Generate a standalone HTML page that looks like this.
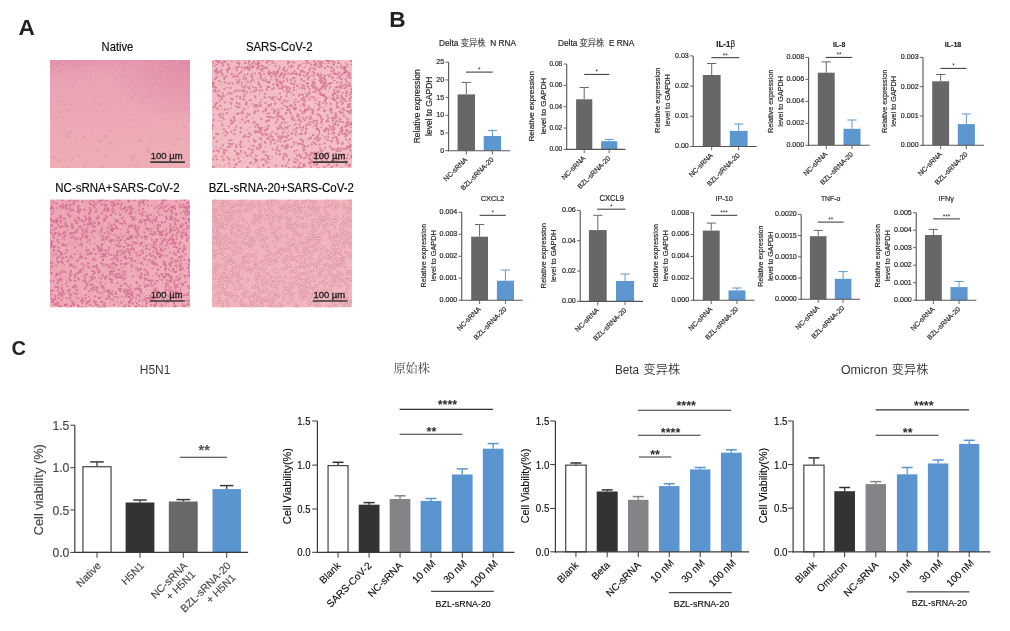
<!DOCTYPE html>
<html><head><meta charset="utf-8"><title>Figure</title><style>html,body{margin:0;padding:0;background:#fff;}svg{display:block;filter:blur(0.3px);}text{font-kerning:normal;}</style></head><body>
<svg width="1010" height="631" viewBox="0 0 1010 631" font-family='"Liberation Sans", Arial, "Noto Sans CJK SC", sans-serif' shape-rendering='auto'>
<rect width="1010" height="631" fill="#fff"/>
<text x="18.4" y="34.8" font-size="22.7" fill="#222" font-weight="bold">A</text>
<text x="117.45" y="50.7" font-size="13" stroke="#333" stroke-width="0.2" text-anchor="middle" textLength="31.7" lengthAdjust="spacingAndGlyphs">Native</text>
<text x="279.2" y="50.5" font-size="13" stroke="#333" stroke-width="0.2" text-anchor="middle" textLength="66.6" lengthAdjust="spacingAndGlyphs">SARS-CoV-2</text>
<text x="117.45" y="191.9" font-size="13" stroke="#333" stroke-width="0.2" text-anchor="middle" textLength="124.3" lengthAdjust="spacingAndGlyphs">NC-sRNA+SARS-CoV-2</text>
<text x="281.35" y="192" font-size="13" stroke="#333" stroke-width="0.2" text-anchor="middle" textLength="145.3" lengthAdjust="spacingAndGlyphs">BZL-sRNA-20+SARS-CoV-2</text>
<clipPath id="c1"><rect x="50" y="60" width="140" height="108.2"/></clipPath>
<linearGradient id="g1" x1="0" y1="0" x2="0.15" y2="1"><stop offset="0" stop-color="#e38eab"/><stop offset="0.16" stop-color="#eaa2b3"/><stop offset="1" stop-color="#eeadb5"/></linearGradient><radialGradient id="g1r" cx="1" cy="0" r="0.6"><stop offset="0" stop-color="#d8709a" stop-opacity="0.45"/><stop offset="1" stop-color="#d8709a" stop-opacity="0"/></radialGradient>
<g clip-path="url(#c1)">
<rect x="50" y="60" width="140" height="108.2" fill="url(#g1)"/>
<rect x="50" y="60" width="140" height="108.2" fill="url(#g1r)"/>
<path d="M68.8 151.7h0M156.9 87.6h0M119.4 108.6h0M141.2 145.3h0M63.1 63.1h0M167 106.8h0M156.7 60.2h0M112.4 138.1h0M82 162.3h0M176.2 63.3h0M53.6 118.6h0M181.5 101.2h0M80.3 105.7h0M54.1 84h0M111.3 113.6h0M82.6 85h0M80.6 109.7h0M90.6 62.3h0M167.3 120.2h0M139.9 80.1h0M189 153h0M66.9 96h0M151 137h0M181.1 105.7h0M166.2 132.5h0M92.5 123.6h0M173.5 151.6h0M120.7 123.7h0M54.8 86.3h0M161.6 104.8h0M74.2 119.4h0M148.4 133h0M102.5 107.5h0M121.2 144.2h0M122.9 102.6h0M118.6 63.2h0M56.1 136.1h0M187.6 124.2h0M105.1 78.4h0M120.3 166.3h0M157.9 118.4h0M170.4 85.1h0M121.9 163.1h0M130.9 109.7h0M87.7 119.3h0M184 60.6h0M159.7 148.8h0M174.1 140.1h0M163.3 116.1h0M128.6 106.1h0M57.9 154.1h0M129.8 81.6h0M120.7 112.5h0M100 97.4h0M125.4 127.5h0M135.7 109.6h0M53.9 84.8h0M74.8 123.2h0M170.5 146.4h0M161.6 148.3h0M85.7 151.1h0M144.2 69h0M52.3 61.6h0M155.8 87h0M65.3 127.6h0M98.2 67.5h0M72.3 117.1h0M73.5 89.5h0M149.6 109.2h0M95.1 111.3h0M53.3 101.8h0M108.9 80.3h0M65.2 157.4h0M121.4 82.6h0M134.8 148.4h0M52.9 61.9h0M70.5 137.8h0M72.4 136.2h0M144.9 118.9h0M80.9 165.6h0M161.7 115.9h0M81.2 130.2h0M105.3 122.3h0M95 128.3h0M58.2 92.3h0M185.5 154.7h0M92.9 152.9h0M93.5 161.6h0M154.1 105h0M85.3 60.9h0M173 64.1h0M164.7 164.1h0M129.8 78.6h0M171.5 165.4h0M148.6 115.1h0M102.9 97.5h0M78.8 132.9h0M110.6 81h0M64.6 132.1h0M91.5 114.1h0M95.5 154.3h0M176 62h0M78.1 95.5h0M188.2 144.7h0M97.5 83h0M144.4 150.6h0M180.5 97.2h0M173.5 134.3h0M117.8 166.6h0M82.8 138.5h0M61.9 78.4h0M177.5 83h0M156.3 124.9h0M167.8 99.8h0M97.6 91.5h0M171.4 125.4h0M183.6 156h0M68.9 119.6h0M64.6 64.2h0M60.2 153.7h0M160.3 149.6h0M97.7 126.6h0M159.5 100.9h0M129.9 84.2h0M61.4 88.9h0M174.7 121.1h0M179.5 109.5h0M88.8 145.2h0M165.9 61.3h0M143.9 69.9h0M66.1 155.8h0M55.6 85.9h0M188.3 105.6h0M66.2 78.1h0M83.8 140.5h0M64.4 158.5h0M103 165h0M177.3 91.8h0M85.5 111.6h0M64 130.6h0M55.5 61.1h0M187.6 92h0M133.5 108.7h0M93.9 66.8h0M177.9 164.9h0M185.8 72h0M80.1 126.8h0M187.2 118.7h0M146.3 131.6h0M86.3 118.6h0M93 86.7h0M61.4 90.4h0M187.7 108.5h0M141.3 129.6h0M181.7 102.2h0M92.9 95.4h0M94.3 151.7h0M175.1 92.8h0M96.8 118.9h0M131.1 124.5h0M84.3 62.2h0M84.1 67.8h0M127.2 67.7h0M60.5 128.7h0M90.7 145.7h0M119.1 153.3h0M71.6 114.3h0M161.3 68.3h0M182.9 78.7h0M158.7 166.6h0M165 94.6h0M65 115.7h0M178.7 91.8h0M175.1 75.3h0M177.5 63.4h0M94.2 157.7h0M162.5 158.2h0M167.7 140.7h0M146.5 79.3h0M110.6 77.1h0M150.1 132.3h0M85.4 67h0M184.9 147.5h0M126.9 118.6h0M169.2 109h0M105.4 96.6h0M86.1 62.6h0M140.5 105.1h0M129.9 66.7h0M99.7 75h0M67.5 88h0M166.1 103h0M106.2 126.3h0M82.7 60.8h0M124 114.2h0M140.8 107.4h0M146.1 139.1h0M83.4 113.6h0M117 84.4h0M107.7 120.6h0M177 159.3h0M88.5 129.9h0M56.7 67.7h0M121.6 154.9h0M72.3 142.9h0M173.6 93.7h0M147 151.9h0M102 135.9h0M153.1 124.3h0M169.9 157h0M184.4 121.8h0M74.7 87.1h0M80.5 121.6h0M156.1 65.6h0M145.4 137.6h0M98.7 115.7h0M73.1 139h0M55.7 166.2h0M163.1 128h0M87.5 158.8h0M184.3 75.1h0M158.6 151.1h0M142.4 135.8h0M112.3 160h0M186 101.4h0M162.4 106.8h0M73.1 95.2h0M67.7 158.3h0M184.3 72.9h0M134.1 104.2h0M66.5 92h0M84.8 141.1h0M50.6 80.5h0M111.4 62.3h0M137.9 125.5h0M166.9 82.4h0M89.9 118.7h0M88.3 123.4h0M85.1 134h0M160.8 147.5h0M186.3 119h0M118.7 152.6h0M157.7 121.7h0M103.7 90.7h0M65.1 147.4h0M66.5 140.9h0M126.3 164.4h0M156.5 165.3h0M69.1 114.1h0M130.2 93.7h0M120.4 98.6h0M124 60.1h0M111.9 108.6h0M92.7 103.2h0M159.6 133.9h0M118.9 130.1h0M102.9 82.1h0M50.5 90h0M133.7 155.4h0M166.1 115.3h0M188.2 109.9h0M166.8 104.3h0M154.2 166.9h0M92.7 78.4h0M136.8 117.4h0M100.3 60.4h0M104.5 106.1h0M106.7 153.2h0M131.8 139.4h0M175.7 141h0M119 140.7h0M139.6 130.2h0M138.2 104h0M138.1 128.6h0M181.2 144.7h0M168.5 143h0M164.1 125.5h0M98.9 88.6h0M149.1 154.6h0M126.2 76.5h0M166.6 112.4h0M115.4 64.9h0M121.4 140.6h0M109.2 98.4h0M142 62.1h0M121 162.4h0M146.7 103.5h0M146.4 125.5h0M79.2 82.5h0M174 89.1h0M60.5 149.9h0M123.2 99.8h0M121.6 139.7h0M73.6 130.7h0M149.9 148.2h0M87.8 126h0M82.5 120.7h0M74.1 145.5h0M171.3 95.7h0M81.1 164.3h0" stroke="#f6d2d2" stroke-opacity="0.3" stroke-width="1.1" stroke-linecap="round" fill="none"/>
<path d="M148.9 151.3h0M54.3 157.3h0M137.1 94.2h0M110.4 142.4h0M160 80.5h0M137.6 77.9h0M186.2 108h0M177.8 138.8h0M134.9 88.3h0M123.7 75h0M69.3 137.4h0M100.6 141.3h0M83.7 137.7h0M150.6 93.1h0M64.9 103h0M118.9 70.8h0M76.1 66h0M133.7 156.2h0M80.3 63.8h0M148.5 148.2h0M185 126.3h0M97.9 150.7h0M66.5 134.9h0M63.3 103.2h0M119.3 100.9h0M73.6 85.1h0M164.8 110.1h0M131.2 82.9h0M150.1 95.7h0M133.1 158.4h0M189.2 65h0M161.6 152.8h0M94.7 101.5h0M131.2 159.4h0M106 155.2h0M156.2 76.5h0M177.9 61.6h0M70.3 131.9h0M58 101.1h0M68.2 110.1h0M167.6 158h0M55 66.6h0M167.7 64.6h0M88.3 72.7h0M62.7 63h0M139.3 140.6h0M146.1 151.5h0M142.8 102.2h0M138.3 164.9h0M139.8 86.3h0M58.4 161.2h0M132.7 97.8h0M134.7 120.6h0M123.1 66.6h0M99.5 104.6h0M77.9 155.2h0M109.4 131.7h0M149.9 140.4h0M151 141.4h0M85.2 165.6h0M71.1 159.4h0M169.6 152.2h0M57.4 69.9h0M163.8 110.8h0M101.8 166.5h0M55.6 117.5h0M112.1 73.9h0M105.3 136.6h0M173.5 62.7h0M123.4 69.8h0" stroke="#c87090" stroke-opacity="0.4" stroke-width="3.2" stroke-linecap="round" fill="none"/>
<path d="M148.9 151.3h0M54.3 157.3h0M137.1 94.2h0M110.4 142.4h0M160 80.5h0M137.6 77.9h0M186.2 108h0M177.8 138.8h0M134.9 88.3h0M123.7 75h0M69.3 137.4h0M100.6 141.3h0M83.7 137.7h0M150.6 93.1h0M64.9 103h0M118.9 70.8h0M76.1 66h0M133.7 156.2h0M80.3 63.8h0M148.5 148.2h0M185 126.3h0M97.9 150.7h0M66.5 134.9h0M63.3 103.2h0M119.3 100.9h0M73.6 85.1h0M164.8 110.1h0M131.2 82.9h0M150.1 95.7h0M133.1 158.4h0M189.2 65h0M161.6 152.8h0M94.7 101.5h0M131.2 159.4h0M106 155.2h0M156.2 76.5h0M177.9 61.6h0M70.3 131.9h0M58 101.1h0M68.2 110.1h0M167.6 158h0M55 66.6h0M167.7 64.6h0M88.3 72.7h0M62.7 63h0M139.3 140.6h0M146.1 151.5h0M142.8 102.2h0M138.3 164.9h0M139.8 86.3h0M58.4 161.2h0M132.7 97.8h0M134.7 120.6h0M123.1 66.6h0M99.5 104.6h0M77.9 155.2h0M109.4 131.7h0M149.9 140.4h0M151 141.4h0M85.2 165.6h0M71.1 159.4h0M169.6 152.2h0M57.4 69.9h0M163.8 110.8h0M101.8 166.5h0M55.6 117.5h0M112.1 73.9h0M105.3 136.6h0M173.5 62.7h0M123.4 69.8h0" stroke="#f2c4c8" stroke-opacity="0.85" stroke-width="1.7" stroke-linecap="round"/>
</g>
<clipPath id="c2"><rect x="212" y="60" width="140" height="108.2"/></clipPath>
<linearGradient id="g2" x1="0" y1="0" x2="1" y2="1"><stop offset="0" stop-color="#f1bac2"/><stop offset="1" stop-color="#f3c0c4"/></linearGradient>
<g clip-path="url(#c2)">
<rect x="212" y="60" width="140" height="108.2" fill="url(#g2)"/>
<path d="M345.8 162.6h0M219.9 69.2h0M329 139.6h0M305.8 93.3h0M296.8 125.7h0M293.4 77.1h0M272.3 102.6h0M313.2 167.6h0M344.9 118.9h0M274.3 89h0M217 63h0M277.1 94.5h0M265.2 156.5h0M285.6 120.6h0M245.1 62.6h0M257.5 74.8h0M283.4 168.1h0M306.4 79.7h0M337.1 146.2h0M314.8 158.1h0M318.8 145.5h0M261.5 166.1h0M346.7 77.4h0M317.6 137.4h0M276.6 117.4h0M280.6 160.1h0M282.1 150h0M261.5 155.5h0M338 109.9h0M291.5 159.6h0M313.3 112.7h0M243.1 95.1h0M309.9 78h0M339.1 89h0M339.6 93.5h0M346 136.4h0M282.6 116h0M303.2 123.6h0M255.7 82.5h0M283.7 161.1h0M299.3 68.2h0M326.9 138.5h0M339.1 80.7h0M316.3 66.4h0M303.4 89.5h0M243.7 154.7h0M226.9 116.5h0M331.6 86.5h0M241.5 155.3h0M271.2 137.6h0M216.5 99.2h0M236.1 132.8h0M223.6 163.3h0M215.5 138.9h0M215 87.7h0M325.9 77h0M237.7 134.8h0M266 64.7h0M350.6 76.4h0M217.1 97.2h0M298.1 140.3h0M227.8 96.5h0M216.3 108.5h0M319.2 140.1h0M338.3 141.8h0M332.7 136.3h0M278.2 84.4h0M304.5 94.2h0M226.3 108.5h0M334.5 73.8h0M293.9 102.5h0M284.1 75.6h0M346.4 88h0M296.9 105.4h0M214.5 120.4h0M231.7 66.1h0M216.7 77.4h0M225.4 128.7h0M283.2 166.4h0M342.8 167.6h0M244.5 108.1h0M247.1 124h0M299.4 146.6h0M311.3 87.8h0M271.2 116.9h0M212.7 63.8h0M269.2 72h0M313.3 86.1h0M226 79.7h0M244.4 83.5h0M284.9 110.2h0M255.4 129.4h0M241.7 158.1h0M346.8 138.9h0M272.7 115.3h0M293.4 65.5h0M270.5 116.8h0M237.4 70.1h0M324.4 99.6h0M284.7 159.7h0M297.5 91.3h0M349.7 100.3h0M214.7 134.2h0M226.2 93.1h0M329.7 132.8h0M214.2 108.8h0M269.5 112.6h0M241.2 123.7h0M222.3 90.8h0M264.2 161.2h0M222.7 141.7h0M238.9 121.8h0M266.8 110.1h0M317.5 102.7h0M229 73.2h0M223.3 152h0M301.7 163.8h0M309 62.7h0M304.3 144.1h0M313.3 113.9h0M262.1 109.5h0M323.8 89.1h0M285.7 111.7h0M345.7 147h0M342.5 150.5h0M253.5 85.1h0M280.4 88.1h0M271.9 133.5h0M340.6 123.4h0M326.5 70.4h0M261.8 168h0M232.5 105.1h0M221.4 69.3h0M337.4 167h0M302.7 73.9h0M253.5 85.1h0M305.9 133.7h0M273.4 116.7h0M227.7 118.5h0M345 141.8h0M225.5 115.9h0M312.2 87.8h0M337.3 109.9h0M310.5 103.7h0M351.3 144.7h0M292.3 75.7h0M273.8 63.2h0M295.3 155.4h0M237.3 115.2h0M279.5 103.8h0M311.5 161.3h0M310.8 111.1h0M346.7 95.8h0M316.4 131.2h0M318.6 152.2h0M243.5 127.2h0M268.4 132.2h0M348.8 128.7h0M213.6 110.3h0M311.6 155.6h0M303 148.3h0M214.4 162.1h0M314.1 125.6h0M338.7 155.7h0M226.1 148.3h0M319.4 81.6h0M316.2 123.4h0M238.8 147h0M231.3 126.3h0M272.8 87.4h0M291.3 110.5h0M240.7 164.6h0M222.2 60.3h0M280 150.6h0M304.2 141.7h0M279.9 133h0M258.9 88.9h0M282.4 63h0M223.2 141.6h0M236.3 141.2h0M321.8 103.8h0M306.5 145.2h0M333 74.6h0M234.8 101.3h0M277.1 91.9h0M213.5 120.3h0M347.4 99.7h0M287.3 101.4h0M274 154.2h0M255.2 130.2h0M279.7 118.3h0M340.1 68.3h0M327.4 92.9h0M302.5 146.1h0M303.5 102.5h0M329.7 70.1h0M300.7 102.3h0M286.3 152.1h0M323.7 128h0M255.1 85.2h0M276.1 85.1h0M250.8 163.6h0M227.7 148.6h0M265.1 99.5h0M256.6 68.4h0M276 78h0M273.9 91.6h0M337.2 159.7h0M273.9 129.2h0M342.1 95.3h0M225.9 85.7h0M238.5 133.4h0M264.3 98.5h0M323.3 85.2h0M325.2 128.5h0M268 149.1h0M259.9 155.1h0M341.6 114.4h0M308.6 162.7h0M316 141.3h0M333.7 161.2h0M317.5 165.9h0M252.8 127.4h0M305.9 99.8h0M267.3 78.9h0M346.1 98.3h0M278.7 156.7h0M238.1 163.9h0M229.8 63h0M261.1 98.9h0M340.5 155.6h0M318.6 107.2h0M288 85.6h0M328.7 102.2h0M251.9 129h0M233.1 94.2h0M341.7 70.3h0M231.9 82.1h0M247.1 105.5h0M247 97.1h0M246.5 86h0M297.5 96.4h0M264.2 143.1h0M220.6 75.6h0M331.1 106.5h0M321 74.4h0M285.2 151.5h0M259.3 143.1h0M297.5 102.7h0M351.6 102.4h0M278.3 127h0M256.4 150.6h0M295.7 123.6h0M287.4 166.6h0M350.5 151h0M275.6 104.6h0M285.5 65h0M227.2 167.7h0M229.9 161.4h0M307.2 159h0M222.8 93.1h0M323.7 61h0M226.8 97.9h0M236.2 75.9h0M305.8 69.9h0M348 130.3h0M219 157.2h0M245.8 112.1h0M290.2 75h0M282.3 66.5h0M239.9 159.4h0M327.1 116.6h0M307.5 154.7h0M231.6 113.2h0M230.4 72.6h0M227.2 82.9h0M219.4 83.3h0M265.1 127.4h0M332.2 157.8h0M312.5 114.9h0M340.4 77.6h0M226.8 148.5h0M299.8 82.8h0M264.8 92.2h0M272.3 106.3h0M267.7 146.3h0M325.6 120.9h0M278.2 90.8h0M319.1 166.8h0M244.1 136.1h0M309.9 131.2h0M216.3 119.7h0M240.3 81h0M293.2 129.8h0M299.6 140.3h0M310.4 111.4h0M218.7 143.6h0M327.2 150.4h0M295.7 64.1h0M239.4 71.7h0M301 118.9h0M238.1 163.4h0M348.9 157.3h0M276.9 91.6h0M241.2 149.2h0M310.1 90h0M338.3 121.6h0M269.8 105h0M312.9 109.3h0M304.3 73.2h0M310.3 89.5h0M339.5 83.2h0M258.7 118.2h0M266.9 116.9h0M341.3 81.8h0M320.1 135h0M322.1 108.4h0M275.6 97.4h0M278.3 87.5h0M238.7 111.5h0M238.9 110.8h0M292.3 93.5h0M235.9 125.5h0M332.4 84h0M298.2 131.3h0M335.9 133.8h0M255.1 82.4h0M329.2 92.4h0M213.8 154.2h0M239.7 93.9h0M256.7 87.7h0M313.4 97.1h0M273.7 105.4h0M328.7 62h0M293.2 74.3h0M233.1 125.7h0M264.6 67h0M294.3 158.9h0M302.3 113.6h0M324.1 159.1h0M233.2 92.4h0M347.1 160.2h0M240.4 136.1h0M334.4 124h0M310.3 116.7h0M244.9 83.1h0M220.7 132h0M231.4 127.2h0M266.8 107.2h0M347.9 102.4h0M278.5 101.1h0M242.1 84.2h0M286.6 148.4h0M224.7 162.3h0M306.4 65.8h0M311 103.4h0M284.1 70.9h0M283.4 116.3h0M321.5 122.9h0M310.7 139.5h0M243 62.7h0M279 74h0M231.8 94.8h0M287.3 126.6h0M302.5 162h0M226.3 120.4h0M224.1 132.5h0M273.2 75.2h0M255.5 131.5h0M278.3 162.2h0M261.7 96.8h0M341.2 125.6h0M227 144.9h0M262.9 162.5h0M301 147.1h0M337.4 115.1h0M347.4 62.8h0M259.7 150.6h0M213.2 132.8h0M351.9 137.4h0M332.7 68.3h0M287.6 126h0M273 105.4h0M322.7 77.6h0M218.3 124.2h0M347.3 149.5h0M306.2 91.9h0M338.6 64.4h0M246.5 145.3h0M337.3 103.6h0M339.3 72h0M295.6 67.3h0M244.7 80.5h0M212.9 103.9h0M282 90.4h0M303.2 65.7h0M284.4 117.1h0M268.4 159h0M229.7 106.2h0M276.4 100.3h0" stroke="#f8d6d6" stroke-opacity="0.55" stroke-width="1.2" stroke-linecap="round" fill="none"/>
<path d="M348.3 121.9h0M323.9 130.1h0M295.2 73.8h0M301.3 121.6h0M273.9 110.3h0M345.3 148.9h0M348.2 119.3h0M308.1 86.7h0M263.1 151.7h0M304.9 120.2h0M309.5 99.2h0M260.8 75.9h0M302.9 104.2h0M350.3 147.4h0M339.6 121.7h0M305.8 132.2h0M217.6 109.2h0M343.9 99.2h0M314.6 79.3h0M257.6 68.7h0M268.3 159.4h0M225.2 62h0M281.1 137.3h0M347.9 154.7h0M292.5 84.1h0M291.5 138.6h0M313.1 84.3h0M283.5 77.5h0M278.2 99.1h0M330.2 126.6h0M239.6 80h0M329.2 61.1h0M254.7 121.8h0M229 163.7h0M324.7 155.1h0M346.4 66.8h0M279.7 68.1h0M285.7 146.4h0M215.8 156.3h0M270.4 73.6h0M277 81.4h0M259.3 144.8h0M324.6 129.8h0M233.8 159.8h0M345.3 126.4h0M346 139.3h0M289.4 62.2h0M317.5 74.8h0M349.4 133.2h0M253.3 66.9h0M346.7 72.4h0M337.7 98.1h0M335.1 118h0M342.2 121.8h0M244.2 96.2h0M238.1 107.3h0M303.9 150.2h0M341.6 130.7h0M218 134.1h0M270.9 142.8h0M311.4 118.1h0M282.4 85.7h0M268.9 71.5h0M260.2 102.6h0M316.5 88h0M259.3 84.5h0M346.4 160.9h0M236 76.3h0M254.1 106.1h0M238.6 60.2h0M265.2 93.9h0M249.6 88.8h0M255.3 105h0M236.2 147.2h0M292.7 117h0M257.1 67.8h0M341.8 155.9h0M277.8 129.1h0M349.7 106.9h0M336.5 114.9h0M307.1 83.8h0M342.9 122.1h0M282.3 87.6h0M248.6 62.8h0M268 158.5h0M321.6 81.1h0M277.4 79.9h0M263.4 165.4h0M306.6 155.3h0M256.9 105.2h0M265.6 133.7h0M309.2 92.1h0M236.3 145.4h0M328.5 164.7h0M303.3 142.1h0M343.7 158.1h0M294.6 71.2h0M319.8 156h0M216 87.6h0M304 104.5h0M336.1 157.8h0M288.1 63.6h0M245.5 86.3h0M305.5 133.6h0M338.3 60.1h0M293.6 129.8h0M308.8 154.8h0M230.4 145.2h0M226.8 113.2h0M241.9 90.7h0M326.7 121.2h0M351.9 64.6h0M299.3 167.8h0M302.3 70.7h0M302.5 85.2h0M279.2 76.4h0M264.5 130.6h0M240.1 96.6h0M231.3 123.7h0M218.3 72.5h0M322.5 161.3h0M240.9 150.8h0M227.7 72.1h0M317.3 140.5h0M339.5 159.4h0M287.2 89h0M324.9 143.3h0M315.1 69.4h0M216.3 60.7h0M303.4 166.4h0M347.7 148.5h0M222.1 156.6h0M318.2 153.6h0M331.3 167.4h0M299.2 154.5h0M294.2 84.3h0M274 112.6h0M256.7 148h0M311.4 154.7h0M268.4 72.9h0M317.6 155.2h0M317.3 89.9h0M306.7 74.7h0M339.8 87.5h0M237.5 113.9h0M331.2 71.1h0M212.6 82.6h0M326.8 161.6h0M279.5 116.7h0M346.3 162.8h0M269.1 117.1h0M286.2 148.7h0M276.6 149.8h0M236.3 126.7h0M288.3 73.5h0M297.2 127.9h0M348.7 124.4h0M345.8 136.1h0M325.1 83h0M238.8 66.6h0M280 125.4h0M295.1 105.1h0M286.2 86.6h0M325.5 97h0M307.1 110.4h0M258.3 60.4h0M269.1 106.1h0M334.1 90.4h0M346 87.5h0M234.7 129.8h0M344.8 70h0M261.6 159.6h0M227.5 133.1h0M343.6 149h0M248.9 121.3h0M294.3 120.1h0M285.1 71.5h0M319.2 133.8h0M300.3 156h0M328 61h0M248.7 62.8h0M347.9 131.2h0M267.6 86.8h0M325.2 89.1h0M213 62.4h0M321.9 121.7h0M309.4 156.1h0M215.1 71.1h0M228.6 93.5h0M349.7 164.4h0M271 104.7h0M275.4 75.5h0M326.3 103.4h0M326 159h0M349.7 100.8h0M247 92.3h0M340.7 128.6h0M259.9 147.2h0M239.4 162h0M282.1 117.3h0M317.9 152.4h0M254.2 112.6h0M300.5 143.8h0M343.7 109.4h0M271.1 117.3h0M335.1 124.6h0M251.8 74.4h0M301.8 133.9h0M346.7 123.1h0M287.8 146.7h0M320.7 93.4h0M245 122.4h0M279.9 154.4h0M213.6 119.8h0M332.7 95h0M300.2 134.1h0M277.1 147.6h0M322.1 78.1h0M306 109.2h0M223 65.6h0M225.5 135.4h0M326.3 128.4h0M231.2 120.5h0M313.5 83.4h0M262.2 90.3h0M317.6 114.5h0M328.5 62.9h0M246 104.3h0M231.3 93.5h0M346.3 95.9h0M226.6 76.1h0M307.6 124.3h0M269.1 113.3h0M318.6 140.5h0M304.8 165.8h0M295.6 124.2h0M311.2 109.6h0M241.8 82.8h0M215.3 104.7h0M319.9 92.4h0M228.2 64.3h0M286.6 96.1h0M312.1 86.2h0M350.3 86h0M273.3 117.7h0M310.3 116.3h0M326.8 85.8h0M277.9 86.3h0M346.9 129.8h0M256.2 107.3h0M255.3 126.7h0M341 150.7h0M271.3 73h0M321.3 82.3h0M262 127.9h0M303.7 75.3h0M229.1 66.8h0M350.8 60.7h0M252.2 77.3h0M261 69.3h0M293.7 142.2h0M313 135.2h0M223.3 159.8h0M337.4 82.5h0M283.9 119.4h0M301.7 99.1h0M284.1 75.7h0M261.3 119h0M215.3 105h0M334.3 73.3h0M247.6 113.6h0M251.4 67.6h0M303.6 150.5h0M290 88.5h0M331.5 148.6h0M315.8 63.4h0M314.4 164.5h0M316.6 129.1h0M319.5 144.7h0M324.7 76.1h0M340.8 83.6h0M279.8 138.9h0M336.9 121.1h0M333.4 97.5h0M260.5 87.4h0M268.7 125.9h0M274.7 143.3h0M253.4 146h0M282.6 136.8h0M289 90.9h0M328.6 133.8h0M268.9 120.6h0M298.1 167.7h0M277.2 73h0M286.8 156h0M338.2 125.1h0M300.8 163.1h0M348.3 105h0M268.7 60.9h0M304.1 86.2h0M345.3 126.4h0M233 122.7h0M335.3 153.6h0M319.5 101.9h0M220.2 71.5h0M315.7 91.8h0M218.3 95.7h0M338.9 134.7h0M317.8 135.8h0M302.2 113.6h0M330.1 146.5h0M332.3 118.4h0M322.6 155.2h0M272.1 89.3h0M286.9 107.3h0M304.1 81h0M275.1 104.1h0M326.9 97.8h0M298 102.1h0M314 157.3h0M341 65.6h0M267.5 129.1h0M312.6 81.9h0M269.7 105.2h0M344 115.6h0M310.4 163.5h0M348 72.4h0M334.3 124h0M280 93.3h0M313.5 87.6h0M219.8 95.8h0M328.5 131.1h0M330.8 83.2h0M349.7 78h0M263.5 152.4h0M288.3 63h0M251.8 63.8h0M305.9 125.7h0M213.5 120.6h0M278.3 136.8h0M268.9 137.9h0M298.9 66.1h0M320.9 80h0M267.7 113.6h0M240.9 146.8h0M269.8 72.5h0M349.7 112.9h0M232.6 99.4h0M330 60.8h0M346.6 81.5h0M237 62.7h0M285.6 155.6h0M236.4 106.4h0M351.2 124.4h0M319.8 76.1h0M328.5 118.1h0M237.1 153.2h0M246.6 102.6h0M350.7 145.2h0M351.2 155.9h0M249.1 60.9h0M342.5 133.7h0M309.6 89.2h0M312 162.2h0M256.2 88.2h0M337.3 95.4h0M271.3 76.6h0M330.8 104h0M341.5 96.1h0M328.8 153.1h0M302.3 144.5h0M347.1 146.6h0M295.8 162.4h0M250.3 155h0M309.7 92.2h0M219 90.8h0M303.4 147.9h0M244.9 135.5h0M287.4 80.8h0M258.7 127.9h0M238.4 158.5h0M330.5 83.1h0M333 120.5h0M317.7 128.8h0M319.8 157.8h0M332.3 99.1h0M307.2 94.4h0M323.4 82.3h0M335.4 115.8h0M325.2 79.8h0M338.5 142.8h0M214.4 86.9h0M349.3 83.2h0M311.8 144.5h0M286.5 156.3h0M217.2 150.4h0M351.1 122.8h0M245.3 153.3h0M292.5 66.4h0M329.9 126.6h0M315.6 158.5h0M306 128.9h0M320.4 148.5h0M319.6 104.2h0M223.8 152h0M324.4 84.6h0M319.9 116.1h0M276.4 122h0M214.1 91.3h0M329.2 75.7h0M239 81.7h0M337 87h0M321.5 88h0M278.8 136.5h0M243.7 87.5h0M344.7 99.2h0M292.9 119.5h0M338.3 148.2h0M342.7 92.8h0M278.1 71h0M344.6 72.8h0M269.2 87.2h0M253.8 140h0M317.3 137.8h0M276.6 84.4h0M227.9 69.4h0M288.7 139.8h0M247.8 68.5h0M338.4 107.4h0M301.5 71.5h0M295.2 134.7h0M251.4 76.2h0M265.6 160.6h0M290.8 105.6h0M240.7 141.6h0M335.7 118.5h0M282 74.4h0M242.3 119.5h0M308.3 146h0M261 133.1h0M347.3 157.9h0M324.7 86.5h0M305.6 60.1h0M265.2 130.1h0M283.1 133h0M231.2 103.7h0M277.7 119.4h0M300.3 65.4h0M225 82.5h0M350.4 97.9h0M260 105.7h0M330.9 110.8h0M266.8 134.5h0M260.9 138.4h0M351.2 110.4h0M279.9 153.9h0M214.1 137.8h0M311.1 161.6h0M215.2 89.9h0M337.7 106.9h0M239.2 64.1h0M214.1 87.1h0M242.5 113.1h0M345.4 133.2h0M224.4 88.9h0M350.9 92h0M216.4 76.8h0M281.9 123h0M348.9 104.9h0M247.5 167.2h0M281.9 108.7h0M261.9 69.6h0M340.9 148.6h0M323.2 103.1h0M305.9 157.6h0M342.6 112.7h0M244.7 94.5h0M262.5 60.8h0M234.4 167.4h0M314.8 138.8h0M337.4 151.2h0M347.2 122.3h0M255.6 111.2h0M334 73.3h0M282.7 119.1h0M274.4 74h0M320.3 62h0M287.6 144.8h0M229.4 159.6h0M291.9 133h0M262.9 66.5h0M223 118.4h0M221.9 98.9h0M250.1 163h0M222.6 63.9h0M272.5 63h0M341.4 88h0M287 78.8h0M214.5 107.3h0M228.4 109.6h0M238 76.8h0M346.7 164.3h0M249.8 68.3h0M286.6 91.3h0M313.1 113.8h0M224.6 153.1h0M284.8 141h0M324 111.2h0M287.8 127.5h0M294.7 109.6h0M280.2 99.6h0M350 94.7h0M240.9 127.9h0M301.3 157.7h0M336 121.9h0M244.8 90.5h0M230.4 144h0M320.1 88.8h0M347.5 64.5h0M305 110h0M281.9 136.1h0M234.3 118.7h0M236.7 96.3h0M282.6 128.6h0M316.8 165.2h0M263.7 159.2h0M317.6 163h0M301.2 71.6h0M344.1 69.4h0M233.8 76.8h0M345.9 125.9h0M255.4 159.7h0M275.5 103.2h0M290.7 66.3h0M303.2 127.1h0M220.5 117h0M327.5 152.8h0M318.8 108.8h0M276.1 153.4h0M343.9 159.4h0M348.5 146.7h0M286.8 137.4h0M322.6 85.6h0M249.4 60.1h0M297 85.9h0M313.9 142.7h0M254.6 131.2h0M286.7 148h0M332.8 149.2h0M266.8 89.9h0M224 149.9h0M222.6 74.9h0M258.4 126.9h0M242.4 111.5h0M283.9 101.3h0M349.6 98.7h0M272.4 137.1h0M324.2 167.2h0M316.3 65.5h0M309 77.1h0M327 159.3h0M237.4 81.9h0M282.4 166h0M285.3 74.2h0M309.4 122.2h0M299.2 95.1h0M225 109.5h0M291 113.3h0M288.8 167.8h0M302.7 140.5h0M299.7 95h0M274 88.2h0M313.2 122.4h0M344.5 154.3h0M313.7 68.5h0M280 125.1h0M335.7 113.3h0M335.9 87.7h0M293.3 73.1h0M265.9 110.7h0M255.2 96.5h0M294 87.6h0M277.6 141h0M265.9 81h0M319.2 130.7h0M339.3 72.5h0M215 78.9h0M311 166.8h0M250.7 134.6h0M272.2 99.3h0M296.2 131.9h0M314.3 85.3h0M268.3 105.6h0M328.1 121.2h0M258.1 66.6h0M283.6 80.9h0M220.5 148.3h0M299.7 65h0M311.2 118.1h0M249 70.1h0M241.9 85.5h0M239.2 104h0M313.4 91.8h0M262.1 133.6h0M260.7 77.5h0M237.2 154.9h0M332.6 68h0M324.9 68.2h0M267 121h0M228 68.9h0M239.5 90.6h0M255.6 161.9h0M278.8 128.1h0M251.9 152.7h0M349.8 73.5h0M255.9 64.2h0M320.5 158.8h0M304.2 106.1h0M264.9 67.9h0M251.2 162.9h0M304.4 72.1h0M349.8 139.6h0M304.4 150h0M336.8 138.3h0M325.1 147.6h0M217 69.1h0M213.4 159.5h0M222.4 114h0M317 153.5h0M343.8 67.3h0M246.1 78.5h0M324.3 95h0M336.8 102.3h0M231.3 98.9h0M304.8 99.8h0M316.8 123.3h0M302.6 117.6h0M324.7 131.5h0M300.1 133.9h0M338.6 90.9h0M343.2 108.6h0M259.3 149h0M308.9 138.9h0M236.4 164.5h0M241.2 72h0M276.2 165.7h0M224.2 61.2h0M325.8 98.8h0M212.4 85.1h0M327.3 139.5h0M314.3 97.3h0M238.5 60.1h0M320.7 151.1h0M310.2 124.8h0M274.8 71.9h0M311.1 64.6h0M350.7 112.8h0M241.9 67.3h0M323.4 94.8h0M308.1 79.7h0M337.7 106.9h0M254 61.7h0M233.2 76.5h0M254.9 159h0M214 150.8h0M252.9 150.3h0M306.5 117.7h0M284.8 136.6h0M333.1 117.3h0M318.5 114.5h0M312.8 87.6h0M313.5 157.4h0M298.1 68.5h0M279.8 81.8h0M291.3 105.4h0M228.4 158.4h0M350.5 145.1h0M347 135.2h0M290 112.1h0M349.1 166.2h0M327.6 60.4h0M259.3 62.9h0M334.7 155.9h0M343.4 85.2h0M268.2 82.2h0M283.3 87.2h0M319.2 90.5h0M244.2 99.7h0M344 73.4h0M276 134.2h0M293.1 62.5h0M224.2 153.5h0M264.1 74.3h0M305.5 146.6h0M319.5 80.7h0M347.6 107h0M328.1 66.5h0M255.7 131.7h0M277.7 112.9h0M266.1 109.2h0M348.7 74.8h0M292 73.6h0M236.8 103h0M243.8 77.4h0M314 72.7h0M344.6 88.2h0M294.4 151.3h0M220.3 105.8h0M229.6 146.9h0M304.2 88.7h0M265.4 102.8h0M300.6 110.6h0M330.2 86.8h0M260.4 129.5h0M319.1 105.4h0M335.8 73.9h0M345.7 84.7h0M333.5 64.6h0M255.2 111.8h0M267.9 156.7h0M269.4 74.6h0M240.3 98.6h0M285.8 127.2h0M333 130h0M258.1 63.5h0M342.9 102.6h0M253.7 62.3h0M228.3 83.7h0M234.7 91.5h0M268.6 167.5h0M306.2 153.3h0M316.4 88.7h0M258 124.8h0M342.1 127.2h0M331.3 140.9h0M300.8 139.5h0M228.8 126.6h0M314.4 61.5h0M218.2 62h0M260.5 73.7h0M333 126.5h0M337.1 165.5h0M347 125.9h0M342.4 129.7h0M321.7 63.4h0M260.6 144.4h0M231.7 74h0M267.6 116.9h0M347.9 124.9h0M297.4 167.9h0M339.7 118.6h0M309.1 162.3h0M302.3 94.6h0M272.8 139.9h0M311.5 160.4h0M248.3 87.4h0M298.8 116.3h0M276.8 85h0M262.9 135.1h0M245.3 62.9h0M296 128.8h0M255.5 132.7h0M297.4 115.9h0M290.8 74.3h0M262.8 79.9h0M338.9 150.7h0M324.8 137.3h0M243.1 91.3h0M306 63.5h0M304.2 119.7h0M238.4 113.5h0M348.1 85.5h0M309.5 70h0M221.7 70.1h0M281.5 83.2h0M324.8 110.4h0M313.2 135.2h0M331.7 141.5h0M290.9 79.9h0M316.7 126.4h0M288.3 135.5h0M307.1 61h0M316.2 124.7h0M286.7 147.9h0M317.9 73.8h0M275.7 66h0M322.4 87h0M291.6 146.9h0M269.7 97.2h0M337.3 67.1h0M284.8 122.5h0M242.9 112.9h0M222.8 145.4h0M313.9 87.4h0M344.9 68.2h0M315.3 87.6h0M301.3 79.7h0M239.2 63.2h0M322.7 160.6h0M336.6 141h0M218.8 151.4h0M273.2 98.2h0M266.7 67.3h0M257.1 160.5h0M236.7 114.2h0M222.2 125h0M341.6 74.8h0M309.8 158.9h0M318.2 104.4h0M319.8 64.1h0M280.5 141.7h0M216.1 134.1h0M297.2 155.8h0M267 139.1h0M338.3 62.9h0M287.5 92.9h0M347.4 76.5h0M232.5 144h0M315.2 138.6h0M324.4 78.5h0M304.4 112.6h0M230.4 87.9h0M320.9 122.5h0M240.8 128h0M313.2 153.1h0M322.8 95.1h0M253 87.1h0M344.1 68.7h0M220.9 96.9h0M332.5 133.4h0M290.9 67.3h0M330.7 162.1h0M313.9 120.7h0M264.6 97.4h0M303.8 145.6h0M278.4 115.4h0M337.7 141.9h0M245 152.6h0M273.2 84.4h0M231.8 93.8h0M300.2 127.4h0M298.3 65.8h0M346.9 91.1h0M296.9 74.5h0M219.3 114.8h0M327.6 115.3h0M258.3 110.8h0M215 71.4h0M234.4 134.2h0M212.8 125.3h0M300.1 75.2h0M250.6 81.3h0M286 165.9h0M341.4 155.7h0M334 99.5h0M216.6 64.6h0M250.9 100.1h0M348.4 146.9h0M259.5 73.6h0M340.3 112h0M339.8 155.9h0M324.4 79.2h0M240.6 132.2h0M264.9 142.1h0M320.1 138.7h0M216.2 91.8h0M219.6 62.3h0M212.1 166.9h0M307.9 72.8h0M252.6 152.7h0M302.3 129.8h0M258.2 82.4h0M323.9 96h0M319.4 66.9h0M347 71.6h0M249.1 136.8h0M216.4 103.3h0M317 120.7h0M305.8 152.9h0M295.8 99.6h0M304.4 101.2h0M313.6 75.6h0M288.8 160h0M232.7 122.6h0M321.8 119.6h0M217.9 95h0M278.3 84.4h0M330.4 109.5h0M244.8 67.9h0M321.9 155.5h0M335.8 160.3h0M267.5 128.5h0M266.9 62.6h0M306.4 96.6h0M225.7 131.5h0M351.6 89h0M337.9 143.5h0M325.3 100.9h0M221.9 73.1h0M341.7 79.2h0M289.8 106.1h0M333.1 137.9h0M216.7 141.6h0M333.3 93.9h0M266.7 162.8h0M318.4 167.9h0M284.5 67.4h0M213.1 126.2h0M294.8 166.8h0M238.7 153.6h0M214.1 166.8h0M259.5 90.7h0M310.1 119.2h0M320 78h0M320.2 116h0M241.1 142.3h0M340.3 86.5h0M293.8 78h0M249.4 65.5h0M283.3 69.8h0M304.3 146.8h0M219.7 100.6h0M302 87.9h0M334.3 132.9h0M232.9 83.6h0M299.6 124.6h0M310.4 68.1h0M255.5 141.2h0M243.6 137.2h0M324.3 77.8h0M321.4 74.9h0M296 108.1h0M322.2 62.2h0M260.1 128.4h0M284.6 105.8h0M213.7 83.8h0M216.5 71.5h0M294 162h0M280.6 74.1h0M340.2 132.4h0M345.7 101h0M348.1 111.7h0M320.9 66.5h0M322.7 150.5h0M223.2 95.8h0M287.9 87.2h0M312.1 161.2h0M294.3 102.5h0M341.3 113.4h0M299.1 165.3h0M284.4 153.8h0M345.7 79.2h0M252.5 79.8h0M331.6 112.8h0M344 110.3h0M320.3 76.4h0M315.6 143.8h0M343.6 116h0M229.4 140.3h0M320.1 161.9h0M341.4 100.3h0M246.7 67.5h0M247.9 121h0M283.6 159.5h0M253.8 62.6h0M239.5 73.5h0M315 154.4h0M341.6 130.8h0M271 136.2h0M337.4 92h0M307.5 124.5h0M331.2 129.1h0M247.6 74.2h0M249.1 133.2h0M335.4 114.9h0M304.1 158.2h0M272.7 149.5h0M268.7 60.3h0M337.6 125.2h0M258.5 167.8h0M308.5 77.1h0M241.4 113.1h0M308.1 83.3h0M332.3 166.6h0M337.3 67.1h0M289.5 109.3h0M346.9 147.4h0M329 164.3h0M299.9 167.9h0M342.4 144h0M259.2 73.2h0M314.4 65h0M308.7 109h0M223.7 159.9h0M346 92.8h0M281.8 103.5h0M277.5 113.8h0M265.9 79.8h0M216.5 72.2h0M312.2 112.1h0M283.1 157.5h0M234.6 120.8h0M293.5 108.2h0M339.4 111.8h0M322.2 160.3h0M294.9 81.5h0M266.6 129.9h0M270.4 140.6h0M223.9 129h0M336.8 107h0M282.2 146h0M280.2 88.4h0M349.2 146.5h0M213.7 83.7h0M287.2 70.4h0M298.4 144.1h0M295.5 159.2h0M222.9 93.1h0M335.8 150h0M251.8 149.6h0M335.1 100.2h0M334.5 62.5h0M351.1 131.4h0M263.3 111.7h0M328 129.2h0M276.6 116.8h0M338.8 76.2h0M217.1 159.3h0M240.1 144.5h0M261.7 65.6h0M226.4 150.5h0M264.3 152.1h0M308.7 62.9h0M235 150.9h0M310.9 138.2h0M219.1 81.1h0M318.4 61.4h0M224.5 79.1h0M298.2 114.9h0M335 93.7h0M247.8 82h0M350.3 150.4h0M326 60.7h0M284 86.8h0M308.8 107.1h0M266.6 121.1h0M299.5 119.6h0M331.2 108.5h0M248.8 148.7h0M314.6 82.9h0M331.1 110h0M337.7 159.5h0M342 103.9h0M237.8 83.3h0M255 73.4h0M333.9 70.2h0M249.5 114.7h0M337 165h0M244.3 109h0M216.2 70h0M311.5 153.1h0M260.9 69.9h0M345.7 87.6h0M304.3 104.5h0M258.3 62.1h0M258.4 131.9h0M281.2 127.6h0M233.8 116.9h0M346.4 130.5h0M237.1 67.7h0M253.9 91.5h0M339.8 78.2h0M257.5 131.3h0M247.5 156h0M278.3 109.6h0M293.6 90.2h0M256.8 124.5h0M332.9 61.4h0M281.3 116.5h0M312.8 109.7h0M344.8 70.7h0M279.8 150.8h0M349.6 111.6h0M260.7 131h0M278.7 112.5h0M222.3 63h0M339.1 63h0M228.6 146.9h0M319.3 155.7h0M311.9 96.9h0M269.8 81.6h0M291.1 83.2h0M229.8 68.7h0M341.1 68.1h0M231.3 131.8h0M236.6 69.8h0M273.6 71.8h0M314.2 60.9h0M314.7 152.5h0M275.2 110.9h0M297.8 160.1h0M246.8 116.6h0M333.6 71.8h0M320.8 95.2h0M269.4 82h0M256.1 90.4h0M287.3 110h0M212.3 128.6h0M348.3 124.9h0M258.8 132.3h0M224.8 102.5h0M346.9 93.4h0M265.3 142.8h0M342.5 97.8h0M349.9 75.2h0M286.6 145.6h0M237 90.6h0M304.3 111.4h0M321.1 117.5h0M343.2 154.7h0M337.1 103.5h0M326.4 121.5h0M304 164.4h0M330.2 110h0M328.4 83.9h0M304.3 164.1h0M309.1 93.6h0M224.5 77.3h0M331.8 162h0M351.8 157.7h0M293.5 94.8h0M331.6 108.6h0M291.5 118.5h0M286.5 101.7h0M304.6 99.9h0M342.1 131.1h0M291.6 83.3h0M332 77.5h0M281 96.9h0M331.8 161.1h0M303.7 97.4h0M256 156h0M279.3 99.8h0M226.9 70.1h0M309.6 70h0M312 85.1h0M302.6 98.5h0M285.9 114.1h0M265.8 155.2h0M336.2 137.2h0" stroke="#c8527e" stroke-opacity="0.55" stroke-width="2.3" stroke-linecap="round" fill="none"/>
<path d="M288.7 109.9h0M340.7 76.3h0M255.5 87.3h0M271.4 98.2h0M246 136.4h0M298.8 162.6h0M246.2 102.9h0M265.5 127.5h0M254.6 123.6h0M325.9 83.3h0M258.1 64.8h0M337.6 73.9h0M349.8 104h0M303.4 164.9h0M343.2 142.6h0M329.5 88.3h0M325.9 86.9h0M325.8 130.4h0M245.5 80.8h0M334.7 92.5h0M350.8 127.6h0M314.9 99.2h0M328.7 137h0M328.7 137.4h0M265.3 135.7h0M318.8 110.4h0M314.3 125.4h0M299 143h0M286.7 60h0M345 69.1h0M325.2 110.6h0M299.6 121.1h0M265.1 77.5h0M302.5 153.8h0M336.4 73.8h0M289.9 125.6h0M231.1 140.6h0M244.1 75h0M236.7 79.7h0M287.5 163h0M298.4 96.4h0M232.1 60.9h0M219.7 165.7h0M223.5 116.2h0M321.2 107.9h0M345.3 62.8h0M213.9 83.2h0M218.6 120.8h0M322.2 95.3h0M308.7 158.9h0M227.2 147.5h0M240 122.2h0M336.6 98.6h0M265.8 121.7h0M277.8 72.5h0M318.6 74.9h0M341 81.3h0M253 118.2h0M329.7 97.4h0M316.7 128.3h0M266.7 60.7h0M348.9 143.4h0M344 66.5h0M217.1 73.9h0M321.1 162.7h0M322.1 135.6h0M221.6 120.9h0M339.8 120.1h0M214.9 65.7h0M346.3 158.5h0M249.6 127.6h0M292.3 158.3h0M285.7 112.3h0M240.8 161h0M307.2 78.3h0M342 86.4h0M277.7 133.7h0M310.7 152.2h0M284.7 142.2h0M284.4 148.1h0M327.5 119h0M300.2 157.1h0M251.1 83.7h0M319.8 107.8h0M263.9 80.7h0M240.1 155.4h0M332.3 122.4h0M317.9 67.1h0M268.8 156h0M341.4 108.9h0M323 124.3h0M263 68.4h0M336.3 105.2h0M228.7 60.5h0M343.9 155.5h0M281.1 83.8h0M299.1 83.9h0M218.2 62.5h0M301.3 167.2h0M282.7 72.5h0M334.2 136h0M284.2 118.8h0M225 119.1h0M340.9 94.6h0M245.7 63.6h0M335.5 124.1h0M340.1 101.9h0M246 84h0M250.1 86.3h0M271.6 109.3h0M337.1 148.9h0M266.1 107.6h0M345.1 136.4h0M303.4 127.7h0M286.9 140.9h0M270.5 134.2h0M300.6 105.9h0M299.8 88.5h0M216.9 102.7h0M263.9 164h0M305.2 76.7h0M222 82.2h0M251.1 92.3h0M346.4 111h0M229.4 92.3h0M307.4 74.2h0M291.8 65.2h0M242.5 70.5h0M321.9 89.5h0M325.2 75.3h0M334.3 127.9h0M344.4 72.3h0M296.1 141.9h0M280.3 81.5h0M257.4 159.7h0M292.5 77.9h0M299.4 74.2h0M276.7 74h0M330.4 68h0M279.5 65.6h0M283 82.3h0M254.5 142.5h0M253.3 122h0M320.6 83.6h0M220 84.3h0M296.1 89.9h0M271.7 60.9h0M216.3 60.3h0M326.9 165.7h0M339.7 97.8h0M220.3 60.4h0M272.8 74h0M324.6 100.7h0M229.8 166.4h0M312.8 71.2h0M230.4 83h0M326.1 105.7h0M323.2 107.5h0M258.5 84.4h0M295.8 108.9h0M268.7 74.4h0M298.1 120.5h0M286.3 128.3h0M326.1 81.3h0M295.9 143.5h0M334.4 148.3h0M243.8 157.6h0M253.6 164.2h0M323.5 86.5h0M325.5 128.8h0M259.3 138.2h0M299.2 73.5h0M284.9 147.9h0M317.9 98.1h0M261.8 99.5h0M351.1 61.3h0M350.1 150.6h0M268 82.9h0M250.7 145.6h0M333.9 80.4h0M318.3 147.1h0M261 85.8h0M236.7 164.1h0M290.1 91.9h0M334.3 129.4h0M266.4 116.1h0M291.5 93h0M255 81.8h0M212.6 86.5h0M305.5 93h0M336.4 116.7h0M312.9 126.8h0M350.8 77.1h0M265 110.1h0M296.4 117.1h0M257.1 63.1h0M322.4 66.4h0M289.2 159.7h0M228.1 64.4h0M234.6 74.7h0M318.2 109.7h0M284.2 68.4h0M227.2 157h0M263.8 69.3h0M342.1 73.7h0M304.9 133.8h0M247.5 129.7h0M260.6 106.1h0M315.9 100.8h0M242.7 116.1h0M236.3 66.7h0M261.1 99.4h0M260.8 129.5h0M284 155h0M291 114.9h0M314 72.9h0M316 156.7h0M329.3 76.9h0M338.7 139.9h0M258.2 106h0M332.5 79.1h0M305.2 66.7h0M314.9 89.4h0M265.4 146.9h0M340.2 166.6h0M347.5 86.1h0M284.3 145.8h0M228.5 143.5h0M254.9 113.5h0M249.4 142.2h0M271.2 79.2h0M257.1 149.4h0M251.7 104.1h0M250.5 91.9h0M252.6 103.8h0M276 78.5h0M212.1 65.5h0M311.9 148.6h0M344.9 67.5h0M346.5 118h0M288.5 131.1h0M337.5 97h0M345.1 165.6h0M259.2 66.7h0M296.9 72.8h0M257.8 65.7h0M287.6 107h0M351.2 96.7h0M305.1 89.1h0M274.5 96.4h0M303.4 95.1h0M276.8 127h0M332.5 127h0M315 100.2h0M269.1 61.2h0M251.6 156.9h0M300.7 70.5h0M330.5 83.8h0M345.3 126.9h0M344.2 134.1h0M310.7 75.4h0M330.3 74.3h0M246.6 104.9h0M303.4 71.8h0M331.8 73.8h0M293 107.1h0M315.8 103.5h0M261.3 146.6h0M284.3 130.2h0M338.4 134.8h0M292.8 167.9h0M268.8 83.1h0M351.7 93.2h0M351.3 124.1h0M308.7 96h0M269.4 162.1h0M218.3 107.1h0M351.9 153.2h0M334.5 100.1h0M351 156.3h0M322.2 144.2h0M275.6 79.7h0M268.2 135.8h0M213.7 114.9h0M272.2 131.8h0M346.5 70.7h0M316.2 160.2h0M262.5 71.5h0M338.8 158.5h0M287.7 61.6h0M216.3 107.7h0M306.2 82.9h0M302.7 111.8h0M327.4 155h0M304 67.5h0M287.3 112.7h0M313.6 158h0M225.7 94.9h0M321 127.2h0M339.4 86.5h0M327.2 75.2h0M216.4 165.1h0M244.7 69h0M248.5 107.1h0M259.7 93.7h0M345.4 134.2h0M283.8 91.1h0M245 75h0M327.3 66.1h0M328.4 125.1h0M316.8 136.3h0M254.7 97.6h0M268.4 86.8h0M253 123h0M335.1 128.2h0M213.5 106.8h0M328.8 140.3h0M295.3 62.7h0M336.4 158.2h0M266.2 88.7h0M270.3 144.8h0M336.9 139h0M351.4 89.7h0M276.2 96.8h0M262.4 166.1h0M268.7 120h0M307.2 128.1h0M288.5 67h0M272.6 97.2h0M333.7 128.3h0M260.9 86.6h0M296.1 154h0M237.2 75.2h0M286.7 153.6h0M278.2 144.9h0M232 139.9h0M271.2 133.2h0M316.9 164.2h0M319.5 131.8h0M307.8 117.7h0M286.6 141.1h0M281.9 88.3h0M310.1 157.6h0M313.7 82.6h0M328.1 91.7h0M221.9 109.1h0M338.4 74.1h0M334 77.7h0M321.6 126.8h0M299.3 124.3h0M286.7 132.4h0M227 87.6h0M342.2 142.4h0M281.5 138.9h0M300.9 73.1h0M267.6 68.5h0M310 72h0M311.5 122h0M320.5 73.1h0M315.1 64.4h0M252.4 65.7h0M346.1 117.9h0M315.9 144.8h0M333.1 150.4h0M295.1 78.6h0M338.7 92.5h0M253.7 80.2h0M334.7 165.5h0M261.4 140h0M234.7 67.1h0M272.8 61h0M327.4 60.3h0M319.8 155.6h0M273.5 132.2h0M317.2 110.8h0M224.9 165.2h0M231.5 108h0M331.2 66.7h0M302.8 100.2h0M278.4 69.4h0M345.8 118.1h0M239.4 107.1h0M350.1 165.3h0M302.9 63.5h0M284 91.2h0M218.6 60.1h0M230.8 120.3h0M216.2 147h0M348 141.4h0M245.3 79.8h0M278.3 150.6h0M244.4 60.6h0M320 106.5h0M253.4 67h0M299.8 101.4h0M326.1 99h0M277.2 71.9h0M301.4 131.8h0M325.1 80.9h0M312.1 142.2h0M274.5 100.4h0M270.3 116.3h0M298.2 118.6h0M261 78.7h0M222.9 133.4h0M333.8 64.5h0M297.7 150.3h0M348.6 103.9h0M349.2 159h0M243.3 79.4h0M259 65h0M301.4 78.8h0M247.9 66.7h0M307.3 86.3h0M273.1 108.2h0M341.7 97.7h0M310.9 136.3h0M349.4 138.6h0M287.5 122.7h0M287.8 134.6h0M350.1 126.7h0M273.7 139.1h0M342 82.4h0M276.5 76.6h0M243.1 99h0M226.8 156.3h0M342.1 68.2h0M257.8 78.9h0M333.9 162.8h0M342.7 167.9h0M280.3 82h0M254.9 98h0M240 106.8h0M231.2 61.7h0M342.5 130.5h0M318.6 94.3h0M325 63.7h0M327.1 136.5h0M271.7 103.6h0M246.5 155.3h0M219.9 113.2h0M249.1 100.5h0M229.9 102.4h0M288 163h0M293.7 144.9h0M324.3 83.9h0M291.2 133.8h0M281 74.7h0M274.2 140.5h0M313.1 112.1h0M284.9 130.1h0M321 64.9h0M328.8 156.2h0M293.9 125.6h0M233.1 68.9h0M336 87.6h0M219.3 75.9h0M334.8 80.5h0M224 96.7h0M278.9 88.4h0M283.4 69.4h0M296.4 150h0M292.1 134.2h0M315.5 120.7h0M332.8 82.7h0M323.9 94.7h0M214.5 66.2h0M261.4 105h0M277.8 151.1h0M288.1 100.3h0M350.8 103.7h0M269.5 64.7h0M270.6 159.2h0M318 129.4h0M299 87.3h0M265.8 62.3h0M281.4 72.8h0M247.6 137.1h0M324.7 79.1h0M348.7 166.2h0M278.3 154.8h0M235.7 164.7h0M247.3 68.3h0M244.3 146.4h0M308.5 164h0M324.7 158.3h0M279.9 65.8h0M266.6 151.8h0M289.5 125.6h0M347.3 111.3h0M245.9 117.9h0M272.1 76.6h0M285.3 100h0M304.6 111h0M297 113.7h0M237.5 70.8h0M313.9 111h0M257.9 164.9h0M274.7 123.6h0M341.5 119.2h0M241.2 152.9h0M248.3 140.1h0M297.4 134.6h0M317.9 138.1h0M267.7 126.1h0M272.3 157h0M334.4 74.8h0M331.8 63.3h0M323.2 119.3h0M280.7 76.2h0M322.1 80.9h0M292.9 166.9h0M265.7 97.4h0M282.4 89.6h0M275.1 63.3h0M337.2 77.8h0M216.6 78.4h0" stroke="#b83c6c" stroke-opacity="0.5" stroke-width="1.3" stroke-linecap="round" fill="none"/>
</g>
<clipPath id="c3"><rect x="50" y="199.4" width="140" height="108.1"/></clipPath>
<linearGradient id="g3" x1="0" y1="0" x2="1" y2="1"><stop offset="0" stop-color="#eca4b2"/><stop offset="1" stop-color="#efb0ba"/></linearGradient>
<g clip-path="url(#c3)">
<rect x="50" y="199.4" width="140" height="108.1" fill="url(#g3)"/>
<path d="M83.3 258.2h0M101.8 264.7h0M137.6 206.5h0M51.8 289.9h0M86.3 224.7h0M189.4 250.2h0M167.1 250.9h0M139.5 215.7h0M138.9 293.2h0M123.2 279.5h0M144 206.3h0M156.2 263.3h0M92.2 202.8h0M171.2 250.5h0M150.6 294.4h0M150 299h0M105.3 286h0M112.2 300.5h0M173 209.9h0M69 222.9h0M185.2 246.5h0M137.7 231.9h0M121 241.1h0M99.1 262.6h0M131.8 297.1h0M145.5 299.8h0M169.9 306.5h0M144 217h0M170.5 303.7h0M176.7 260.9h0M149.9 222.2h0M166.4 261.4h0M89.9 206.3h0M169.6 306.4h0M62.4 285.9h0M107.5 215.7h0M91.1 282.5h0M172.2 204.2h0M136 204.3h0M150.6 235.2h0M173.3 305.4h0M120.8 307.3h0M93.4 207.7h0M134 202.8h0M77.6 243.5h0M135.5 216.3h0M55.9 293.2h0M93.9 303h0M175.5 240.2h0M114.5 255.6h0M140.1 263.8h0M128.3 266.4h0M181.7 254.2h0M110.4 277.3h0M83.3 231.9h0M186.9 255.7h0M126.8 200.6h0M108.1 262.1h0M52.8 266h0M138.5 205.9h0M137.8 249.8h0M145.1 237.5h0M149 279.2h0M53.1 205.9h0M144.6 303.5h0M85.2 248.7h0M133 234h0M101 233.2h0M101.7 263.8h0M92.1 240.2h0M158.1 202.3h0M129.7 278.9h0M93.4 223.5h0M162.5 225.2h0M76.2 246.4h0M147.7 210.4h0M95.1 235.5h0M166.7 246.8h0M169.8 217.7h0M97.1 269.7h0M173.9 248.2h0M81.5 212.5h0M124.1 220h0M162.9 290h0M75.7 229.5h0M163 268.8h0M162.9 236.7h0M68.2 231h0M161.1 228.7h0M98.5 244.5h0M108.8 243.7h0M178.9 216.3h0M50.7 301.4h0M173.2 306.1h0M110.8 302.1h0M179.8 223.4h0M154.4 289.8h0M142.8 255.5h0M90.5 236.3h0M81.8 206.8h0M132.4 230.4h0M163.4 204.3h0M176.5 274.4h0M179.3 296.3h0M176 261.8h0M51.8 280h0M74.1 231.8h0M142.8 256.1h0M107.9 300.9h0M135.7 236.3h0M85.3 292.5h0M116.8 284h0M99.3 220.7h0M124.8 287.7h0M74 285h0M179 286.5h0M165.3 200.2h0M138 292.6h0M57 228.7h0M87.6 256.4h0M109.2 250.5h0M158.7 199.6h0M57.7 213.1h0M67.4 206.8h0M186.5 291.8h0M62.1 253.7h0M94.2 233.4h0M99.2 269.3h0M132.1 238.4h0M76.8 234.9h0M67.3 259.5h0M150.2 240.5h0M61.2 218.7h0M102.3 264.7h0M159.6 240.5h0M162.2 266.7h0M110.4 239.7h0M119.5 275.4h0M108.9 274.4h0M114.5 225.9h0M125 274.5h0M60 245.3h0M109.6 294.5h0M181.1 239.9h0M175.7 284.9h0M86.7 249.6h0M67.2 287.3h0M142.7 295.3h0M160.9 271.6h0M152.7 260.4h0M64.4 262.9h0M50.7 214.9h0M158.4 204.2h0M62.9 210.1h0M173.3 218.8h0M53.3 290.4h0M67 290.6h0M144.3 289.8h0M183.3 262h0M161.8 203.3h0M157.4 254.7h0M150.1 210.9h0M154.9 300.4h0M58.6 234.5h0M129 288.9h0M83.9 218.8h0M85 266h0M155.5 242h0M101.4 242.3h0M99 244.6h0M61.7 253.5h0M186.2 244h0M154.6 216.8h0M146.7 281.1h0M144.3 255.3h0M117.7 268.9h0M175.6 215.5h0M63.4 280.3h0M178.3 255.3h0M112 277.1h0M76.1 228.3h0M77.9 262.7h0M94.1 224.5h0M146.8 302.5h0M91.4 275.6h0M107.8 291.7h0M131.9 228.3h0M80.5 201.9h0M117.1 240.8h0M74.1 238.4h0M95.1 283.1h0M70.1 306.6h0M117.1 264.2h0M115.5 289.6h0M165 259.6h0M117.4 277.3h0M169.9 242.7h0M152.7 303.2h0M115.4 224.2h0M82.9 277h0M144.5 303h0M169.5 225.6h0M76.5 227.4h0M76.2 275.6h0M170.2 296.7h0M85.7 292.9h0M93.9 245.2h0M152.1 208.7h0M63 289.5h0M90.8 238h0M131.2 272.4h0M51 235.6h0M111.1 251.9h0M79.4 262.6h0M183.7 241.7h0M126.2 212.3h0M88.5 271.3h0M65.8 295.3h0M177.2 209.9h0M181.8 239.9h0M158.1 281.3h0M91.4 272.5h0M141.6 286.5h0M87.2 280.9h0M184.6 272.1h0M125.1 211.6h0M119.1 237.5h0M150.5 272.8h0M129.3 219.1h0M140.4 267.6h0M75.1 295.6h0M141.8 212.7h0M180.5 214.7h0M96.4 277.3h0M133.6 259.4h0M140.6 248.9h0M93.7 218.5h0M59.6 276.8h0M155.6 258.1h0M153.5 238.2h0M87.2 240.8h0M172.2 204h0M120.7 226.1h0M157.6 237.7h0M96.6 243h0M125.8 282.8h0M99.4 290.9h0M65.7 228.6h0M64 211.6h0M159.1 278h0M75.9 219.8h0M108.3 279.8h0M164.2 280.3h0M132.9 215.2h0M105.8 220.3h0M123.9 260.8h0M78.3 226.4h0M159.4 202.7h0M162.4 295.7h0M182.9 240.8h0M127.4 262.4h0M138.7 305h0M146.1 231.8h0M170.4 251.7h0M134.2 278h0M50.3 282.7h0M142.7 252.6h0M123.3 249.2h0M77.1 256.6h0M55.2 253.5h0M140.4 247.4h0M129.2 303.1h0M174.9 214.1h0M160.9 266.8h0M57.1 238.3h0M82.7 207.8h0M125.4 299.9h0M95.2 293.5h0M147.3 213.9h0M170.2 264.4h0M179.8 276.8h0M153.6 236.5h0M162.9 300.1h0M170.6 246.6h0M156 251.8h0M65.3 204h0M60.9 221.1h0M72.5 253.1h0M147.9 257.5h0M109.1 269.6h0M92.7 249.6h0M156 242.8h0M75.3 296.6h0M150.8 239.1h0M101.9 256.6h0M133.5 223.6h0M50.4 222h0M159.6 214.9h0M114.4 220.5h0M79.3 217.9h0M106.5 217.6h0M53.8 211.3h0M73.6 252.4h0M58.4 201.8h0M112.7 243.5h0M148.5 204.9h0M106.5 242.3h0M53.7 303.8h0M80.6 209.6h0M116.4 217.2h0M137.1 236.8h0M67.4 205h0M151.9 229.1h0M160.3 249.7h0M180.6 231.9h0M85 228.1h0M164.1 267.4h0M98.3 209.5h0M145.5 304.2h0M132.9 199.8h0M54.2 209.2h0M73.8 203.4h0M57.6 270.1h0M176 221.1h0M186.3 251h0M162.5 298.6h0M181.6 203.1h0M92.7 265h0M182.5 208.9h0M91.1 291.3h0M66.1 241.5h0M96.8 272.9h0M180 218.3h0M153.6 278.7h0M167 259.2h0M179.3 238.6h0M108.1 224.2h0M159.1 251.4h0M87.7 217.7h0M150.9 264.9h0M149.5 241.2h0M118.2 216h0M149.5 201.9h0M115.4 281.4h0M144.8 209.9h0M83.2 290.6h0M139.9 294.4h0M172.1 248h0M175.6 278.6h0M96.7 239.4h0M60.1 242.6h0M183.8 210.8h0M129.6 211.3h0M61.3 269.6h0M83.7 204.7h0M71.4 269.1h0M132 200.7h0M82.2 304h0M80.8 260.2h0M108.7 283.8h0M134.6 284.7h0M124.9 219.7h0M74.9 208h0M165.6 211.6h0M53.4 303.9h0M77.9 296h0M62 249.7h0M81.2 289.1h0M136.2 268.8h0M156.6 293.6h0M98.4 264.6h0M112.4 211.4h0M167 263.7h0M164.1 221.7h0M125.5 249.6h0M151.9 207.7h0M98.5 251.8h0M60 259.1h0M152.9 245.1h0M140.8 264.9h0M80 237.3h0M189.4 235.6h0M110.3 208.5h0M80.5 217.3h0M180.3 277.9h0M172.5 306h0M135.7 300.1h0M125 244.7h0M182.7 297h0M182.9 251.7h0M158.3 243.4h0M189.6 298.9h0M90.9 300.4h0M75.8 209.8h0M151.1 231.2h0M122.7 268.5h0M55.7 280h0M88.6 246.1h0M98.3 279.6h0M154.6 230.5h0" stroke="#f8d6d6" stroke-opacity="0.55" stroke-width="1.2" stroke-linecap="round" fill="none"/>
<path d="M64.5 231.8h0M60.9 216h0M172.7 239.7h0M93.7 249.5h0M163 231.5h0M162.9 200.5h0M124.3 257.3h0M57 221.4h0M187.1 203.2h0M51.8 246.1h0M57.2 258.4h0M108.6 227.5h0M110.1 267.2h0M177.8 286.8h0M121.2 289.2h0M89.1 217.6h0M164 264.5h0M122.6 217.9h0M145.7 306.6h0M107.1 237.4h0M71.7 233.4h0M180.4 265.6h0M130.4 258.8h0M64.3 271.7h0M182.1 233.7h0M89.5 213.6h0M187.2 208h0M78 208h0M154 290h0M164.5 200h0M184.6 206.9h0M117.6 228.4h0M70.2 297.3h0M189 272.3h0M69.9 205.3h0M124.9 240.7h0M104.6 306.2h0M68.4 215.1h0M99.3 298.3h0M187.2 226h0M183.1 251.8h0M93.9 201.7h0M154.7 283.9h0M115 257.6h0M124.8 289.4h0M73.5 228.1h0M57.4 305.2h0M172.2 211.8h0M146 256.2h0M63 257.8h0M70.5 264.3h0M120.9 239.8h0M181.1 292.6h0M90.2 305h0M97.7 269.2h0M185.4 248.4h0M124 247.1h0M158.8 205.8h0M103.8 305.5h0M110.4 293.2h0M100.6 231.9h0M105.9 239.7h0M172.5 262.6h0M80.8 239.5h0M69.5 208.2h0M89.6 202.6h0M179 257.2h0M166 290h0M111.8 273.2h0M173.2 240.3h0M174.6 230.4h0M165.3 264.1h0M53.9 237.4h0M166.5 219.3h0M104.4 254.7h0M138 270.7h0M188.8 206.5h0M165.7 235.2h0M131.6 295h0M104.9 209h0M53.7 300.5h0M130.3 208.6h0M115.6 292.1h0M124 221.3h0M176 213.8h0M136.8 237.8h0M177.4 292.1h0M78.5 205.9h0M66.8 298.2h0M79.7 219.6h0M166.6 205.6h0M104.5 218.6h0M86.9 274.4h0M65.6 223.2h0M129.1 225.9h0M80.2 271.9h0M74.6 280.6h0M125.5 264h0M111.9 205.5h0M170.3 252.4h0M98.4 307h0M75 276.9h0M152.5 262.5h0M123.9 291.4h0M125.5 292.7h0M78.4 209.5h0M167 280.3h0M51.5 272.8h0M99.1 251.2h0M85 274.8h0M104 211.2h0M94.8 277.8h0M105.2 220.6h0M130.7 211h0M117.5 221.2h0M73.4 210.3h0M179.2 293.3h0M105.6 206.5h0M94 301.2h0M182.7 250.9h0M86.7 303.5h0M130 254.6h0M152.7 297h0M148.5 280.5h0M114 304.7h0M156.7 217.3h0M87.7 254.4h0M171.8 279.9h0M146.2 245.6h0M86 258.2h0M104.3 204.4h0M139.7 222.2h0M151.8 239.7h0M153.5 251.8h0M134.5 216.8h0M137.5 295h0M51 208.4h0M135.6 227.9h0M50.3 229.8h0M73.9 202.9h0M95.9 304.4h0M162.3 241.4h0M112.3 271.5h0M98.3 224.3h0M63.4 233.5h0M126.4 264h0M53.5 202.3h0M77.5 260.9h0M156.7 264.4h0M153 255.8h0M93.2 206.2h0M131.5 266.8h0M67.7 307.4h0M101.3 307.4h0M119.9 251.3h0M179.4 244.2h0M116.3 199.9h0M171.7 297.3h0M144.5 232.3h0M92.1 232.4h0M56.1 303.6h0M61.7 279.9h0M157.6 254.4h0M61.6 272.2h0M184.7 200.1h0M144.7 299.5h0M149.5 260h0M115.2 264.4h0M92.8 279.2h0M116.2 227.2h0M116.8 221.3h0M58.2 225.3h0M135.6 225.5h0M63.7 218.7h0M85.7 294.9h0M97.6 246h0M152.6 280.6h0M151.6 228.9h0M82 220.7h0M139.9 278.1h0M157.3 251.1h0M120.4 246.2h0M178.1 220.4h0M110.9 215.1h0M166.2 245h0M112 299.7h0M52.6 302h0M104 304.9h0M62 295.4h0M81 300.8h0M176.2 235.4h0M80.2 258h0M105.8 254.3h0M167.3 300.4h0M164.8 207h0M176.7 298.2h0M66.3 245.6h0M176.6 228.1h0M93.6 271.3h0M175.8 242.5h0M141.6 263.5h0M67.4 261.6h0M172 236.6h0M95.9 211.7h0M126.1 243.4h0M111.3 282.4h0M117.1 240.7h0M168.5 240h0M101.2 200.6h0M117.1 253h0M116.1 276.7h0M187.4 211.8h0M74.5 285.4h0M57.4 240.4h0M155.7 248.2h0M161.4 307.4h0M172.5 258.7h0M174.8 209.2h0M166.2 229.7h0M54 222.2h0M136.8 282.2h0M52 220.1h0M185.8 222.9h0M68 290.9h0M123.1 271.8h0M152 285.9h0M89.4 224.7h0M175.9 246.8h0M122.9 274.9h0M152.2 263.6h0M184.2 246h0M64 237.3h0M101 301.8h0M114.1 270.8h0M136.5 252.9h0M118.8 289.3h0M160 231.6h0M60.2 251.8h0M149.6 221.3h0M68.6 260.1h0M50.1 218.6h0M184 248.6h0M144 199.6h0M118.4 204.2h0M94.6 231.1h0M122.6 236.5h0M127.4 238.7h0M98.6 200.1h0M72.1 209.6h0M131.3 225.2h0M138.8 206.1h0M82 307.2h0M164.6 262h0M110 275.3h0M87.4 232.4h0M75.3 285.7h0M154.2 242.2h0M156.3 273.6h0M56 228.1h0M153.6 299.8h0M164.1 239.4h0M50 269.5h0M77.3 261h0M184.7 295h0M172 294.9h0M156.3 241.8h0M141.4 222.2h0M130.4 288.7h0M103 260h0M140 255.3h0M187.2 295.1h0M89 220.4h0M165.1 270h0M150.9 256h0M132.5 247.9h0M155.2 305.6h0M130 301.6h0M131.2 291.6h0M161 266.8h0M93.5 266.3h0M162.7 250.5h0M103.9 256h0M170.1 282h0M61.7 288h0M129.1 252.1h0M109 295.3h0M94 287.4h0M175.6 242.7h0M186 207.1h0M157.9 211.9h0M170.3 263.2h0M156.1 288.6h0M137.8 234.2h0M188.9 304.5h0M78.1 217.7h0M73.6 305.1h0M175.8 288h0M160 244.3h0M56.4 275.4h0M92.4 289.4h0M112.3 208.8h0M173.9 253.5h0M83.1 269.1h0M174.2 205.9h0M137.1 288.3h0M59.7 218h0M53.6 211.3h0M172.9 291.9h0M127.7 294h0M128 245.4h0M62.5 226.4h0M66.9 304.3h0M153.7 295.9h0M174.1 303h0M161.8 243.5h0M65.9 224.7h0M54.2 304.2h0M115.8 274.9h0M166.6 211.2h0M94.2 206.8h0M53.8 229.8h0M188.4 267.7h0M165.1 276.7h0M85.3 216.3h0M78.6 279.4h0M131.1 258.5h0M71.7 227.1h0M104.5 303.4h0M182.2 256.3h0M145.6 220.5h0M131.3 249.5h0M177.3 285.3h0M70.1 275.4h0M181.4 199.7h0M186.6 239.7h0M132.8 242.4h0M128.7 305.9h0M160.6 232.2h0M86.4 249.6h0M171.3 217h0M91.8 279.1h0M90.4 284.6h0M132.9 219.7h0M117 255.6h0M71.6 199.9h0M107.6 210.7h0M148 218.5h0M144.8 237.5h0M182.8 285.1h0M137.6 232.9h0M140.9 262.9h0M155.2 221.5h0M187 203.3h0M188 208.3h0M131.3 206.9h0M51.1 291.2h0M179.4 296.4h0M106.4 215.9h0M63.4 207.4h0M170.2 226.1h0M112.5 259.1h0M182.6 236.2h0M170.7 225.7h0M167.1 233.6h0M165.1 239.7h0M64.2 293.8h0M97.9 218.5h0M172.3 213.5h0M137.5 255.7h0M175.6 260.4h0M177.7 221.2h0M137.6 289.3h0M65.4 305.2h0M155.8 207.6h0M106 200.6h0M180.2 204.5h0M176.2 235.3h0M169.8 292.2h0M77.3 273.7h0M117.6 260.6h0M77.7 298h0M64.8 305h0M144.6 236.1h0M96.5 289.5h0M177.7 232.3h0M75.1 247.4h0M70.8 255.9h0M125.3 222.8h0M95.1 296.5h0M108.3 291.8h0M85.8 307.2h0M69.2 201.2h0M170.2 229.9h0M161.7 207.8h0M142.9 208.9h0M113.4 228.9h0M148 205.6h0M102.7 254.1h0M99.2 223.4h0M185.3 282.2h0M95.8 254h0M98.6 222.4h0M154.9 264.6h0M116 265.7h0M53.2 290.6h0M99.1 202h0M111.6 239.9h0M130.7 226.9h0M112.7 208.5h0M181.6 269.9h0M83.6 221.4h0M139.3 201.8h0M105.6 264.6h0M113.6 268h0M122 253.7h0M84.8 288.5h0M76.9 230.2h0M105.8 237.4h0M80.3 253.9h0M62.5 263.2h0M187 300.8h0M147.5 236.7h0M172.6 297.6h0M139.1 305.1h0M144.6 270h0M169.8 232.3h0M126.4 263.1h0M170.5 291.1h0M124.9 274.6h0M137.6 229.4h0M134 249.5h0M63.7 294h0M111.6 279.2h0M112.3 231h0M66.8 208.7h0M102.3 256.7h0M150.5 233.8h0M50.1 291h0M137.5 232.2h0M102.7 264.5h0M166.5 283.4h0M155.9 301.3h0M86.9 283.8h0M160.2 254.4h0M90.7 204.3h0M175.4 280.4h0M188.8 288h0M156.9 298.3h0M54.7 233.2h0M88.2 263.2h0M84.7 209.6h0M59.9 227h0M180.2 267.7h0M96.5 267.4h0M154.4 232h0M85 277.7h0M71.7 237.8h0M139.6 286h0M171.7 301.1h0M53.2 208.7h0M171.4 277.7h0M125.6 211.9h0M190 221.6h0M169.1 269.7h0M172.9 242.7h0M163.6 240h0M104 221.1h0M151.4 280.7h0M58.7 233.9h0M152.4 219.9h0M111.2 254.7h0M155.2 258.4h0M136.4 231.3h0M126.3 296.7h0M157.7 228.8h0M174.4 305.3h0M131.8 258.1h0M165.2 289.6h0M165.8 302.5h0M51.3 219.8h0M109.5 298.6h0M147.9 215.8h0M149.5 298.5h0M62.6 207h0M152.4 234.5h0M165.8 286.8h0M146.4 285.7h0M171 287.8h0M171.2 258.3h0M89.9 300.2h0M116 293.8h0M160.7 250.2h0M60.8 221h0M125.2 256.3h0M138.9 210.4h0M53.7 250.7h0M181.7 238.5h0M189.2 275.5h0M101.6 213.3h0M156 218.9h0M184 230.1h0M121 263.9h0M177.8 221.2h0M116 220.8h0M188.1 304.2h0M102.1 302h0M120.8 246.2h0M173.8 306.7h0M177.7 260.8h0M75.1 232.2h0M101.6 204.5h0M175.6 291.1h0M99.3 248.1h0M160.2 232.2h0M126.9 290.3h0M74.5 267.1h0M88 266.9h0M113.6 262.8h0M155.9 290.9h0M156.5 281.1h0M132.8 260.8h0M146.7 228.7h0M149.5 249.4h0M94 259h0M134.5 219.3h0M66.3 257.1h0M82.2 297.8h0M82 229.4h0M82.8 230.6h0M180.6 300.1h0M145.6 278.6h0M141.9 237.4h0M185.9 211.7h0M159.4 214.7h0M76.5 223h0M89.3 291.2h0M161.6 304.3h0M168.6 296.3h0M96.7 218.4h0M102.1 227.6h0M138.9 227.3h0M119.9 276.2h0M139.7 296.4h0M111.9 280h0M97.8 217.5h0M150.5 280.6h0M125.8 207.5h0M57.4 303.7h0M184.9 305.9h0M155.9 303.8h0M100.4 283.1h0M94.3 260h0M161.2 250.2h0M127.8 249.2h0M65 218.6h0M107.8 291.1h0M139.1 300.5h0M91 223.4h0M82.1 263.9h0M104.7 277.4h0M70.9 280.3h0M176.2 265.7h0M124.5 252.3h0M58.1 302.5h0M61.4 300.2h0M131.4 298.7h0M145.3 223.8h0M121.3 205.8h0M142.1 215.7h0M132.9 209h0M160.9 248.6h0M128.2 200.6h0M50.3 246.9h0M84.2 232.5h0M89.7 253.9h0M128.5 302h0M183.6 211.2h0M83.7 300.5h0M151.1 283.3h0M110.8 202.1h0M162.1 274.5h0M144.9 286.7h0M154.4 305.1h0M173.8 247h0M106.7 204.8h0M106.2 298.9h0M171.2 219.6h0M112.5 294.4h0M166.5 245.6h0M129.4 252.7h0M170.1 265.3h0M87.6 228.1h0M119.4 200.2h0M102.4 276.1h0M52.2 225.7h0M90.4 218.9h0M143.6 258.1h0M179.8 226.2h0M94.2 227.2h0M133.1 276.3h0M166.9 218.4h0M126 250.9h0M119.5 246.6h0M171.5 280.5h0M109 290.3h0M62.5 200.1h0M112.3 211.6h0M157.7 294.9h0M161.3 207.4h0M112.7 202.4h0M87.4 236.4h0M77.3 200.6h0M153.9 243.8h0M156.9 227.8h0M155.4 297.3h0M126.3 295.4h0M98.8 216.3h0M174.8 287.1h0M140.4 220.2h0M102.7 274.7h0M61.5 260.9h0M56.5 203.4h0M151.1 305h0M170.3 276.2h0M112.4 290.8h0M120.9 277.4h0M114.4 255.6h0M147 228.7h0M114.5 210.6h0M184.3 259.9h0M101.7 248.4h0M88 301.9h0M79.8 270.6h0M51.6 244.6h0M188.2 237.9h0M89.9 240h0M175.9 254.9h0M82.3 302.7h0M150.5 301.2h0M180.4 242.2h0M179.4 264.5h0M71 257.2h0M58.1 287.4h0M176.6 239h0M128.8 226.6h0M86.7 238.4h0M84.1 265.9h0M166 265.6h0M94.5 207.8h0M178.4 229.4h0M129.2 213.4h0M158.3 224.6h0M55.1 304.6h0M71 306h0M187.9 202.7h0M116.2 265.2h0M164.4 211.1h0M94.9 302.6h0M90.5 221.9h0M159.5 234.3h0M134.6 226.1h0M106.9 276.4h0M148.5 219.2h0M188 276.1h0M153.8 262.1h0M100.3 271.6h0M170.4 230.9h0M85.3 281.1h0M51.5 290.6h0M59.4 280.2h0M168.7 289.6h0M173.5 240.9h0M119.3 269.9h0M165.8 291.9h0M59.8 305.9h0M171 243.7h0M125.9 258.4h0M132.2 217.5h0M63.2 291.7h0M101 263.2h0M175.2 285.1h0M110.1 279.2h0M139.1 235.8h0M132.9 296.7h0M162.1 222.5h0M82.5 299.8h0M142.6 212.5h0M150.8 214.9h0M165.3 199.4h0M76.3 289.7h0M55.7 220.3h0M139.9 213.8h0M129.6 206.4h0M58.5 297.9h0M72.3 265.7h0M129.6 237.6h0M117.3 283h0M160.6 250.6h0M157.9 231.1h0M156 239.8h0M125.2 207.6h0M188.2 226.3h0M50.8 232.6h0M161.3 255.5h0M51.4 273.8h0M115.2 235.4h0M102 244.6h0M108 235.9h0M142.5 300.7h0M158.1 269.3h0M69 289.8h0M66.6 209.2h0M103 199.5h0M122.7 250.7h0M168.8 274.7h0M94.6 226.9h0M135.4 229h0M167.3 234h0M101.2 250.8h0M104.6 233.2h0M166.7 274.7h0M60.3 278h0M173.4 269.3h0M155.3 263.4h0M161.3 235.1h0M56.1 265.7h0M72.1 204.6h0M90.6 210.1h0M51.5 242.4h0M135 289.5h0M134.4 242.5h0M80.8 226.9h0M111.4 241.3h0M187.3 235.3h0M101.3 250.5h0M185.2 213.3h0M157.5 225.2h0M101.6 249.6h0M82.6 237h0M74.5 254.2h0M103.2 256.6h0M51.5 262.8h0M155.6 288.4h0M159.3 208.8h0M128.3 232h0M116.1 245.1h0M183.4 224.3h0M70.3 274h0M105.2 251h0M80.8 243.9h0M168.3 274.1h0M147.3 217h0M61.1 294.9h0M186.3 234.4h0M140.8 291h0M117.7 237.8h0M176.9 297.2h0M69.5 293.5h0M154.6 244.5h0M73.7 236.4h0M80.8 269.7h0M65.9 206h0M122.1 223.8h0M185.8 232.6h0M147.1 219.6h0M141.2 274.8h0M107.5 211.4h0M185.7 235.4h0M176.4 201.6h0M63.4 208h0M148.8 218.8h0M117.7 258.3h0M74.3 200.9h0M188.3 219.5h0M140.8 292.4h0M140.4 291.8h0M167.4 242.2h0M131.6 237.9h0M140.8 269.3h0M111.5 225.7h0M187.7 293.3h0M73.1 233.1h0M129 296.8h0M131.8 245.6h0M141.3 273.6h0M53.2 202.1h0M78.4 305.5h0M80.8 209.3h0M51.9 214h0M71.8 224.1h0M68 214.1h0M89.3 267.4h0M147.6 200.5h0M171 231h0M79.6 210.9h0M114.1 203.2h0M174.4 243.5h0M157.9 281.4h0M135.9 236.3h0M131 292.2h0M59.3 293h0M162.2 280.1h0M100.5 292.9h0M107 217.5h0M82.2 234h0M136.9 303.2h0M143 200.5h0M124.8 283.5h0M140.2 254.7h0M124.1 253.6h0M119.7 273.7h0M176.6 266.3h0M136.4 243.1h0M117.7 297.5h0M56.2 221.7h0M110.3 233.6h0M85.7 236.6h0M103.1 287.8h0M87.3 285.5h0M60.5 306.7h0M101.9 286.5h0M174.4 244.1h0M52.1 206.8h0M90.5 280.8h0M136.6 283.4h0M166 216.6h0M124.1 220.8h0M182.7 268.2h0M120.1 291.2h0M159.3 276.1h0M72.9 286.9h0M58.5 294.8h0M108.9 209.6h0M174 271.7h0M181.4 224.1h0M129.1 239.2h0M66.4 225.9h0M85.8 220.1h0M77.2 290.1h0M93.1 259.4h0M183.1 306.2h0M103.5 286.7h0M121.3 260.6h0M55.3 296.4h0M174.9 208.4h0M147 298.3h0M93.2 274.3h0M140.4 203h0M118.4 237h0M188.5 286.4h0M92.2 284.3h0M61.9 254h0M189 260h0M97.6 291.7h0M66.4 208.1h0M158.8 276.2h0M150 221.4h0M90.4 223.9h0M79.9 258h0M96.9 265.4h0M163.3 200.9h0M175.9 262h0M187.5 215h0M121 277.6h0M117.9 246.1h0M172.7 206.9h0M62.9 290.5h0M161.9 233.9h0M121.3 302.7h0M121.7 253.6h0M181.8 236.4h0M132.9 302.8h0M174 282.4h0M62.9 245.1h0M118.6 277.4h0M85.7 235.3h0M111.8 264.2h0M69.1 278.3h0M170.2 265.8h0M51.3 290.7h0M155.6 257.1h0M78.1 278.4h0M132.6 303.7h0M72.4 225.6h0M166.2 285.6h0M132.2 237.7h0M94.3 301.6h0M94.4 266.7h0M101.4 230h0M134.5 228.5h0M121.6 203.7h0M164.9 222.2h0M60.6 252.2h0M141 199.9h0M106.5 298.6h0M60.9 293.3h0M80.7 256.3h0M189.3 300.5h0M84.5 224.6h0M94.9 223.1h0M86.9 231.7h0M63 204.5h0M124.5 307.2h0M148 285.1h0M157.4 293.2h0M142.1 250.5h0M70.9 271h0M54.6 246.1h0M108 253.2h0M76.8 294h0M175.8 306.3h0M74.2 287.6h0M163.5 299.1h0M55.6 287h0M108.9 296.8h0M118 203.2h0M180 248.7h0M116.4 277.9h0M70.1 233.5h0M71.9 301.3h0M129 293.6h0M70.4 210.8h0M107.3 210h0M143.2 202.1h0M181.8 226.6h0M53.6 221.1h0M152.3 260.7h0M164 277.5h0M114.1 203h0M188.8 264.7h0M172.2 290.7h0M178 252h0M174.8 221.6h0M104.4 291h0M189.8 212.3h0M115 204.5h0M170.9 211.2h0M77.8 305.1h0M141.1 277h0M131.6 212.5h0M89.7 207.8h0M145 299.4h0M116.6 273.9h0M100.6 282.5h0M93.2 230.8h0M142.4 306.7h0M92.6 225.5h0M67.3 286.3h0M55.9 254.1h0M77.1 232.1h0M189.8 264.7h0M54.5 234.5h0M109.2 248h0M151.4 299.8h0M153.8 247.1h0M168.7 275.8h0M175.5 224.7h0M51 225.8h0M78.2 217.3h0M73.7 303.3h0M51.8 299h0M154.7 233.9h0M55.3 299.1h0M112.2 227.8h0M102.7 286.8h0M125.4 305.3h0M183.5 204.7h0M104.7 307.2h0M85.8 282.5h0M123.9 279.4h0M58.1 290.3h0M156.4 250.3h0M170.4 239.6h0M175.8 306.3h0M186.5 211.2h0M131.9 225.8h0M94.7 272.3h0M110 271.5h0M72.8 303.1h0M115.3 228.6h0M147.6 273h0M94.7 273.1h0M58.4 247.5h0M125.3 283.7h0M119.5 243h0M175.8 272.1h0M99.4 249.6h0M170.3 238.3h0M65.6 253.4h0M58.7 242.4h0M136 307h0M180.2 278h0M175.8 292.9h0M91.1 253.2h0M139.6 289h0M107.4 291.9h0M186.8 228.7h0M74.2 293.2h0M165.5 273.8h0M159.8 225.9h0M113.5 262.2h0M58 250.9h0M180.8 261.1h0M130.4 300.1h0M53.6 280.7h0M77.4 222.8h0M175.9 271.8h0M130.1 237h0M75.6 274.6h0M123.4 209h0M156.3 292.7h0M184.8 276h0M134.9 200.3h0M86 230h0M180.3 258.4h0M59.1 262.4h0M170.7 216.5h0M170.8 230.7h0M146.2 248.7h0M173.7 227.1h0M105.4 278.9h0M95.6 204.3h0M131.6 264.9h0M91.5 276.8h0M86.6 218.7h0M78.9 272.4h0M114 224.4h0M146.1 300.9h0M146.6 303.2h0M175.2 219h0M65.4 222.8h0M50.5 281.4h0M100.8 278.6h0M168.3 302.3h0M108 232.1h0M127.7 292.2h0M127.8 229.3h0M57.2 258h0M132.8 293.3h0M88.6 302.1h0M87.4 224.6h0M72.4 265.5h0M77.7 211.6h0M152.4 246.4h0M162.2 293h0M180.9 270.1h0M57.5 283h0M177.9 280h0M131.9 235.7h0M57.8 262h0M155.5 291.1h0M170.9 207.5h0M153 296.6h0M145 275h0M155 289.9h0M184 219.2h0M67.2 205.1h0M181 297.3h0M137.3 268.3h0M168.5 209.1h0M143 252.5h0M69.3 290h0M111.5 293.8h0M97.3 287.4h0M176.5 276.9h0M119 237.8h0M149.8 253.7h0M170.5 218.7h0M165.4 248.9h0M126.9 210.1h0M79.1 218h0M60.2 235h0M125.3 271.8h0M109.6 240.7h0M57.9 280.2h0M109.1 223.8h0M148.6 285.6h0M137.5 230.1h0M70.9 295h0M103.1 237.6h0M77 229.7h0M113.9 205.9h0M53.6 250h0M173.3 242.6h0M160 257.3h0M92.4 270.9h0M65.2 235.1h0M148 229.7h0M150.1 299.1h0M146 304h0M67.2 250.4h0M130.9 216.4h0M148.7 228.8h0M98.2 272.2h0M184.4 249.7h0M59.6 274h0M157 252.9h0M107.2 290.6h0M108.4 250.3h0M113.7 276.1h0M89.8 212.4h0M75.5 220.5h0M99.9 297.8h0M88.8 250.6h0M57.3 286.8h0M188.7 267.8h0M187.6 211.4h0M70.2 216.2h0M176.1 214.9h0M70.2 233.1h0M188.6 220h0M136.4 306.1h0M141.8 243h0M148.1 274.5h0M164 262.2h0M170.8 216.9h0M60.5 206.2h0M127.9 245.8h0M113.6 240.2h0M180.9 207h0M74.8 238.8h0M70.1 265.4h0M108.2 265.5h0M64.3 245h0M162.5 292.9h0M150.4 295.7h0M147.2 271.7h0M175.1 224h0M177.7 251.4h0M136 298.1h0M78.6 306.6h0M65.9 283.6h0M166.2 268.8h0M157.1 239.7h0M95.8 301.8h0M114.9 296.9h0M102.1 235.4h0M125.2 277.8h0M120.1 215.1h0M170.8 228.7h0M146.9 279.5h0M105.4 278.6h0M56.9 274h0M172.8 234.6h0M96 203.7h0M67.4 226.6h0M70.3 210.9h0M50 294.3h0M52.3 266.5h0M66.7 250.1h0M60.9 254.3h0M135.1 260.9h0M180.2 289.8h0M150.7 231.3h0M183.1 218.1h0M189.1 261.2h0M168.6 286.3h0M152.4 222.9h0M161.5 294h0M96.1 211.5h0M52.4 241.2h0M57.8 304.2h0M179.8 277.9h0M102.7 239.7h0M130.4 213.8h0M153.3 262h0M109.5 279.2h0M128.9 290.1h0M117.6 274.1h0M98 269.6h0M145.3 259.4h0M82.3 201.7h0M110.1 273.4h0M157.9 291.5h0M188 206.4h0M157.8 227.4h0M178.3 293.7h0M131.3 207.1h0M162.9 203.7h0M129.1 201.4h0M155.5 219.5h0M181.2 256.3h0M59.2 256.4h0M117.6 251.2h0M136.2 237.1h0M85.7 298h0M166.6 255.8h0M111 229.7h0M185.6 254.6h0M165 267.7h0M120.5 286h0M107.5 208.4h0M53.7 246.9h0M97.6 304.8h0M102.2 286.2h0M81.7 244.8h0M78.9 227.1h0M87.6 241.6h0M179.5 279.4h0M76.5 238.5h0" stroke="#c8527e" stroke-opacity="0.55" stroke-width="2.3" stroke-linecap="round" fill="none"/>
<path d="M121.4 297h0M52.3 294.7h0M77.2 251.2h0M161 273.6h0M140.5 245.8h0M82.4 276h0M55.6 232.6h0M120.9 223.5h0M116.1 258.4h0M73.2 274.8h0M162.9 235.6h0M92 286.4h0M50.5 263.2h0M181.2 213.6h0M130.5 236.7h0M101.8 246.1h0M111.8 244.8h0M145.8 226.3h0M168.1 283.6h0M179.8 252.1h0M160.7 237.9h0M117.9 260.5h0M153.1 235.3h0M171.5 271.4h0M126 266.9h0M177.1 233h0M186.3 222.4h0M178.8 300.4h0M147.9 261.1h0M170.2 292h0M145.5 236.6h0M120.8 208h0M110.6 242.6h0M117.9 254.3h0M82.5 235.4h0M123.2 297h0M173.6 239.3h0M159.3 247.1h0M178.7 206.9h0M92.2 253h0M183.3 283.5h0M161.4 205.3h0M112.8 234.6h0M102.4 296.1h0M86.9 250.5h0M66.4 272.5h0M135.7 266.8h0M177.5 284.2h0M125.4 224.2h0M103.9 266.8h0M78.2 259.1h0M72.6 258h0M165.1 305.6h0M140.1 245.3h0M102.6 293.5h0M120.5 229.7h0M98.3 277.9h0M119.9 240.5h0M52.5 301.5h0M112.6 231.1h0M86.7 264.6h0M147.6 214.2h0M130.8 285.6h0M160.1 232.7h0M71.8 306.7h0M163.2 246.6h0M162.2 199.7h0M109.4 238.2h0M142.6 293.9h0M172.7 219.4h0M122.1 199.5h0M86.8 302h0M127.6 285.2h0M171.7 229.7h0M162 215h0M177.7 247.3h0M115.3 213.7h0M132.5 200.5h0M94.3 285.6h0M111.6 268.3h0M116.9 220.4h0M161.9 203.9h0M101.2 240.1h0M145 200h0M178.1 230.6h0M117.4 255.5h0M52.4 235.2h0M174 284.7h0M139.7 294.5h0M142.1 251.7h0M96.8 208.9h0M79.4 245.7h0M93.1 306.7h0M104.5 288.3h0M56.9 260.2h0M161.5 235.2h0M121.6 267.2h0M58.9 282h0M181 287h0M61.1 227.3h0M131.7 260h0M62.4 238.9h0M169.9 264.4h0M188.5 295.3h0M148.6 297.7h0M183.7 207.6h0M182.2 282.9h0M99.4 223.3h0M146.8 264.6h0M153.1 263.8h0M105.3 201.5h0M93.6 200.9h0M94.5 243.7h0M159.1 256h0M129.1 234.3h0M145.6 215.7h0M185 278.2h0M166.7 200.7h0M103.9 219h0M56.2 274.4h0M82.8 258.5h0M90.7 243.9h0M173.4 269.2h0M112.7 212.6h0M158.1 221.6h0M69.9 279.8h0M113.5 255.7h0M129.7 306.3h0M135.7 301h0M173.5 299h0M56.3 228.3h0M185.7 208h0M109.5 255.4h0M100.3 254h0M94.1 224.1h0M76.1 267.5h0M153.1 268.6h0M82.1 244.5h0M161.6 298.5h0M120.8 233.6h0M157.9 253.2h0M61 223.1h0M172.6 229.8h0M95.8 211.7h0M145.6 239.5h0M123.5 264.3h0M146.6 295.6h0M129.2 297.4h0M124.4 208.2h0M131.9 299.8h0M127.8 290.5h0M142.9 254.3h0M135.6 269.2h0M143.1 214.5h0M160.8 225.1h0M64.8 226.1h0M156 233.7h0M63.2 258.6h0M128.9 244.7h0M156.2 244.7h0M144.6 220.7h0M65.2 232.4h0M93.3 265.7h0M90.9 209.6h0M88.6 281.9h0M188.6 214.3h0M105.3 277.5h0M115.1 221.9h0M170.4 261h0M108.2 200.4h0M108.2 266.8h0M186.3 305.2h0M181 265.9h0M160.4 203.5h0M172.6 208.7h0M187.7 301.4h0M184.1 208.4h0M169.2 204.7h0M118.9 288.9h0M84.7 216.8h0M180.8 212.4h0M122.3 285.3h0M165.5 237.6h0M102.3 244h0M168.5 263.8h0M172.6 207.5h0M187.5 286h0M108.8 296.6h0M71 276.1h0M140.6 244.3h0M142.7 278.8h0M62.1 256.1h0M106.3 298.9h0M123.8 264h0M90.9 288.5h0M167.1 295.1h0M139.8 243.7h0M84.3 228h0M57.5 199.5h0M184.9 275.9h0M65.7 206.1h0M155.2 248.9h0M181.7 283.8h0M170.6 299.2h0M128.3 200h0M85 279.6h0M179.6 231.9h0M116.2 225.8h0M128 207.5h0M76.6 220.7h0M123.7 267.3h0M181.4 232.1h0M56.5 208.3h0M64.5 239.6h0M157.6 292.2h0M124.6 247.8h0M80.2 237.9h0M96.4 281.4h0M81.9 246.7h0M185.6 217.8h0M61.7 292h0M98.5 297.6h0M101.6 200.5h0M113.6 300.1h0M168.5 247.9h0M134.9 212.7h0M149.7 244.4h0M114.8 225.3h0M154.1 291.4h0M115.1 205h0M114.3 219.3h0M161.3 222.6h0M69.5 217.2h0M163.5 209h0M90.8 204.4h0M106.9 256.3h0M180.9 283.7h0M68.7 243.2h0M117.5 265h0M131.5 271.7h0M187.2 240.9h0M183.9 232.7h0M84.4 210.1h0M177.1 268.9h0M104 239.7h0M128.9 250.4h0M62.8 262.1h0M121.4 218.8h0M98.8 273.6h0M64.6 264.6h0M152 268.3h0M130.2 262h0M57 232.5h0M74.4 304.9h0M64.5 304.6h0M86.1 247.2h0M62.1 285h0M90.2 200.8h0M102.6 260.1h0M186.4 263.6h0M171.6 276.4h0M181.8 263.5h0M141.3 222.5h0M123.1 306.3h0M154.5 306.5h0M138 259.3h0M94.6 237.5h0M182 226.5h0M98.9 234.7h0M119.3 222.1h0M157.7 300.8h0M150.1 295.9h0M164.2 283.3h0M56.8 220.9h0M106.7 227.9h0M179.3 248.7h0M145.7 236.9h0M120.3 255.4h0M141.5 262.1h0M144.6 280h0M75 296.1h0M161.8 206.3h0M133 223.8h0M70.2 236.9h0M120.9 240.1h0M113.9 248.1h0M66 203.4h0M138.3 276h0M82.8 281h0M88.8 214.4h0M157.6 270.2h0M141.2 289.2h0M146.6 245.6h0M134.3 252.3h0M77.1 287.4h0M111.2 230.5h0M189.3 206.6h0M151.7 205.5h0M89.7 218.1h0M162.9 305.6h0M112.9 263.6h0M127.7 232.3h0M111.1 259.4h0M135 243.8h0M105.2 256.2h0M139.7 269.5h0M176.3 271.7h0M110 302.7h0M124.6 257.2h0M116.8 302.1h0M153.6 216.2h0M148.1 255.2h0M161.7 202.1h0M152.7 275.7h0M56.7 218.9h0M122.3 278h0M140.4 268.9h0M169.6 224h0M83 281.8h0M95.8 289.5h0M159.7 253h0M92.3 223.3h0M52.3 262.5h0M146.4 238.6h0M170.2 280.3h0M61.3 258.6h0M120.9 208.1h0M176.7 292.1h0M86.4 252.2h0M102.8 260.6h0M156.6 302.2h0M122.1 276.8h0M131.4 294.9h0M69.2 281.4h0M128.1 251.8h0M78.4 239.1h0M50.4 209.3h0M188.6 260.3h0M92.5 290.7h0M63.4 297.8h0M55 295.3h0M62.8 243.1h0M61.9 244.2h0M71 272.5h0M70 299.7h0M50.8 266.2h0M128.9 303.5h0M128.5 287.2h0M56.2 220.3h0M62.5 270.4h0M140.9 268.7h0M180.6 217.7h0M93.2 204.5h0M187 223.1h0M55.1 276.8h0M123.9 300.4h0M74.4 203.9h0M93.8 221.1h0M121.1 210h0M67.5 230.2h0M147.4 248.4h0M130.3 301.9h0M126.9 258.9h0M182.6 206.9h0M185.5 214.8h0M58.6 236.3h0M98.7 269.7h0M54.5 247.5h0M108.2 268.3h0M56.5 207.7h0M155.2 301.1h0M112.9 282.6h0M60.6 207.9h0M122.5 269.2h0M88.6 223h0M115.3 258.3h0M153.6 208.6h0M77.4 243.9h0M51.4 206.4h0M120 214h0M129.8 294.4h0M166.4 298.5h0M51.5 253.7h0M178 249.8h0M60.7 221h0M70.5 265.4h0M91.2 219.9h0M159.9 257.2h0M125.4 235.8h0M146.4 269.6h0M96.1 287.4h0M174.6 265.7h0M180.3 236h0M115.7 214.1h0M58.2 221.1h0M130 244.8h0M188.7 213h0M117.5 269.1h0M130.6 285.1h0M142 274.8h0M127.7 239.1h0M111.2 214.8h0M149.2 298.2h0M61.7 288.5h0M172.6 260.5h0M162.9 255.9h0M74.9 220.8h0M171.6 210.6h0M119.1 305.2h0M187.2 209.8h0M97.6 248h0M180.7 213.8h0M159.7 279h0M163.5 297.4h0M155.2 219.8h0M143.8 221.3h0M66.8 280.9h0M52 234.1h0M104.1 254.8h0M58.7 250.7h0M153.5 225.5h0M165.3 277.1h0M76.6 286.5h0M143.4 202.5h0M187.5 268.5h0M144.7 278.5h0M170.3 219.5h0M83.1 201.9h0M117 277.4h0M109.1 290.7h0M143 264.3h0M182.6 232h0M176.9 248h0M119.8 223.5h0M99.2 246.4h0M51.3 220.8h0M139.7 206.1h0M168.7 280.8h0M100.9 285.4h0M158.6 301.9h0M92.3 235.9h0M103.2 250.8h0M128.2 263.2h0M162.6 275.6h0M166.6 211.5h0M130.3 302.9h0M152.2 301.8h0M130.2 248.8h0M118.4 208.1h0M174.8 292.6h0M145.2 297h0M96.2 259.8h0M144.2 283h0M169 306.8h0M145 211.7h0M57.2 239.4h0M141.5 242.6h0M163.1 260.9h0M169.5 278.4h0M109.9 279.3h0M81.9 271.9h0M91.3 200.4h0M157.1 204.6h0M104.9 242.4h0M181.8 303.8h0M163.1 255h0M184.9 234.4h0M90.6 277.4h0M168.2 300.8h0M143.6 204.3h0M61.8 296.8h0M176.3 214h0M183.8 295.8h0M185.1 270.9h0M81.6 257h0M150.6 262.3h0M129.1 296.7h0M189.6 228h0M84.3 280.1h0M172.1 267.5h0M86 287.2h0M61.5 217.3h0M78.3 306.5h0M179.4 274.8h0M83.1 256.3h0M181.2 227.9h0M132.8 219.1h0M128.1 286.4h0M93.7 289.7h0M179 282.8h0M112.4 229.6h0M172.7 239.5h0M181.9 274.2h0M137.9 263.1h0M72.1 244h0M188.5 270.3h0M88.6 296.5h0M128.7 257.6h0M53.4 255.7h0M174.5 251.3h0M179.4 270.4h0M156.8 274.6h0M101 257h0M168 243.7h0M144.7 204.7h0M172.7 217.5h0M105.8 249.3h0M139.3 203.7h0M163 277h0M86.3 200.2h0M182.6 304.2h0M143.6 246.4h0M109.5 293h0M79.1 213.4h0M117 218.9h0M105.6 283.7h0M145 219.8h0M51.8 199.8h0M125.8 233h0M158.2 265.3h0M75.3 281h0M74.8 276.2h0M113.2 274h0M185.7 208.9h0M70.2 298.8h0M139.7 250.7h0M51.3 243.5h0M111.4 271h0M78.7 212.8h0M188.8 218.9h0M75.5 241.7h0M177 219.8h0M183.9 285.3h0M126.1 283.8h0M143.2 219.4h0M93.4 276.3h0M188.1 228.8h0M57 223.4h0M149 302.1h0M90.3 211.6h0" stroke="#b83c6c" stroke-opacity="0.5" stroke-width="1.3" stroke-linecap="round" fill="none"/>
</g>
<clipPath id="c4"><rect x="212" y="199.4" width="140" height="108.1"/></clipPath>
<linearGradient id="g4" x1="0" y1="0" x2="1" y2="1"><stop offset="0" stop-color="#efb0ba"/><stop offset="1" stop-color="#f1b8c0"/></linearGradient>
<g clip-path="url(#c4)">
<rect x="212" y="199.4" width="140" height="108.1" fill="url(#g4)"/>
<path d="M245 210.6h0M233.7 206.6h0M340.5 285.9h0M243.1 257.4h0M236.2 210.9h0M324.1 220.3h0M299.8 278.5h0M335.2 208.8h0M306 254.1h0M333.2 258.6h0M339.2 261.3h0M330.7 254.4h0M295.8 246h0M254.7 287.2h0M218.5 267.1h0M286.8 250.3h0M351.6 220.5h0M240.4 267.8h0M261.8 280.1h0M290.2 297.2h0M220.6 224.1h0M298.2 225.1h0M236.9 249h0M314.9 303.2h0M252.5 303.8h0M269.5 301.4h0M326.5 231.1h0M274.2 214.1h0M346.7 235.2h0M218.3 217.7h0M262.8 230.8h0M349.4 245.2h0M220.3 205.4h0M306.8 215.6h0M229.1 256.6h0M269.3 306.2h0M245.9 243.8h0M328.3 253.3h0M247.6 225.6h0M244.4 293.4h0M219.2 299.7h0M350.7 243h0M303.6 284.9h0M281.2 209.4h0M301.9 287.5h0M303.7 273.6h0M341.2 302.8h0M218.2 296.6h0M347.6 271.5h0M235.4 268.1h0M316.5 299.7h0M212.5 299.1h0M321.6 294.3h0M335 221.2h0M258.3 295.8h0M278 256.3h0M216.8 263.7h0M333.1 265.1h0M262.8 282.4h0M223.9 258.1h0M322.2 233h0M280.1 303.9h0M239.4 232.1h0M271.1 285.7h0M334.4 218.5h0M281.2 236h0M338.6 276.2h0M255.7 258.3h0M312.2 251.7h0M246.4 291h0M319.3 306h0M306.7 265.3h0M339.8 249.9h0M254.8 293.2h0M297.8 247.2h0M319.9 238.6h0M230.7 208.3h0M264.1 261.7h0M298.9 209.5h0M343.1 218.8h0M257.7 231.9h0M234.2 262.5h0M292.3 300.8h0M347.6 212h0M306.6 280h0M310.5 232.9h0M337.9 242.7h0M326.4 230.1h0M213.8 219.3h0M309.1 265.9h0M345.1 266.8h0M340.8 264.7h0M224.8 227.3h0M232.8 225.2h0M344.7 217.1h0M248.7 256.1h0M225.5 202.8h0M252.5 295.6h0M314.4 270.2h0M335 277.2h0M309.1 277.6h0M279.8 206.7h0M334.5 227.1h0M307.5 292.5h0M266.2 245.1h0M233.4 216.3h0M327.3 224.5h0M278.7 277.1h0M327.6 307.1h0M341 300.7h0M330.7 289.5h0M296 203.4h0M247.8 292.1h0M255 296.2h0M337 294.9h0M309.8 264.8h0M350.2 237.6h0M311.9 253.2h0M295.7 226.4h0M327.7 254.5h0M330.1 266.8h0M214.6 278.6h0M278.9 215.1h0M336.6 280.3h0M253.7 241.4h0M317.6 292.7h0M308.7 284.7h0M273.2 218.3h0M336.2 300.1h0M317.8 243.4h0M329.9 234.1h0M247.8 254.7h0M230.5 281.4h0M350.1 217.3h0M241.6 300.3h0M336.7 253.4h0M235.3 225.8h0M228 304.4h0M222.6 290.9h0M237.4 221.7h0M236.1 222.6h0M305.5 290.5h0M239.9 214.3h0M288.5 257.8h0M316.1 290h0M217.3 215.9h0M245.4 261.4h0M299.5 236.6h0M311.1 301.5h0M260.8 305.5h0M215.8 220.1h0M314.4 300.8h0M217.8 232.5h0M267 214.5h0M276.9 237.9h0M231.1 202.6h0M314.5 244.6h0M279.4 304.7h0M237.4 265.9h0M295.9 277.7h0M273.2 285.9h0M218 219.2h0M272.9 233.4h0M235.8 236.8h0M288.2 303h0M248.1 235.6h0M239.6 250.3h0M232.1 276.3h0M296.6 258.2h0M220 250.8h0M241.3 250.5h0M308.7 303.1h0M252.3 244.5h0M286.1 291.7h0M222.1 246.2h0M271.4 298.1h0M351.8 200.5h0M252.8 255.4h0M224.9 268.6h0M300.2 254.6h0M308.6 206.4h0M231 210.6h0M257.4 236.1h0M294.2 212.2h0M221.9 302.7h0M319.5 258.3h0M285.5 257.4h0M299.5 217.8h0M303.2 258.2h0M307.7 277.8h0M275.2 235.4h0M256.3 231.8h0M241.3 251.7h0M263.6 271.1h0M332.9 285.6h0M328.8 218.5h0M351.3 203h0M333.4 199.7h0M289.8 223.5h0M347.4 241.9h0M273.8 278.5h0M224.5 284.9h0M272.8 279.1h0M348.5 236.5h0M307.5 199.5h0M318.3 261.3h0M343.2 246.2h0M266.9 208.7h0M241.5 202.4h0M229.7 248.8h0M318.1 294.9h0M305.7 295.5h0M311.5 246.4h0M335 261.6h0M341.4 230.2h0M217 294.3h0M306.2 225.1h0M279 294.2h0M229.3 293h0M309.9 281.9h0M315.9 229.7h0M262.4 228.1h0M342 279.6h0M283.2 281.1h0M338 279.6h0M247.6 266.6h0M302.6 218.4h0M345.8 293.4h0M292.4 229h0M220.9 247.1h0M220.8 265.8h0M212.8 220.3h0M242.8 200.9h0M260.9 261.4h0M311.1 298.4h0M300.9 212.2h0M225.5 292.6h0M311.5 294.2h0M241 226.2h0M266.2 207h0M301.5 293.7h0M313.6 288.5h0M227.1 215h0M275.8 292.8h0M331.7 239h0M246.6 268.6h0M213 242.5h0M266.7 258.2h0M287.7 207.1h0M223.3 249.2h0M212.9 242.5h0M260.1 276h0M348.6 303.6h0M319 235.5h0M241.5 278.2h0M286.1 213.2h0M308.6 281.1h0M279.8 227.5h0M304 280.3h0M340.7 253.8h0M347.1 208.7h0M288.4 264.4h0M234.2 254.3h0M265.8 218.8h0M299.8 242.5h0M277.6 271.8h0M250.1 246.5h0M217.1 272.1h0M336.6 220.1h0M216.8 252.7h0M320.6 282.7h0M219.2 278.3h0M264.2 237.1h0M292.7 241.4h0M278 306.3h0M312.6 299.7h0M262.7 285.1h0M319.3 215.4h0M283.9 282.8h0M306 288.8h0M349 199.7h0M281.9 305.5h0M216 214.2h0M324.6 284.8h0M312.3 299.7h0M215.1 236.3h0M266.2 205.9h0M271.8 228.1h0M250.8 296.5h0M266.5 283.5h0M274.7 294.6h0M331.2 255h0M261 229.5h0M273.7 255.4h0M332.3 274.9h0M305.2 274.2h0M258.8 234.7h0M264.3 291h0M242.8 265.3h0M350.7 301.3h0M274.8 269.9h0M336.9 284.8h0M240.2 210.3h0M234.1 227.1h0M232.8 242.4h0M344.1 207.9h0M277.5 216.9h0M262.9 238.1h0M289.9 249.8h0M297.3 251.8h0M230.5 258.4h0M300.6 287.8h0M292 300.1h0M351.4 246.8h0M230.2 202.7h0M309 299.2h0M332.1 203.7h0M314.3 221.5h0M224.9 214.2h0M350.6 207.1h0M334.7 217.8h0M259.5 268.7h0M232.9 296.4h0M303.7 205.6h0M350.9 271.4h0M329.3 238.4h0M302.6 205.9h0M342.2 259.5h0M221.4 244.3h0M289.7 290.9h0M291.3 255.4h0M293.2 242.2h0M332.9 237.7h0M250 306.1h0M314.4 227.8h0M316.1 247.7h0M228.3 277.3h0M324.9 207.7h0M232.3 261h0M244.2 260h0M323.2 217.4h0M317.7 227.9h0M321.7 260.3h0M333.6 303.5h0M267 248.5h0M333.4 242h0M221.9 247.4h0M322.1 251.6h0M253.6 237.8h0M238.5 252h0M239 252.2h0M349.6 252.7h0M244.8 296.1h0M233.2 268h0M285.8 266.7h0M304.7 242.3h0M327.5 306.3h0M271.7 217.1h0M278.2 283.5h0M267.6 214h0M234 212.4h0M245.2 227.6h0M313.2 220.5h0M221.4 227.1h0M301.5 264.2h0M216.3 229.8h0M262.3 305h0M346.4 278.6h0M343.8 246.3h0M273.1 278.9h0M300.3 285h0M286.7 234.8h0M296.9 223.2h0M288.5 222h0M222.7 237.1h0M246.2 228.3h0M296.9 279.5h0M326.9 200.5h0M225.2 284.4h0M314.3 222h0M226 287.1h0M342.2 274.4h0M276.5 260.2h0M347.7 223.2h0M351.8 273.8h0M277.7 200.8h0M324.3 228.7h0M280.4 218h0M221.2 276.5h0M283.5 261.8h0M234.4 245.6h0M305.1 250.7h0M322.2 294.2h0M226.2 213.4h0M307.2 247.5h0M242.5 242h0M316.9 303.8h0M225.9 239.3h0M351.3 205.6h0M278.7 296.1h0M271.9 304.6h0M307.7 283.8h0M338.1 272.4h0M305.3 285.7h0M226.1 247.8h0M347.6 273.7h0M283.7 295.9h0M310.9 238.5h0M319.3 220.9h0M329.8 307h0M297.9 306.8h0M333.7 256.2h0M252.8 286.8h0M283.5 251.2h0M228.7 202.1h0M256.7 305.9h0M285 292h0M252.8 222.4h0M293.5 260.1h0M290.6 253.6h0M246.1 224h0M308.2 281.3h0M293.6 240.4h0M345.8 252.1h0M310.2 253h0M215.1 287.9h0M330.7 236.6h0M313 230.8h0M237.5 296.4h0M321.4 252.4h0M303.1 295.6h0M256.8 284.5h0M319.1 276.7h0M238.4 220.3h0M279.1 281.5h0M342.5 229.7h0M215.7 239.9h0M344.5 220.1h0M333.2 299h0M284.3 294.6h0M275.1 246.2h0M250.4 239h0M276.9 283.7h0M229.6 238.8h0M345.9 233.6h0M329.6 231.3h0M341.5 226.6h0M291.7 208.5h0M305.3 262.2h0M232 218.7h0M337.3 241.7h0M307.9 200.7h0M248.2 256.7h0M233.3 284.3h0M290.8 266.1h0M293 270.7h0M225.1 264.8h0M236.7 225.4h0M277.6 240.9h0M242.7 265.8h0M237.6 287.8h0M260.3 304.4h0M233.4 251.2h0M330.4 283.6h0M231.2 272.2h0M255.7 252.2h0M297.7 261.7h0M282.7 260.2h0M255.9 301.3h0M230.1 296.5h0M296.6 201.7h0M344.4 257.8h0M295.3 257.7h0M350 235.6h0M266.9 207.9h0M237.4 279.8h0M295.4 305h0M351.9 226.4h0M232 216h0M320.4 270.2h0M221.1 207.6h0M289 199.5h0M305.3 224.6h0M219.4 292.5h0M259.3 222.3h0M270.3 259.7h0M237.1 232.8h0M315.8 288.4h0M276.6 262h0M320.7 247.3h0M278.5 221.1h0M262.6 246.5h0M235.6 289.4h0M264.9 267.4h0M253.3 237.9h0M332.8 247.5h0M296.3 283.1h0M307.1 238.6h0M222.3 204.9h0M275.1 278.3h0M238.5 288.5h0M220.6 291.7h0M334.9 257.2h0M250.6 242h0M322.5 290.6h0M293.2 283h0M325.2 225.6h0M231.4 227.6h0M300 296.8h0M283.5 207.5h0M319.6 294.7h0M266.9 297.9h0M298.4 217.4h0M270.5 253.6h0M224.7 287.2h0M238.5 266.1h0M229.8 262.3h0M340.4 261h0M343.2 262.2h0M313.2 205.2h0M326.5 218.7h0M226.3 275.5h0M303.5 206.7h0M273.1 204h0M225.5 268.5h0M275.3 286.1h0M263.8 267.3h0M348.8 305.2h0M302 299.8h0M223.3 278.2h0M259.8 205.7h0M326.4 250.3h0M313.3 201.5h0M217.5 227.4h0M351.5 217.3h0M316.1 285.4h0M296.6 215.3h0M325.3 211.6h0M223.8 286.6h0M229.1 294.8h0M309.9 240.9h0M293.8 239.5h0M348.3 219.3h0M336.4 259.2h0M238.1 275.7h0M223 210.8h0M289.2 246.9h0M263.1 283.1h0M248.9 261.8h0M217.7 266.2h0M303.2 291.1h0M254.7 206.3h0M238.9 205.6h0M309.6 271.9h0M312 225.8h0M306.7 237.3h0M328.6 270.1h0M219.1 283.4h0M301.5 254.1h0M296.5 222.4h0M272.5 211h0M308.8 200.3h0M342.5 297.3h0M339.3 298.6h0M241.7 249.9h0M288.8 210.1h0M231.8 272.7h0M330.8 288.8h0M314.3 278.9h0M327.7 205.9h0M308.6 286.5h0M342.8 234.7h0M320 255.9h0M339.3 241.3h0M258.7 202.4h0M255.1 266.8h0M259.5 299.4h0M259 288.8h0M333.4 245h0M338.1 249.4h0M298.6 274.8h0M222.6 306.5h0M293.8 234.8h0M244.7 243.8h0M225.3 255.3h0M219.6 233.5h0M337.4 251.1h0M242.7 262.4h0M225.9 278.5h0M309.5 258h0M227.5 223.3h0M225 242.9h0M231.5 242.9h0M240.8 232.8h0M331.4 255.6h0M273.2 213.8h0M273.3 199.7h0M230 242.4h0M344.4 204.4h0M215.8 240.5h0M257 219.7h0M328.8 297.1h0M215.1 254.1h0M283.2 299.8h0M228.3 211.1h0M214.3 241h0M277.1 306.9h0M259.7 209h0M270.7 276.9h0M333.9 250.8h0M226.8 280h0M277 270.9h0M237.8 271.6h0M279.4 237.8h0M319.1 223.6h0M259.6 240.3h0M313.5 236h0M286.5 293.1h0M315.7 300.3h0M238.4 229.6h0M334 247.9h0M246.9 225.1h0M318 227.3h0M298 206.4h0M259.6 220.6h0M271.7 302h0M291.6 296.8h0M255.8 297.2h0M248.3 233.5h0M285.8 290.9h0M264.7 289.4h0M236.2 241.8h0M302.6 223.7h0M315.6 209.2h0M321.1 221.4h0M347.3 288.1h0M316.4 286.7h0M314.6 205h0M289.2 284.1h0M337 297.5h0M313.1 276.3h0M291.1 218.8h0M338.3 244.6h0M257.8 273.3h0M265.9 256.8h0M342.3 232h0M245.7 226.7h0M228.9 219.1h0M213.1 241.2h0M309.6 303.5h0M239.7 278.6h0M272.1 205.3h0M222.4 302.5h0M252.1 202.8h0M212.2 239.1h0M336.1 266h0M265.6 207.4h0M300.7 274h0M278.1 253.4h0M252.2 207.7h0M291.1 298.4h0M350.4 207.3h0M290.7 271.8h0M348.8 212.3h0M225.2 205.1h0M286.5 288.4h0M285.9 260.1h0M302.5 227.4h0M233.8 274h0M315.4 268.9h0M212.5 209.6h0M269.2 252.5h0M259.3 230.7h0M271.4 263.9h0M330.6 205.7h0M328.9 214.6h0M241.1 285h0M269.4 294.5h0M250.7 271.2h0M347.2 231.5h0M269.2 263.5h0M290.9 258.2h0M242.8 204.3h0M245.5 255.3h0M294.3 224.9h0M303.3 259.7h0M212.7 230.7h0M312.8 208.5h0M329 297.1h0M292.3 225.5h0M268.5 294.1h0M251.8 306.2h0M289.2 208.3h0M248.9 306.7h0M292.3 227.2h0M278 201.3h0M289.4 218.4h0M215 256.9h0M302.6 280.5h0M335.5 265.8h0M348.9 253.4h0M260.9 234.8h0M318.5 264.1h0M244.7 226.1h0M256.3 216.5h0M264.7 206.3h0M289.4 205.3h0M337.7 262.9h0M219.7 204.8h0M322.5 217.9h0M247.1 270.6h0M334.3 281.7h0M289.8 289h0M235.4 250.7h0M249.2 230.7h0M224.4 225.9h0M239.2 227.6h0M227 261.3h0M224.9 279.6h0M333.4 301.3h0M329.6 283.7h0M270 202.1h0M283.6 292.5h0M318.9 207.1h0M314.9 212.8h0M346.2 302.4h0M263.2 230h0M257 277.5h0M341.8 256.5h0M255.7 218.4h0M230.9 263.3h0M275.9 283.2h0M265.5 262.2h0M243 287.8h0M276.9 202.2h0M322.2 247.5h0M327 205.4h0M240.9 303h0M309.9 208.8h0M301.4 256.3h0M294 205.1h0M317.9 266.5h0M349.1 234.6h0M285.3 249.2h0M223.4 273.4h0M275.1 231.5h0M315 264.8h0M346.8 226.1h0M227.7 215.3h0M238.9 233.4h0M214.8 267.6h0M213.1 211.6h0M340.6 250.2h0M227.8 215.1h0M294.4 209.3h0M266.5 238h0M267 202.4h0M330.1 270.1h0M291.7 245.1h0M231.8 294.5h0M306.4 226.6h0M338.3 265.4h0M279.4 277h0M281.4 216h0M314.3 240.5h0M214.2 217.3h0M271.4 199.5h0M219.1 251.5h0M320 293.3h0M281.4 253.9h0M225.5 218.2h0M294.7 227.3h0M327.4 256.2h0M266 298.1h0M297.7 257.9h0M323.2 225.3h0M284.2 286.9h0M271 224.9h0M291.3 256.3h0M341.8 224.4h0M224.4 255.1h0M333.4 220.9h0M229.9 210.4h0M215.5 230.6h0M221.2 208.7h0M263.5 241.4h0M335.4 234.6h0M332.5 264.9h0M290.2 294.3h0M310.4 287.4h0M271.5 291.3h0M349.3 233.8h0M212.8 202.5h0M215.6 270.6h0M308.6 258.9h0M231.3 206.3h0M221.8 254h0M326.4 290.3h0M277.3 288.7h0M327.2 264.5h0M348.7 219.9h0M275.3 296.9h0M289.4 291.1h0M320.9 257.1h0M273.7 301.1h0M273.3 215.4h0M218.6 242.8h0M216.1 225.1h0M219.2 240.2h0M322.3 290.4h0M238 272h0M255.6 251.7h0M217.6 244.7h0M229.1 306.4h0M310.7 272.8h0M259.7 212.4h0M295.1 244.9h0M315.8 202.1h0M219.6 215.9h0M285.9 268.6h0M314.5 290.8h0M256.6 285h0M346.1 283.9h0M251.2 204h0M304.6 267.6h0M318.6 265.4h0M291.2 277.8h0M216.5 287.2h0M267.1 249.4h0M332.4 279.4h0M236 250.3h0M333.9 268h0M237.5 223.8h0M313.1 223.5h0M290 294.1h0M251.3 243h0M320.2 218.3h0M276.7 227.3h0M248.9 297.8h0M256.6 263.9h0M216.1 288.2h0M286.5 208.8h0M346.6 291.3h0M212.3 239.6h0M347.4 298.6h0M337.9 273.8h0M277.7 293.6h0M272.6 284.2h0M278.9 214.8h0M223.3 201.7h0M349 253.6h0M295.9 211.4h0M334 252.5h0M338.9 252h0M263.7 277.7h0M221.1 249.6h0M315.5 297.4h0M236.4 287.7h0M221.7 286.5h0M344.2 305.5h0M254.5 301.8h0M315.6 220.2h0M249.3 268.2h0M250.9 242.7h0M216.5 273.2h0M237.6 211.2h0M325.2 292h0M340.4 273.7h0M330.1 284.5h0M335.5 242h0M306.7 272.8h0M247.7 205.4h0M273.8 260.4h0M298.8 286h0M244.8 233.8h0M300.1 293.7h0M315.6 270h0M275.8 228.6h0M247.5 279.9h0M226.2 203.5h0M339.3 259.5h0M259.3 210.1h0M231 231h0M344.3 243.4h0M225.2 238.4h0M304.7 297.4h0M305.8 201.4h0M242.6 294h0M306.9 266.2h0M269.3 207.8h0M266.4 218.8h0M267.8 262.8h0M333 259.6h0M302.2 243.7h0M254.6 223.1h0M305.8 212.4h0M316.7 250.5h0M333.7 295.7h0M275.2 283.8h0M226.6 235.6h0M216.9 296.1h0M260.8 229.4h0M307.1 285.3h0M244.6 304.9h0M293.2 293.5h0M271.3 282.2h0M222.6 222.8h0M347.3 224.5h0M323.9 269.2h0M223.2 290.2h0M225.4 218.8h0M301.6 289.2h0M336.6 203.2h0M292.7 286.9h0M297.9 233.9h0M295 232h0M243 219.5h0M332.8 240.2h0M270 200.9h0M250.9 301.5h0M347 237.3h0M264.1 266.1h0M217.2 214.3h0M255.5 298.9h0M304.3 248.2h0M227.4 282.5h0M287.4 227.8h0M274.5 279.4h0M218.9 266.7h0M238.4 282.1h0M240 232.4h0M315.9 227.5h0M266.6 300.9h0M245 234.4h0M256.4 251h0M318.1 303.9h0M235.4 300.7h0M224.3 225.8h0M212.1 272.6h0M259.6 215.6h0M275.3 271.8h0M273.9 282.8h0M287.9 259.7h0M276.2 252.3h0M345.9 232h0M316.7 290.9h0M327.5 200.4h0M215.9 224.6h0M310.7 300.1h0M286.9 203.4h0M318.5 227h0M226.7 300.5h0M247.9 226.4h0M303.7 202h0M307 242.1h0M295.8 248.5h0M329.1 273.9h0M308.5 246.5h0M260.1 219h0M220.7 240h0M279.8 214.6h0M340.4 227.8h0M343.6 222.9h0M213.4 250.3h0M335.7 237h0M351 279.6h0M290.7 239.9h0M340 296.2h0M351 210h0M234 294.3h0M285.6 276.6h0M348.2 287.3h0M343.4 281.5h0M233.4 282.8h0M270.5 259.8h0M245.2 238.6h0M281.5 248.9h0M325.7 258.2h0M253.2 206.5h0M319.1 274h0M259.1 291h0M288.8 266h0M333.2 298.9h0M267.6 273.7h0M242.3 305.5h0M239.8 201.7h0M212.9 256.5h0M300.2 266.9h0M217.9 250.8h0M325 276.7h0M216.2 209.2h0M232.4 233.8h0M224.7 204.1h0M317.2 306.6h0M326 278.3h0M276.4 228.5h0M282 307.3h0M328.5 283.2h0M287 237h0M228.7 220.2h0M240 205.4h0M289.3 227.8h0M314 277.2h0M294.3 225.2h0M303 253.8h0M300.5 236.5h0M312.3 263.3h0M350.8 204.9h0M261.7 216.5h0M222.4 238.4h0M332.8 221.3h0M295.1 271.5h0M318 238.4h0M271.1 222.5h0M310.6 270.8h0M301 208.3h0M227.5 246.9h0M226.4 284.2h0M275 306.8h0M254.3 214.8h0M335.9 305.9h0M214.9 200.6h0M321.1 272.6h0M335.4 260.4h0M257.9 295.8h0M293 230.6h0M311.7 233.1h0M344.9 297.8h0M242.7 267.8h0M332.7 223.7h0M267.3 244.8h0M261.9 292.1h0M293.1 243.3h0M307.5 251.2h0M217.2 222.8h0M330.1 298.9h0M333.1 247.5h0M286.6 256.3h0M296.4 267.3h0M317.6 235.4h0M283.8 205.2h0M236.4 204.3h0M231.9 293.8h0M256.4 274.1h0M344.1 240.6h0M248.4 209.7h0M347.5 241h0M218.5 252.6h0M323.5 281.4h0M278 255h0M311.8 201.3h0M214.7 231h0M218.2 302.3h0M325.7 217.3h0M265.1 209.7h0M302.5 224.7h0M271.8 221.7h0M310.8 237.7h0M341 237.9h0M337.9 234.4h0M318.8 241.4h0M217.5 236.1h0M264 299h0M337.8 205.9h0M336.6 216.6h0M347.6 298.5h0M350.7 218h0M265.9 298.3h0M299.7 292.1h0M321.5 300.2h0M267.4 256.2h0M302.3 265.3h0M302.8 251.6h0M235.7 275.1h0M336.2 206.4h0M315.9 236.1h0M254.1 220.7h0M239.9 216h0M324.8 265.2h0M267 262h0M261.9 301.6h0M229.3 213.7h0M239.9 237.1h0M314.9 249h0M300.9 289.9h0M248.1 209.3h0M350.1 256.7h0M317.6 210.5h0M218.4 216.4h0M347.4 284.9h0M314.3 280.5h0M248.6 243.6h0M219.9 216.6h0M270.6 217.2h0M278.8 250.4h0M329.5 234h0M229.1 260h0M222.1 238.2h0M310.7 214.3h0M316.1 238.2h0M299.5 297.1h0M287.2 225h0M220.4 286.6h0M349.3 279.5h0M333.7 254.2h0M267 280.9h0M266.8 205h0M308.2 284.9h0M266.2 289.1h0M220.2 282h0M227.6 306.7h0M326.8 214.1h0M338.8 236.3h0M288 242.8h0M237.5 251.1h0M343.8 219.1h0M276.3 297h0M218.1 250.8h0M314.1 290.4h0M252.8 269.3h0M301.7 234.5h0M225.8 294.3h0M286.7 217.6h0M230.3 280.1h0M337.4 262.1h0M257 285.9h0M219.5 218.1h0M260.5 298h0M339.6 280.7h0M243 201.2h0M279 255.2h0M230.7 272.9h0M311.2 258.3h0M344.7 216.1h0M275 271.3h0M288.1 259.4h0M297.3 247.8h0M273.6 241.6h0M256.8 280.2h0M282.6 269.2h0M329.1 252.2h0M254.1 263.2h0M328.7 225.1h0M239.1 246.1h0M329.6 258.6h0M334.6 242.8h0M332.2 293.7h0M298.8 256.7h0M332.8 276.2h0M331.2 307.5h0" stroke="#cc7090" stroke-opacity="0.45" stroke-width="3.3" stroke-linecap="round" fill="none"/>
<path d="M245 210.6h0M233.7 206.6h0M340.5 285.9h0M243.1 257.4h0M236.2 210.9h0M324.1 220.3h0M299.8 278.5h0M335.2 208.8h0M306 254.1h0M333.2 258.6h0M339.2 261.3h0M330.7 254.4h0M295.8 246h0M254.7 287.2h0M218.5 267.1h0M286.8 250.3h0M351.6 220.5h0M240.4 267.8h0M261.8 280.1h0M290.2 297.2h0M220.6 224.1h0M298.2 225.1h0M236.9 249h0M314.9 303.2h0M252.5 303.8h0M269.5 301.4h0M326.5 231.1h0M274.2 214.1h0M346.7 235.2h0M218.3 217.7h0M262.8 230.8h0M349.4 245.2h0M220.3 205.4h0M306.8 215.6h0M229.1 256.6h0M269.3 306.2h0M245.9 243.8h0M328.3 253.3h0M247.6 225.6h0M244.4 293.4h0M219.2 299.7h0M350.7 243h0M303.6 284.9h0M281.2 209.4h0M301.9 287.5h0M303.7 273.6h0M341.2 302.8h0M218.2 296.6h0M347.6 271.5h0M235.4 268.1h0M316.5 299.7h0M212.5 299.1h0M321.6 294.3h0M335 221.2h0M258.3 295.8h0M278 256.3h0M216.8 263.7h0M333.1 265.1h0M262.8 282.4h0M223.9 258.1h0M322.2 233h0M280.1 303.9h0M239.4 232.1h0M271.1 285.7h0M334.4 218.5h0M281.2 236h0M338.6 276.2h0M255.7 258.3h0M312.2 251.7h0M246.4 291h0M319.3 306h0M306.7 265.3h0M339.8 249.9h0M254.8 293.2h0M297.8 247.2h0M319.9 238.6h0M230.7 208.3h0M264.1 261.7h0M298.9 209.5h0M343.1 218.8h0M257.7 231.9h0M234.2 262.5h0M292.3 300.8h0M347.6 212h0M306.6 280h0M310.5 232.9h0M337.9 242.7h0M326.4 230.1h0M213.8 219.3h0M309.1 265.9h0M345.1 266.8h0M340.8 264.7h0M224.8 227.3h0M232.8 225.2h0M344.7 217.1h0M248.7 256.1h0M225.5 202.8h0M252.5 295.6h0M314.4 270.2h0M335 277.2h0M309.1 277.6h0M279.8 206.7h0M334.5 227.1h0M307.5 292.5h0M266.2 245.1h0M233.4 216.3h0M327.3 224.5h0M278.7 277.1h0M327.6 307.1h0M341 300.7h0M330.7 289.5h0M296 203.4h0M247.8 292.1h0M255 296.2h0M337 294.9h0M309.8 264.8h0M350.2 237.6h0M311.9 253.2h0M295.7 226.4h0M327.7 254.5h0M330.1 266.8h0M214.6 278.6h0M278.9 215.1h0M336.6 280.3h0M253.7 241.4h0M317.6 292.7h0M308.7 284.7h0M273.2 218.3h0M336.2 300.1h0M317.8 243.4h0M329.9 234.1h0M247.8 254.7h0M230.5 281.4h0M350.1 217.3h0M241.6 300.3h0M336.7 253.4h0M235.3 225.8h0M228 304.4h0M222.6 290.9h0M237.4 221.7h0M236.1 222.6h0M305.5 290.5h0M239.9 214.3h0M288.5 257.8h0M316.1 290h0M217.3 215.9h0M245.4 261.4h0M299.5 236.6h0M311.1 301.5h0M260.8 305.5h0M215.8 220.1h0M314.4 300.8h0M217.8 232.5h0M267 214.5h0M276.9 237.9h0M231.1 202.6h0M314.5 244.6h0M279.4 304.7h0M237.4 265.9h0M295.9 277.7h0M273.2 285.9h0M218 219.2h0M272.9 233.4h0M235.8 236.8h0M288.2 303h0M248.1 235.6h0M239.6 250.3h0M232.1 276.3h0M296.6 258.2h0M220 250.8h0M241.3 250.5h0M308.7 303.1h0M252.3 244.5h0M286.1 291.7h0M222.1 246.2h0M271.4 298.1h0M351.8 200.5h0M252.8 255.4h0M224.9 268.6h0M300.2 254.6h0M308.6 206.4h0M231 210.6h0M257.4 236.1h0M294.2 212.2h0M221.9 302.7h0M319.5 258.3h0M285.5 257.4h0M299.5 217.8h0M303.2 258.2h0M307.7 277.8h0M275.2 235.4h0M256.3 231.8h0M241.3 251.7h0M263.6 271.1h0M332.9 285.6h0M328.8 218.5h0M351.3 203h0M333.4 199.7h0M289.8 223.5h0M347.4 241.9h0M273.8 278.5h0M224.5 284.9h0M272.8 279.1h0M348.5 236.5h0M307.5 199.5h0M318.3 261.3h0M343.2 246.2h0M266.9 208.7h0M241.5 202.4h0M229.7 248.8h0M318.1 294.9h0M305.7 295.5h0M311.5 246.4h0M335 261.6h0M341.4 230.2h0M217 294.3h0M306.2 225.1h0M279 294.2h0M229.3 293h0M309.9 281.9h0M315.9 229.7h0M262.4 228.1h0M342 279.6h0M283.2 281.1h0M338 279.6h0M247.6 266.6h0M302.6 218.4h0M345.8 293.4h0M292.4 229h0M220.9 247.1h0M220.8 265.8h0M212.8 220.3h0M242.8 200.9h0M260.9 261.4h0M311.1 298.4h0M300.9 212.2h0M225.5 292.6h0M311.5 294.2h0M241 226.2h0M266.2 207h0M301.5 293.7h0M313.6 288.5h0M227.1 215h0M275.8 292.8h0M331.7 239h0M246.6 268.6h0M213 242.5h0M266.7 258.2h0M287.7 207.1h0M223.3 249.2h0M212.9 242.5h0M260.1 276h0M348.6 303.6h0M319 235.5h0M241.5 278.2h0M286.1 213.2h0M308.6 281.1h0M279.8 227.5h0M304 280.3h0M340.7 253.8h0M347.1 208.7h0M288.4 264.4h0M234.2 254.3h0M265.8 218.8h0M299.8 242.5h0M277.6 271.8h0M250.1 246.5h0M217.1 272.1h0M336.6 220.1h0M216.8 252.7h0M320.6 282.7h0M219.2 278.3h0M264.2 237.1h0M292.7 241.4h0M278 306.3h0M312.6 299.7h0M262.7 285.1h0M319.3 215.4h0M283.9 282.8h0M306 288.8h0M349 199.7h0M281.9 305.5h0M216 214.2h0M324.6 284.8h0M312.3 299.7h0M215.1 236.3h0M266.2 205.9h0M271.8 228.1h0M250.8 296.5h0M266.5 283.5h0M274.7 294.6h0M331.2 255h0M261 229.5h0M273.7 255.4h0M332.3 274.9h0M305.2 274.2h0M258.8 234.7h0M264.3 291h0M242.8 265.3h0M350.7 301.3h0M274.8 269.9h0M336.9 284.8h0M240.2 210.3h0M234.1 227.1h0M232.8 242.4h0M344.1 207.9h0M277.5 216.9h0M262.9 238.1h0M289.9 249.8h0M297.3 251.8h0M230.5 258.4h0M300.6 287.8h0M292 300.1h0M351.4 246.8h0M230.2 202.7h0M309 299.2h0M332.1 203.7h0M314.3 221.5h0M224.9 214.2h0M350.6 207.1h0M334.7 217.8h0M259.5 268.7h0M232.9 296.4h0M303.7 205.6h0M350.9 271.4h0M329.3 238.4h0M302.6 205.9h0M342.2 259.5h0M221.4 244.3h0M289.7 290.9h0M291.3 255.4h0M293.2 242.2h0M332.9 237.7h0M250 306.1h0M314.4 227.8h0M316.1 247.7h0M228.3 277.3h0M324.9 207.7h0M232.3 261h0M244.2 260h0M323.2 217.4h0M317.7 227.9h0M321.7 260.3h0M333.6 303.5h0M267 248.5h0M333.4 242h0M221.9 247.4h0M322.1 251.6h0M253.6 237.8h0M238.5 252h0M239 252.2h0M349.6 252.7h0M244.8 296.1h0M233.2 268h0M285.8 266.7h0M304.7 242.3h0M327.5 306.3h0M271.7 217.1h0M278.2 283.5h0M267.6 214h0M234 212.4h0M245.2 227.6h0M313.2 220.5h0M221.4 227.1h0M301.5 264.2h0M216.3 229.8h0M262.3 305h0M346.4 278.6h0M343.8 246.3h0M273.1 278.9h0M300.3 285h0M286.7 234.8h0M296.9 223.2h0M288.5 222h0M222.7 237.1h0M246.2 228.3h0M296.9 279.5h0M326.9 200.5h0M225.2 284.4h0M314.3 222h0M226 287.1h0M342.2 274.4h0M276.5 260.2h0M347.7 223.2h0M351.8 273.8h0M277.7 200.8h0M324.3 228.7h0M280.4 218h0M221.2 276.5h0M283.5 261.8h0M234.4 245.6h0M305.1 250.7h0M322.2 294.2h0M226.2 213.4h0M307.2 247.5h0M242.5 242h0M316.9 303.8h0M225.9 239.3h0M351.3 205.6h0M278.7 296.1h0M271.9 304.6h0M307.7 283.8h0M338.1 272.4h0M305.3 285.7h0M226.1 247.8h0M347.6 273.7h0M283.7 295.9h0M310.9 238.5h0M319.3 220.9h0M329.8 307h0M297.9 306.8h0M333.7 256.2h0M252.8 286.8h0M283.5 251.2h0M228.7 202.1h0M256.7 305.9h0M285 292h0M252.8 222.4h0M293.5 260.1h0M290.6 253.6h0M246.1 224h0M308.2 281.3h0M293.6 240.4h0M345.8 252.1h0M310.2 253h0M215.1 287.9h0M330.7 236.6h0M313 230.8h0M237.5 296.4h0M321.4 252.4h0M303.1 295.6h0M256.8 284.5h0M319.1 276.7h0M238.4 220.3h0M279.1 281.5h0M342.5 229.7h0M215.7 239.9h0M344.5 220.1h0M333.2 299h0M284.3 294.6h0M275.1 246.2h0M250.4 239h0M276.9 283.7h0M229.6 238.8h0M345.9 233.6h0M329.6 231.3h0M341.5 226.6h0M291.7 208.5h0M305.3 262.2h0M232 218.7h0M337.3 241.7h0M307.9 200.7h0M248.2 256.7h0M233.3 284.3h0M290.8 266.1h0M293 270.7h0M225.1 264.8h0M236.7 225.4h0M277.6 240.9h0M242.7 265.8h0M237.6 287.8h0M260.3 304.4h0M233.4 251.2h0M330.4 283.6h0M231.2 272.2h0M255.7 252.2h0M297.7 261.7h0M282.7 260.2h0M255.9 301.3h0M230.1 296.5h0M296.6 201.7h0M344.4 257.8h0M295.3 257.7h0M350 235.6h0M266.9 207.9h0M237.4 279.8h0M295.4 305h0M351.9 226.4h0M232 216h0M320.4 270.2h0M221.1 207.6h0M289 199.5h0M305.3 224.6h0M219.4 292.5h0M259.3 222.3h0M270.3 259.7h0M237.1 232.8h0M315.8 288.4h0M276.6 262h0M320.7 247.3h0M278.5 221.1h0M262.6 246.5h0M235.6 289.4h0M264.9 267.4h0M253.3 237.9h0M332.8 247.5h0M296.3 283.1h0M307.1 238.6h0M222.3 204.9h0M275.1 278.3h0M238.5 288.5h0M220.6 291.7h0M334.9 257.2h0M250.6 242h0M322.5 290.6h0M293.2 283h0M325.2 225.6h0M231.4 227.6h0M300 296.8h0M283.5 207.5h0M319.6 294.7h0M266.9 297.9h0M298.4 217.4h0M270.5 253.6h0M224.7 287.2h0M238.5 266.1h0M229.8 262.3h0M340.4 261h0M343.2 262.2h0M313.2 205.2h0M326.5 218.7h0M226.3 275.5h0M303.5 206.7h0M273.1 204h0M225.5 268.5h0M275.3 286.1h0M263.8 267.3h0M348.8 305.2h0M302 299.8h0M223.3 278.2h0M259.8 205.7h0M326.4 250.3h0M313.3 201.5h0M217.5 227.4h0M351.5 217.3h0M316.1 285.4h0M296.6 215.3h0M325.3 211.6h0M223.8 286.6h0M229.1 294.8h0M309.9 240.9h0M293.8 239.5h0M348.3 219.3h0M336.4 259.2h0M238.1 275.7h0M223 210.8h0M289.2 246.9h0M263.1 283.1h0M248.9 261.8h0M217.7 266.2h0M303.2 291.1h0M254.7 206.3h0M238.9 205.6h0M309.6 271.9h0M312 225.8h0M306.7 237.3h0M328.6 270.1h0M219.1 283.4h0M301.5 254.1h0M296.5 222.4h0M272.5 211h0M308.8 200.3h0M342.5 297.3h0M339.3 298.6h0M241.7 249.9h0M288.8 210.1h0M231.8 272.7h0M330.8 288.8h0M314.3 278.9h0M327.7 205.9h0M308.6 286.5h0M342.8 234.7h0M320 255.9h0M339.3 241.3h0M258.7 202.4h0M255.1 266.8h0M259.5 299.4h0M259 288.8h0M333.4 245h0M338.1 249.4h0M298.6 274.8h0M222.6 306.5h0M293.8 234.8h0M244.7 243.8h0M225.3 255.3h0M219.6 233.5h0M337.4 251.1h0M242.7 262.4h0M225.9 278.5h0M309.5 258h0M227.5 223.3h0M225 242.9h0M231.5 242.9h0M240.8 232.8h0M331.4 255.6h0M273.2 213.8h0M273.3 199.7h0M230 242.4h0M344.4 204.4h0M215.8 240.5h0M257 219.7h0M328.8 297.1h0M215.1 254.1h0M283.2 299.8h0M228.3 211.1h0M214.3 241h0M277.1 306.9h0M259.7 209h0M270.7 276.9h0M333.9 250.8h0M226.8 280h0M277 270.9h0M237.8 271.6h0M279.4 237.8h0M319.1 223.6h0M259.6 240.3h0M313.5 236h0M286.5 293.1h0M315.7 300.3h0M238.4 229.6h0M334 247.9h0M246.9 225.1h0M318 227.3h0M298 206.4h0M259.6 220.6h0M271.7 302h0M291.6 296.8h0M255.8 297.2h0M248.3 233.5h0M285.8 290.9h0M264.7 289.4h0M236.2 241.8h0M302.6 223.7h0M315.6 209.2h0M321.1 221.4h0M347.3 288.1h0M316.4 286.7h0M314.6 205h0M289.2 284.1h0M337 297.5h0M313.1 276.3h0M291.1 218.8h0M338.3 244.6h0M257.8 273.3h0M265.9 256.8h0M342.3 232h0M245.7 226.7h0M228.9 219.1h0M213.1 241.2h0M309.6 303.5h0M239.7 278.6h0M272.1 205.3h0M222.4 302.5h0M252.1 202.8h0M212.2 239.1h0M336.1 266h0M265.6 207.4h0M300.7 274h0M278.1 253.4h0M252.2 207.7h0M291.1 298.4h0M350.4 207.3h0M290.7 271.8h0M348.8 212.3h0M225.2 205.1h0M286.5 288.4h0M285.9 260.1h0M302.5 227.4h0M233.8 274h0M315.4 268.9h0M212.5 209.6h0M269.2 252.5h0M259.3 230.7h0M271.4 263.9h0M330.6 205.7h0M328.9 214.6h0M241.1 285h0M269.4 294.5h0M250.7 271.2h0M347.2 231.5h0M269.2 263.5h0M290.9 258.2h0M242.8 204.3h0M245.5 255.3h0M294.3 224.9h0M303.3 259.7h0M212.7 230.7h0M312.8 208.5h0M329 297.1h0M292.3 225.5h0M268.5 294.1h0M251.8 306.2h0M289.2 208.3h0M248.9 306.7h0M292.3 227.2h0M278 201.3h0M289.4 218.4h0M215 256.9h0M302.6 280.5h0M335.5 265.8h0M348.9 253.4h0M260.9 234.8h0M318.5 264.1h0M244.7 226.1h0M256.3 216.5h0M264.7 206.3h0M289.4 205.3h0M337.7 262.9h0M219.7 204.8h0M322.5 217.9h0M247.1 270.6h0M334.3 281.7h0M289.8 289h0M235.4 250.7h0M249.2 230.7h0M224.4 225.9h0M239.2 227.6h0M227 261.3h0M224.9 279.6h0M333.4 301.3h0M329.6 283.7h0M270 202.1h0M283.6 292.5h0M318.9 207.1h0M314.9 212.8h0M346.2 302.4h0M263.2 230h0M257 277.5h0M341.8 256.5h0M255.7 218.4h0M230.9 263.3h0M275.9 283.2h0M265.5 262.2h0M243 287.8h0M276.9 202.2h0M322.2 247.5h0M327 205.4h0M240.9 303h0M309.9 208.8h0M301.4 256.3h0M294 205.1h0M317.9 266.5h0M349.1 234.6h0M285.3 249.2h0M223.4 273.4h0M275.1 231.5h0M315 264.8h0M346.8 226.1h0M227.7 215.3h0M238.9 233.4h0M214.8 267.6h0M213.1 211.6h0M340.6 250.2h0M227.8 215.1h0M294.4 209.3h0M266.5 238h0M267 202.4h0M330.1 270.1h0M291.7 245.1h0M231.8 294.5h0M306.4 226.6h0M338.3 265.4h0M279.4 277h0M281.4 216h0M314.3 240.5h0M214.2 217.3h0M271.4 199.5h0M219.1 251.5h0M320 293.3h0M281.4 253.9h0M225.5 218.2h0M294.7 227.3h0M327.4 256.2h0M266 298.1h0M297.7 257.9h0M323.2 225.3h0M284.2 286.9h0M271 224.9h0M291.3 256.3h0M341.8 224.4h0M224.4 255.1h0M333.4 220.9h0M229.9 210.4h0M215.5 230.6h0M221.2 208.7h0M263.5 241.4h0M335.4 234.6h0M332.5 264.9h0M290.2 294.3h0M310.4 287.4h0M271.5 291.3h0M349.3 233.8h0M212.8 202.5h0M215.6 270.6h0M308.6 258.9h0M231.3 206.3h0M221.8 254h0M326.4 290.3h0M277.3 288.7h0M327.2 264.5h0M348.7 219.9h0M275.3 296.9h0M289.4 291.1h0M320.9 257.1h0M273.7 301.1h0M273.3 215.4h0M218.6 242.8h0M216.1 225.1h0M219.2 240.2h0M322.3 290.4h0M238 272h0M255.6 251.7h0M217.6 244.7h0M229.1 306.4h0M310.7 272.8h0M259.7 212.4h0M295.1 244.9h0M315.8 202.1h0M219.6 215.9h0M285.9 268.6h0M314.5 290.8h0M256.6 285h0M346.1 283.9h0M251.2 204h0M304.6 267.6h0M318.6 265.4h0M291.2 277.8h0M216.5 287.2h0M267.1 249.4h0M332.4 279.4h0M236 250.3h0M333.9 268h0M237.5 223.8h0M313.1 223.5h0M290 294.1h0M251.3 243h0M320.2 218.3h0M276.7 227.3h0M248.9 297.8h0M256.6 263.9h0M216.1 288.2h0M286.5 208.8h0M346.6 291.3h0M212.3 239.6h0M347.4 298.6h0M337.9 273.8h0M277.7 293.6h0M272.6 284.2h0M278.9 214.8h0M223.3 201.7h0M349 253.6h0M295.9 211.4h0M334 252.5h0M338.9 252h0M263.7 277.7h0M221.1 249.6h0M315.5 297.4h0M236.4 287.7h0M221.7 286.5h0M344.2 305.5h0M254.5 301.8h0M315.6 220.2h0M249.3 268.2h0M250.9 242.7h0M216.5 273.2h0M237.6 211.2h0M325.2 292h0M340.4 273.7h0M330.1 284.5h0M335.5 242h0M306.7 272.8h0M247.7 205.4h0M273.8 260.4h0M298.8 286h0M244.8 233.8h0M300.1 293.7h0M315.6 270h0M275.8 228.6h0M247.5 279.9h0M226.2 203.5h0M339.3 259.5h0M259.3 210.1h0M231 231h0M344.3 243.4h0M225.2 238.4h0M304.7 297.4h0M305.8 201.4h0M242.6 294h0M306.9 266.2h0M269.3 207.8h0M266.4 218.8h0M267.8 262.8h0M333 259.6h0M302.2 243.7h0M254.6 223.1h0M305.8 212.4h0M316.7 250.5h0M333.7 295.7h0M275.2 283.8h0M226.6 235.6h0M216.9 296.1h0M260.8 229.4h0M307.1 285.3h0M244.6 304.9h0M293.2 293.5h0M271.3 282.2h0M222.6 222.8h0M347.3 224.5h0M323.9 269.2h0M223.2 290.2h0M225.4 218.8h0M301.6 289.2h0M336.6 203.2h0M292.7 286.9h0M297.9 233.9h0M295 232h0M243 219.5h0M332.8 240.2h0M270 200.9h0M250.9 301.5h0M347 237.3h0M264.1 266.1h0M217.2 214.3h0M255.5 298.9h0M304.3 248.2h0M227.4 282.5h0M287.4 227.8h0M274.5 279.4h0M218.9 266.7h0M238.4 282.1h0M240 232.4h0M315.9 227.5h0M266.6 300.9h0M245 234.4h0M256.4 251h0M318.1 303.9h0M235.4 300.7h0M224.3 225.8h0M212.1 272.6h0M259.6 215.6h0M275.3 271.8h0M273.9 282.8h0M287.9 259.7h0M276.2 252.3h0M345.9 232h0M316.7 290.9h0M327.5 200.4h0M215.9 224.6h0M310.7 300.1h0M286.9 203.4h0M318.5 227h0M226.7 300.5h0M247.9 226.4h0M303.7 202h0M307 242.1h0M295.8 248.5h0M329.1 273.9h0M308.5 246.5h0M260.1 219h0M220.7 240h0M279.8 214.6h0M340.4 227.8h0M343.6 222.9h0M213.4 250.3h0M335.7 237h0M351 279.6h0M290.7 239.9h0M340 296.2h0M351 210h0M234 294.3h0M285.6 276.6h0M348.2 287.3h0M343.4 281.5h0M233.4 282.8h0M270.5 259.8h0M245.2 238.6h0M281.5 248.9h0M325.7 258.2h0M253.2 206.5h0M319.1 274h0M259.1 291h0M288.8 266h0M333.2 298.9h0M267.6 273.7h0M242.3 305.5h0M239.8 201.7h0M212.9 256.5h0M300.2 266.9h0M217.9 250.8h0M325 276.7h0M216.2 209.2h0M232.4 233.8h0M224.7 204.1h0M317.2 306.6h0M326 278.3h0M276.4 228.5h0M282 307.3h0M328.5 283.2h0M287 237h0M228.7 220.2h0M240 205.4h0M289.3 227.8h0M314 277.2h0M294.3 225.2h0M303 253.8h0M300.5 236.5h0M312.3 263.3h0M350.8 204.9h0M261.7 216.5h0M222.4 238.4h0M332.8 221.3h0M295.1 271.5h0M318 238.4h0M271.1 222.5h0M310.6 270.8h0M301 208.3h0M227.5 246.9h0M226.4 284.2h0M275 306.8h0M254.3 214.8h0M335.9 305.9h0M214.9 200.6h0M321.1 272.6h0M335.4 260.4h0M257.9 295.8h0M293 230.6h0M311.7 233.1h0M344.9 297.8h0M242.7 267.8h0M332.7 223.7h0M267.3 244.8h0M261.9 292.1h0M293.1 243.3h0M307.5 251.2h0M217.2 222.8h0M330.1 298.9h0M333.1 247.5h0M286.6 256.3h0M296.4 267.3h0M317.6 235.4h0M283.8 205.2h0M236.4 204.3h0M231.9 293.8h0M256.4 274.1h0M344.1 240.6h0M248.4 209.7h0M347.5 241h0M218.5 252.6h0M323.5 281.4h0M278 255h0M311.8 201.3h0M214.7 231h0M218.2 302.3h0M325.7 217.3h0M265.1 209.7h0M302.5 224.7h0M271.8 221.7h0M310.8 237.7h0M341 237.9h0M337.9 234.4h0M318.8 241.4h0M217.5 236.1h0M264 299h0M337.8 205.9h0M336.6 216.6h0M347.6 298.5h0M350.7 218h0M265.9 298.3h0M299.7 292.1h0M321.5 300.2h0M267.4 256.2h0M302.3 265.3h0M302.8 251.6h0M235.7 275.1h0M336.2 206.4h0M315.9 236.1h0M254.1 220.7h0M239.9 216h0M324.8 265.2h0M267 262h0M261.9 301.6h0M229.3 213.7h0M239.9 237.1h0M314.9 249h0M300.9 289.9h0M248.1 209.3h0M350.1 256.7h0M317.6 210.5h0M218.4 216.4h0M347.4 284.9h0M314.3 280.5h0M248.6 243.6h0M219.9 216.6h0M270.6 217.2h0M278.8 250.4h0M329.5 234h0M229.1 260h0M222.1 238.2h0M310.7 214.3h0M316.1 238.2h0M299.5 297.1h0M287.2 225h0M220.4 286.6h0M349.3 279.5h0M333.7 254.2h0M267 280.9h0M266.8 205h0M308.2 284.9h0M266.2 289.1h0M220.2 282h0M227.6 306.7h0M326.8 214.1h0M338.8 236.3h0M288 242.8h0M237.5 251.1h0M343.8 219.1h0M276.3 297h0M218.1 250.8h0M314.1 290.4h0M252.8 269.3h0M301.7 234.5h0M225.8 294.3h0M286.7 217.6h0M230.3 280.1h0M337.4 262.1h0M257 285.9h0M219.5 218.1h0M260.5 298h0M339.6 280.7h0M243 201.2h0M279 255.2h0M230.7 272.9h0M311.2 258.3h0M344.7 216.1h0M275 271.3h0M288.1 259.4h0M297.3 247.8h0M273.6 241.6h0M256.8 280.2h0M282.6 269.2h0M329.1 252.2h0M254.1 263.2h0M328.7 225.1h0M239.1 246.1h0M329.6 258.6h0M334.6 242.8h0M332.2 293.7h0M298.8 256.7h0M332.8 276.2h0M331.2 307.5h0" stroke="#f8dccc" stroke-opacity="0.75" stroke-width="1.5" stroke-linecap="round"/>
</g>
<text x="182.6" y="158.8" font-size="8.9" stroke="#222" stroke-width="0.3" text-anchor="end" fill="#222" textLength="31.8" lengthAdjust="spacingAndGlyphs">100 µm</text>
<path d="M150.2 162.2L184.9 162.2" stroke="#3a3a3a" stroke-width="1.7"/>
<text x="345.3" y="158.8" font-size="8.9" stroke="#222" stroke-width="0.3" text-anchor="end" fill="#222" textLength="31.8" lengthAdjust="spacingAndGlyphs">100 µm</text>
<path d="M312.9 162.2L347.6 162.2" stroke="#3a3a3a" stroke-width="1.7"/>
<text x="182.6" y="297.8" font-size="8.9" stroke="#222" stroke-width="0.3" text-anchor="end" fill="#222" textLength="31.8" lengthAdjust="spacingAndGlyphs">100 µm</text>
<path d="M150.2 301L184.9 301" stroke="#3a3a3a" stroke-width="1.7"/>
<text x="345.2" y="297.8" font-size="8.9" stroke="#222" stroke-width="0.3" text-anchor="end" fill="#222" textLength="31.8" lengthAdjust="spacingAndGlyphs">100 µm</text>
<path d="M312.8 301L347.5 301" stroke="#3a3a3a" stroke-width="1.7"/>
<text x="389.2" y="26.9" font-size="22.7" fill="#222" font-weight="bold">B</text>
<rect x="457.6" y="94.4" width="17.4" height="56.3" fill="#67676a"/>
<path d="M466.3 94.4L466.3 82.4" stroke="#67676a" stroke-width="1"/>
<path d="M461.7 82.4L470.9 82.4" stroke="#67676a" stroke-width="1"/>
<rect x="483.7" y="136" width="17.4" height="14.7" fill="#5c97d0"/>
<path d="M492.4 136L492.4 130.4" stroke="#5c97d0" stroke-width="1"/>
<path d="M487.8 130.4L497 130.4" stroke="#5c97d0" stroke-width="1"/>
<path d="M448.6 62.2L448.6 151.2" stroke="#555" stroke-width="1.1"/>
<path d="M448.1 150.7L510.2 150.7" stroke="#555" stroke-width="1.1"/>
<path d="M445.4 150.7L448.6 150.7" stroke="#555" stroke-width="0.9"/>
<text x="444.2" y="152.6" font-size="7.1" stroke="#2a2a2a" stroke-width="0.2" text-anchor="end" fill="#2a2a2a">0</text>
<path d="M445.4 133L448.6 133" stroke="#555" stroke-width="0.9"/>
<text x="444.2" y="134.9" font-size="7.1" stroke="#2a2a2a" stroke-width="0.2" text-anchor="end" fill="#2a2a2a">5</text>
<path d="M445.4 115.3L448.6 115.3" stroke="#555" stroke-width="0.9"/>
<text x="444.2" y="117.2" font-size="7.1" stroke="#2a2a2a" stroke-width="0.2" text-anchor="end" fill="#2a2a2a">10</text>
<path d="M445.4 97.6L448.6 97.6" stroke="#555" stroke-width="0.9"/>
<text x="444.2" y="99.5" font-size="7.1" stroke="#2a2a2a" stroke-width="0.2" text-anchor="end" fill="#2a2a2a">15</text>
<path d="M445.4 79.9L448.6 79.9" stroke="#555" stroke-width="0.9"/>
<text x="444.2" y="81.8" font-size="7.1" stroke="#2a2a2a" stroke-width="0.2" text-anchor="end" fill="#2a2a2a">20</text>
<path d="M445.4 62.2L448.6 62.2" stroke="#555" stroke-width="0.9"/>
<text x="444.2" y="64.1" font-size="7.1" stroke="#2a2a2a" stroke-width="0.2" text-anchor="end" fill="#2a2a2a">25</text>
<path d="M466.3 150.7L466.3 154.5" stroke="#555" stroke-width="0.9"/>
<text x="467.9" y="160.1" font-size="6.95" stroke="#2a2a2a" stroke-width="0.2" text-anchor="end" fill="#2a2a2a" transform="rotate(-45 467.9 160.1)">NC-sRNA</text>
<path d="M492.4 150.7L492.4 154.5" stroke="#555" stroke-width="0.9"/>
<text x="494" y="160.1" font-size="6.95" stroke="#2a2a2a" stroke-width="0.2" text-anchor="end" fill="#2a2a2a" transform="rotate(-45 494 160.1)">BZL-sRNA-20</text>
<path d="M466 72.1L492.7 72.1" stroke="#333" stroke-width="1"/>
<text x="479.35" y="71.9" font-size="6.5" text-anchor="middle" fill="#2a2a2a">*</text>
<text x="477.5" y="45.5" font-size="8.7" stroke="#2a2a2a" stroke-width="0.2" text-anchor="middle" fill="#2a2a2a" font-family='"Liberation Sans", "Noto Sans CJK SC", sans-serif' textLength="77" lengthAdjust="spacingAndGlyphs">Delta <tspan font-weight="300" fill="#555">变异株</tspan>&#160; N RNA</text>
<text x="420.32" y="106.25" font-size="8.4" stroke="#2a2a2a" stroke-width="0.2" text-anchor="middle" fill="#2a2a2a" textLength="74.1" lengthAdjust="spacingAndGlyphs" transform="rotate(-90 420.32 106.25)">Relative expression</text>
<text x="432.02" y="106.25" font-size="8.4" stroke="#2a2a2a" stroke-width="0.2" text-anchor="middle" fill="#2a2a2a" textLength="59.44" lengthAdjust="spacingAndGlyphs" transform="rotate(-90 432.02 106.25)">level to GAPDH</text>
<rect x="576.1" y="99.3" width="16.2" height="50.1" fill="#67676a"/>
<path d="M584.2 99.3L584.2 87.5" stroke="#67676a" stroke-width="1"/>
<path d="M579.6 87.5L588.8 87.5" stroke="#67676a" stroke-width="1"/>
<rect x="601.1" y="141.2" width="16.2" height="8.2" fill="#5c97d0"/>
<path d="M609.2 141.2L609.2 139.4" stroke="#5c97d0" stroke-width="1"/>
<path d="M604.6 139.4L613.8 139.4" stroke="#5c97d0" stroke-width="1"/>
<path d="M566.7 64L566.7 149.9" stroke="#555" stroke-width="1.1"/>
<path d="M566.2 149.4L625.5 149.4" stroke="#555" stroke-width="1.1"/>
<path d="M563.5 149.4L566.7 149.4" stroke="#555" stroke-width="0.9"/>
<text x="562.3" y="151.3" font-size="6.6" stroke="#2a2a2a" stroke-width="0.2" text-anchor="end" fill="#2a2a2a">0.00</text>
<path d="M563.5 128.05L566.7 128.05" stroke="#555" stroke-width="0.9"/>
<text x="562.3" y="129.95" font-size="6.6" stroke="#2a2a2a" stroke-width="0.2" text-anchor="end" fill="#2a2a2a">0.02</text>
<path d="M563.5 106.7L566.7 106.7" stroke="#555" stroke-width="0.9"/>
<text x="562.3" y="108.6" font-size="6.6" stroke="#2a2a2a" stroke-width="0.2" text-anchor="end" fill="#2a2a2a">0.04</text>
<path d="M563.5 85.35L566.7 85.35" stroke="#555" stroke-width="0.9"/>
<text x="562.3" y="87.25" font-size="6.6" stroke="#2a2a2a" stroke-width="0.2" text-anchor="end" fill="#2a2a2a">0.06</text>
<path d="M563.5 64L566.7 64" stroke="#555" stroke-width="0.9"/>
<text x="562.3" y="65.9" font-size="6.6" stroke="#2a2a2a" stroke-width="0.2" text-anchor="end" fill="#2a2a2a">0.08</text>
<path d="M584.2 149.4L584.2 153.2" stroke="#555" stroke-width="0.9"/>
<text x="585.8" y="158.8" font-size="6.95" stroke="#2a2a2a" stroke-width="0.2" text-anchor="end" fill="#2a2a2a" transform="rotate(-45 585.8 158.8)">NC-sRNA</text>
<path d="M609.2 149.4L609.2 153.2" stroke="#555" stroke-width="0.9"/>
<text x="610.8" y="158.8" font-size="6.95" stroke="#2a2a2a" stroke-width="0.2" text-anchor="end" fill="#2a2a2a" transform="rotate(-45 610.8 158.8)">BZL-sRNA-20</text>
<path d="M584.2 74.4L609.4 74.4" stroke="#333" stroke-width="1"/>
<text x="596.8" y="74.2" font-size="6.5" text-anchor="middle" fill="#2a2a2a">*</text>
<text x="596.1" y="45.8" font-size="8.7" stroke="#2a2a2a" stroke-width="0.2" text-anchor="middle" fill="#2a2a2a" font-family='"Liberation Sans", "Noto Sans CJK SC", sans-serif' textLength="76.2" lengthAdjust="spacingAndGlyphs">Delta <tspan font-weight="300" fill="#555">变异株</tspan>&#160; E RNA</text>
<text x="534.4" y="106.2" font-size="8" stroke="#2a2a2a" stroke-width="0.2" text-anchor="middle" fill="#2a2a2a" textLength="70.6" lengthAdjust="spacingAndGlyphs" transform="rotate(-90 534.4 106.2)">Relative expression</text>
<text x="545.6" y="106.2" font-size="8" stroke="#2a2a2a" stroke-width="0.2" text-anchor="middle" fill="#2a2a2a" textLength="56.64" lengthAdjust="spacingAndGlyphs" transform="rotate(-90 545.6 106.2)">level to GAPDH</text>
<rect x="702.8" y="75" width="17.8" height="71.5" fill="#67676a"/>
<path d="M711.7 75L711.7 63.5" stroke="#67676a" stroke-width="1"/>
<path d="M707.1 63.5L716.3 63.5" stroke="#67676a" stroke-width="1"/>
<rect x="729.8" y="130.9" width="17.8" height="15.6" fill="#5c97d0"/>
<path d="M738.7 130.9L738.7 124" stroke="#5c97d0" stroke-width="1"/>
<path d="M734.1 124L743.3 124" stroke="#5c97d0" stroke-width="1"/>
<path d="M693.2 55.9L693.2 147" stroke="#555" stroke-width="1.1"/>
<path d="M692.7 146.5L756.7 146.5" stroke="#555" stroke-width="1.1"/>
<path d="M690 146.5L693.2 146.5" stroke="#555" stroke-width="0.9"/>
<text x="688.8" y="148.4" font-size="7.1" stroke="#2a2a2a" stroke-width="0.2" text-anchor="end" fill="#2a2a2a">0.00</text>
<path d="M690 116.3L693.2 116.3" stroke="#555" stroke-width="0.9"/>
<text x="688.8" y="118.2" font-size="7.1" stroke="#2a2a2a" stroke-width="0.2" text-anchor="end" fill="#2a2a2a">0.01</text>
<path d="M690 86.1L693.2 86.1" stroke="#555" stroke-width="0.9"/>
<text x="688.8" y="88" font-size="7.1" stroke="#2a2a2a" stroke-width="0.2" text-anchor="end" fill="#2a2a2a">0.02</text>
<path d="M690 55.9L693.2 55.9" stroke="#555" stroke-width="0.9"/>
<text x="688.8" y="57.8" font-size="7.1" stroke="#2a2a2a" stroke-width="0.2" text-anchor="end" fill="#2a2a2a">0.03</text>
<path d="M711.7 146.5L711.7 150.3" stroke="#555" stroke-width="0.9"/>
<text x="713.3" y="155.9" font-size="6.95" stroke="#2a2a2a" stroke-width="0.2" text-anchor="end" fill="#2a2a2a" transform="rotate(-45 713.3 155.9)">NC-sRNA</text>
<path d="M738.7 146.5L738.7 150.3" stroke="#555" stroke-width="0.9"/>
<text x="740.3" y="155.9" font-size="6.95" stroke="#2a2a2a" stroke-width="0.2" text-anchor="end" fill="#2a2a2a" transform="rotate(-45 740.3 155.9)">BZL-sRNA-20</text>
<path d="M711.4 57.7L739.3 57.7" stroke="#333" stroke-width="1"/>
<text x="725.35" y="57.5" font-size="6.5" text-anchor="middle" fill="#2a2a2a">**</text>
<text x="725.6" y="46.9" font-size="8.2" stroke="#2a2a2a" stroke-width="0.2" text-anchor="middle" fill="#2a2a2a" font-weight="bold" font-family='"Liberation Sans", "Noto Sans CJK SC", sans-serif' textLength="18.8" lengthAdjust="spacingAndGlyphs">IL-1<tspan font-weight="normal">β</tspan></text>
<text x="659.62" y="100.2" font-size="7.4" stroke="#2a2a2a" stroke-width="0.2" text-anchor="middle" fill="#2a2a2a" textLength="65.4" lengthAdjust="spacingAndGlyphs" transform="rotate(-90 659.62 100.2)">Relative expression</text>
<text x="670.22" y="100.2" font-size="7.4" stroke="#2a2a2a" stroke-width="0.2" text-anchor="middle" fill="#2a2a2a" textLength="52.46" lengthAdjust="spacingAndGlyphs" transform="rotate(-90 670.22 100.2)">level to GAPDH</text>
<rect x="817.8" y="72.7" width="16.9" height="72.6" fill="#67676a"/>
<path d="M826.25 72.7L826.25 61.9" stroke="#67676a" stroke-width="1"/>
<path d="M821.65 61.9L830.85 61.9" stroke="#67676a" stroke-width="1"/>
<rect x="843.5" y="128.8" width="17" height="16.5" fill="#5c97d0"/>
<path d="M852 128.8L852 120" stroke="#5c97d0" stroke-width="1"/>
<path d="M847.4 120L856.6 120" stroke="#5c97d0" stroke-width="1"/>
<path d="M808.6 57.4L808.6 145.8" stroke="#555" stroke-width="1.1"/>
<path d="M808.1 145.3L869.6 145.3" stroke="#555" stroke-width="1.1"/>
<path d="M805.4 145.3L808.6 145.3" stroke="#555" stroke-width="0.9"/>
<text x="804.2" y="147.2" font-size="7.1" stroke="#2a2a2a" stroke-width="0.2" text-anchor="end" fill="#2a2a2a">0.000</text>
<path d="M805.4 123.33L808.6 123.33" stroke="#555" stroke-width="0.9"/>
<text x="804.2" y="125.23" font-size="7.1" stroke="#2a2a2a" stroke-width="0.2" text-anchor="end" fill="#2a2a2a">0.002</text>
<path d="M805.4 101.35L808.6 101.35" stroke="#555" stroke-width="0.9"/>
<text x="804.2" y="103.25" font-size="7.1" stroke="#2a2a2a" stroke-width="0.2" text-anchor="end" fill="#2a2a2a">0.004</text>
<path d="M805.4 79.38L808.6 79.38" stroke="#555" stroke-width="0.9"/>
<text x="804.2" y="81.28" font-size="7.1" stroke="#2a2a2a" stroke-width="0.2" text-anchor="end" fill="#2a2a2a">0.006</text>
<path d="M805.4 57.4L808.6 57.4" stroke="#555" stroke-width="0.9"/>
<text x="804.2" y="59.3" font-size="7.1" stroke="#2a2a2a" stroke-width="0.2" text-anchor="end" fill="#2a2a2a">0.008</text>
<path d="M826.25 145.3L826.25 149.1" stroke="#555" stroke-width="0.9"/>
<text x="827.85" y="154.7" font-size="6.95" stroke="#2a2a2a" stroke-width="0.2" text-anchor="end" fill="#2a2a2a" transform="rotate(-45 827.85 154.7)">NC-sRNA</text>
<path d="M852 145.3L852 149.1" stroke="#555" stroke-width="0.9"/>
<text x="853.6" y="154.7" font-size="6.95" stroke="#2a2a2a" stroke-width="0.2" text-anchor="end" fill="#2a2a2a" transform="rotate(-45 853.6 154.7)">BZL-sRNA-20</text>
<path d="M825.7 57.4L852.2 57.4" stroke="#333" stroke-width="1"/>
<text x="838.95" y="57.2" font-size="6.5" text-anchor="middle" fill="#2a2a2a">**</text>
<text x="839.1" y="47.1" font-size="7.8" stroke="#2a2a2a" stroke-width="0.2" text-anchor="middle" fill="#2a2a2a" font-weight="bold" font-family='"Liberation Sans", "Noto Sans CJK SC", sans-serif' textLength="12.2" lengthAdjust="spacingAndGlyphs">IL-8</text>
<text x="772.76" y="101.3" font-size="7.2" stroke="#2a2a2a" stroke-width="0.2" text-anchor="middle" fill="#2a2a2a" textLength="63.2" lengthAdjust="spacingAndGlyphs" transform="rotate(-90 772.76 101.3)">Relative expression</text>
<text x="782.56" y="101.3" font-size="7.2" stroke="#2a2a2a" stroke-width="0.2" text-anchor="middle" fill="#2a2a2a" textLength="50.7" lengthAdjust="spacingAndGlyphs" transform="rotate(-90 782.56 101.3)">level to GAPDH</text>
<rect x="932.2" y="81.3" width="16.9" height="64" fill="#67676a"/>
<path d="M940.65 81.3L940.65 74.5" stroke="#67676a" stroke-width="1"/>
<path d="M936.05 74.5L945.25 74.5" stroke="#67676a" stroke-width="1"/>
<rect x="957.8" y="124.1" width="17.1" height="21.2" fill="#5c97d0"/>
<path d="M966.35 124.1L966.35 114" stroke="#5c97d0" stroke-width="1"/>
<path d="M961.75 114L970.95 114" stroke="#5c97d0" stroke-width="1"/>
<path d="M923 57.4L923 145.8" stroke="#555" stroke-width="1.1"/>
<path d="M922.5 145.3L984 145.3" stroke="#555" stroke-width="1.1"/>
<path d="M919.8 145.3L923 145.3" stroke="#555" stroke-width="0.9"/>
<text x="918.6" y="147.2" font-size="7.1" stroke="#2a2a2a" stroke-width="0.2" text-anchor="end" fill="#2a2a2a">0.000</text>
<path d="M919.8 116L923 116" stroke="#555" stroke-width="0.9"/>
<text x="918.6" y="117.9" font-size="7.1" stroke="#2a2a2a" stroke-width="0.2" text-anchor="end" fill="#2a2a2a">0.001</text>
<path d="M919.8 86.7L923 86.7" stroke="#555" stroke-width="0.9"/>
<text x="918.6" y="88.6" font-size="7.1" stroke="#2a2a2a" stroke-width="0.2" text-anchor="end" fill="#2a2a2a">0.002</text>
<path d="M919.8 57.4L923 57.4" stroke="#555" stroke-width="0.9"/>
<text x="918.6" y="59.3" font-size="7.1" stroke="#2a2a2a" stroke-width="0.2" text-anchor="end" fill="#2a2a2a">0.003</text>
<path d="M940.65 145.3L940.65 149.1" stroke="#555" stroke-width="0.9"/>
<text x="942.25" y="154.7" font-size="6.95" stroke="#2a2a2a" stroke-width="0.2" text-anchor="end" fill="#2a2a2a" transform="rotate(-45 942.25 154.7)">NC-sRNA</text>
<path d="M966.35 145.3L966.35 149.1" stroke="#555" stroke-width="0.9"/>
<text x="967.95" y="154.7" font-size="6.95" stroke="#2a2a2a" stroke-width="0.2" text-anchor="end" fill="#2a2a2a" transform="rotate(-45 967.95 154.7)">BZL-sRNA-20</text>
<path d="M940.4 68.4L966.5 68.4" stroke="#333" stroke-width="1"/>
<text x="953.45" y="68.2" font-size="6.5" text-anchor="middle" fill="#2a2a2a">*</text>
<text x="953" y="47.1" font-size="7.8" stroke="#2a2a2a" stroke-width="0.2" text-anchor="middle" fill="#2a2a2a" font-weight="bold" font-family='"Liberation Sans", "Noto Sans CJK SC", sans-serif' textLength="16.6" lengthAdjust="spacingAndGlyphs">IL-18</text>
<text x="886.66" y="101.3" font-size="7.2" stroke="#2a2a2a" stroke-width="0.2" text-anchor="middle" fill="#2a2a2a" textLength="63.2" lengthAdjust="spacingAndGlyphs" transform="rotate(-90 886.66 101.3)">Relative expression</text>
<text x="896.36" y="101.3" font-size="7.2" stroke="#2a2a2a" stroke-width="0.2" text-anchor="middle" fill="#2a2a2a" textLength="50.7" lengthAdjust="spacingAndGlyphs" transform="rotate(-90 896.36 101.3)">level to GAPDH</text>
<rect x="471.2" y="236.7" width="16.8" height="63.5" fill="#67676a"/>
<path d="M479.6 236.7L479.6 224.5" stroke="#67676a" stroke-width="1"/>
<path d="M475 224.5L484.2 224.5" stroke="#67676a" stroke-width="1"/>
<rect x="496.9" y="280.7" width="17.1" height="19.5" fill="#5c97d0"/>
<path d="M505.45 280.7L505.45 270" stroke="#5c97d0" stroke-width="1"/>
<path d="M500.85 270L510.05 270" stroke="#5c97d0" stroke-width="1"/>
<path d="M461.7 212.3L461.7 300.7" stroke="#555" stroke-width="1.1"/>
<path d="M461.2 300.2L522.7 300.2" stroke="#555" stroke-width="1.1"/>
<path d="M458.5 300.2L461.7 300.2" stroke="#555" stroke-width="0.9"/>
<text x="457.3" y="302.1" font-size="7.1" stroke="#2a2a2a" stroke-width="0.2" text-anchor="end" fill="#2a2a2a">0.000</text>
<path d="M458.5 278.23L461.7 278.23" stroke="#555" stroke-width="0.9"/>
<text x="457.3" y="280.12" font-size="7.1" stroke="#2a2a2a" stroke-width="0.2" text-anchor="end" fill="#2a2a2a">0.001</text>
<path d="M458.5 256.25L461.7 256.25" stroke="#555" stroke-width="0.9"/>
<text x="457.3" y="258.15" font-size="7.1" stroke="#2a2a2a" stroke-width="0.2" text-anchor="end" fill="#2a2a2a">0.002</text>
<path d="M458.5 234.28L461.7 234.28" stroke="#555" stroke-width="0.9"/>
<text x="457.3" y="236.18" font-size="7.1" stroke="#2a2a2a" stroke-width="0.2" text-anchor="end" fill="#2a2a2a">0.003</text>
<path d="M458.5 212.3L461.7 212.3" stroke="#555" stroke-width="0.9"/>
<text x="457.3" y="214.2" font-size="7.1" stroke="#2a2a2a" stroke-width="0.2" text-anchor="end" fill="#2a2a2a">0.004</text>
<path d="M479.6 300.2L479.6 304" stroke="#555" stroke-width="0.9"/>
<text x="481.2" y="309.6" font-size="6.95" stroke="#2a2a2a" stroke-width="0.2" text-anchor="end" fill="#2a2a2a" transform="rotate(-45 481.2 309.6)">NC-sRNA</text>
<path d="M505.45 300.2L505.45 304" stroke="#555" stroke-width="0.9"/>
<text x="507.05" y="309.6" font-size="6.95" stroke="#2a2a2a" stroke-width="0.2" text-anchor="end" fill="#2a2a2a" transform="rotate(-45 507.05 309.6)">BZL-sRNA-20</text>
<path d="M479.6 215.3L505.8 215.3" stroke="#333" stroke-width="1"/>
<text x="492.7" y="215.1" font-size="6.5" text-anchor="middle" fill="#2a2a2a">*</text>
<text x="492.6" y="201.3" font-size="7.8" stroke="#2a2a2a" stroke-width="0.2" text-anchor="middle" fill="#2a2a2a" font-family='"Liberation Sans", "Noto Sans CJK SC", sans-serif' textLength="23.6" lengthAdjust="spacingAndGlyphs">CXCL2</text>
<text x="426.19" y="255.8" font-size="7.3" stroke="#2a2a2a" stroke-width="0.2" text-anchor="middle" fill="#2a2a2a" textLength="63.6" lengthAdjust="spacingAndGlyphs" transform="rotate(-90 426.19 255.8)">Relative expression</text>
<text x="435.69" y="255.8" font-size="7.3" stroke="#2a2a2a" stroke-width="0.2" text-anchor="middle" fill="#2a2a2a" textLength="51.02" lengthAdjust="spacingAndGlyphs" transform="rotate(-90 435.69 255.8)">level to GAPDH</text>
<rect x="588.9" y="230.1" width="17.8" height="71.3" fill="#67676a"/>
<path d="M597.8 230.1L597.8 215.3" stroke="#67676a" stroke-width="1"/>
<path d="M593.2 215.3L602.4 215.3" stroke="#67676a" stroke-width="1"/>
<rect x="616" y="281" width="18.1" height="20.4" fill="#5c97d0"/>
<path d="M625.05 281L625.05 274" stroke="#5c97d0" stroke-width="1"/>
<path d="M620.45 274L629.65 274" stroke="#5c97d0" stroke-width="1"/>
<path d="M580.2 210.4L580.2 301.9" stroke="#555" stroke-width="1.1"/>
<path d="M579.7 301.4L643 301.4" stroke="#555" stroke-width="1.1"/>
<path d="M577 301.4L580.2 301.4" stroke="#555" stroke-width="0.9"/>
<text x="575.8" y="303.3" font-size="7.1" stroke="#2a2a2a" stroke-width="0.2" text-anchor="end" fill="#2a2a2a">0.00</text>
<path d="M577 271.07L580.2 271.07" stroke="#555" stroke-width="0.9"/>
<text x="575.8" y="272.97" font-size="7.1" stroke="#2a2a2a" stroke-width="0.2" text-anchor="end" fill="#2a2a2a">0.02</text>
<path d="M577 240.73L580.2 240.73" stroke="#555" stroke-width="0.9"/>
<text x="575.8" y="242.63" font-size="7.1" stroke="#2a2a2a" stroke-width="0.2" text-anchor="end" fill="#2a2a2a">0.04</text>
<path d="M577 210.4L580.2 210.4" stroke="#555" stroke-width="0.9"/>
<text x="575.8" y="212.3" font-size="7.1" stroke="#2a2a2a" stroke-width="0.2" text-anchor="end" fill="#2a2a2a">0.06</text>
<path d="M597.8 301.4L597.8 305.2" stroke="#555" stroke-width="0.9"/>
<text x="599.4" y="310.8" font-size="6.95" stroke="#2a2a2a" stroke-width="0.2" text-anchor="end" fill="#2a2a2a" transform="rotate(-45 599.4 310.8)">NC-sRNA</text>
<path d="M625.05 301.4L625.05 305.2" stroke="#555" stroke-width="0.9"/>
<text x="626.65" y="310.8" font-size="6.95" stroke="#2a2a2a" stroke-width="0.2" text-anchor="end" fill="#2a2a2a" transform="rotate(-45 626.65 310.8)">BZL-sRNA-20</text>
<path d="M597.1 209.2L625.5 209.2" stroke="#333" stroke-width="1"/>
<text x="611.3" y="209" font-size="6.5" text-anchor="middle" fill="#2a2a2a">*</text>
<text x="611.75" y="200.8" font-size="8.2" stroke="#2a2a2a" stroke-width="0.2" text-anchor="middle" fill="#2a2a2a" font-family='"Liberation Sans", "Noto Sans CJK SC", sans-serif' textLength="24.7" lengthAdjust="spacingAndGlyphs">CXCL9</text>
<text x="546.05" y="255.8" font-size="7.5" stroke="#2a2a2a" stroke-width="0.2" text-anchor="middle" fill="#2a2a2a" textLength="65.4" lengthAdjust="spacingAndGlyphs" transform="rotate(-90 546.05 255.8)">Relative expression</text>
<text x="556.35" y="255.8" font-size="7.5" stroke="#2a2a2a" stroke-width="0.2" text-anchor="middle" fill="#2a2a2a" textLength="52.46" lengthAdjust="spacingAndGlyphs" transform="rotate(-90 556.35 255.8)">level to GAPDH</text>
<rect x="702.8" y="230.6" width="16.9" height="69.6" fill="#67676a"/>
<path d="M711.25 230.6L711.25 223.1" stroke="#67676a" stroke-width="1"/>
<path d="M706.65 223.1L715.85 223.1" stroke="#67676a" stroke-width="1"/>
<rect x="728.5" y="290.4" width="17" height="9.8" fill="#5c97d0"/>
<path d="M737 290.4L737 288" stroke="#5c97d0" stroke-width="1"/>
<path d="M732.4 288L741.6 288" stroke="#5c97d0" stroke-width="1"/>
<path d="M693.6 212.7L693.6 300.7" stroke="#555" stroke-width="1.1"/>
<path d="M693.1 300.2L754.6 300.2" stroke="#555" stroke-width="1.1"/>
<path d="M690.4 300.2L693.6 300.2" stroke="#555" stroke-width="0.9"/>
<text x="689.2" y="302.1" font-size="7.1" stroke="#2a2a2a" stroke-width="0.2" text-anchor="end" fill="#2a2a2a">0.000</text>
<path d="M690.4 278.32L693.6 278.32" stroke="#555" stroke-width="0.9"/>
<text x="689.2" y="280.22" font-size="7.1" stroke="#2a2a2a" stroke-width="0.2" text-anchor="end" fill="#2a2a2a">0.002</text>
<path d="M690.4 256.45L693.6 256.45" stroke="#555" stroke-width="0.9"/>
<text x="689.2" y="258.35" font-size="7.1" stroke="#2a2a2a" stroke-width="0.2" text-anchor="end" fill="#2a2a2a">0.004</text>
<path d="M690.4 234.57L693.6 234.57" stroke="#555" stroke-width="0.9"/>
<text x="689.2" y="236.47" font-size="7.1" stroke="#2a2a2a" stroke-width="0.2" text-anchor="end" fill="#2a2a2a">0.006</text>
<path d="M690.4 212.7L693.6 212.7" stroke="#555" stroke-width="0.9"/>
<text x="689.2" y="214.6" font-size="7.1" stroke="#2a2a2a" stroke-width="0.2" text-anchor="end" fill="#2a2a2a">0.008</text>
<path d="M711.25 300.2L711.25 304" stroke="#555" stroke-width="0.9"/>
<text x="712.85" y="309.6" font-size="6.95" stroke="#2a2a2a" stroke-width="0.2" text-anchor="end" fill="#2a2a2a" transform="rotate(-45 712.85 309.6)">NC-sRNA</text>
<path d="M737 300.2L737 304" stroke="#555" stroke-width="0.9"/>
<text x="738.6" y="309.6" font-size="6.95" stroke="#2a2a2a" stroke-width="0.2" text-anchor="end" fill="#2a2a2a" transform="rotate(-45 738.6 309.6)">BZL-sRNA-20</text>
<path d="M711 215.3L737.2 215.3" stroke="#333" stroke-width="1"/>
<text x="724.1" y="215.1" font-size="6.5" text-anchor="middle" fill="#2a2a2a">***</text>
<text x="724.1" y="201.3" font-size="7.8" stroke="#2a2a2a" stroke-width="0.2" text-anchor="middle" fill="#2a2a2a" font-family='"Liberation Sans", "Noto Sans CJK SC", sans-serif' textLength="17.4" lengthAdjust="spacingAndGlyphs">IP-10</text>
<text x="657.79" y="255.8" font-size="7.3" stroke="#2a2a2a" stroke-width="0.2" text-anchor="middle" fill="#2a2a2a" textLength="63.6" lengthAdjust="spacingAndGlyphs" transform="rotate(-90 657.79 255.8)">Relative expression</text>
<text x="667.59" y="255.8" font-size="7.3" stroke="#2a2a2a" stroke-width="0.2" text-anchor="middle" fill="#2a2a2a" textLength="51.02" lengthAdjust="spacingAndGlyphs" transform="rotate(-90 667.59 255.8)">level to GAPDH</text>
<rect x="809.9" y="236.2" width="16.6" height="63" fill="#67676a"/>
<path d="M818.2 236.2L818.2 230.4" stroke="#67676a" stroke-width="1"/>
<path d="M813.6 230.4L822.8 230.4" stroke="#67676a" stroke-width="1"/>
<rect x="834.8" y="278.8" width="16.6" height="20.4" fill="#5c97d0"/>
<path d="M843.1 278.8L843.1 271.6" stroke="#5c97d0" stroke-width="1"/>
<path d="M838.5 271.6L847.7 271.6" stroke="#5c97d0" stroke-width="1"/>
<path d="M801.2 214.4L801.2 299.7" stroke="#555" stroke-width="1.1"/>
<path d="M800.7 299.2L860.1 299.2" stroke="#555" stroke-width="1.1"/>
<path d="M798 299.2L801.2 299.2" stroke="#555" stroke-width="0.9"/>
<text x="796.8" y="301.1" font-size="7.1" stroke="#2a2a2a" stroke-width="0.2" text-anchor="end" fill="#2a2a2a">0.0000</text>
<path d="M798 278L801.2 278" stroke="#555" stroke-width="0.9"/>
<text x="796.8" y="279.9" font-size="7.1" stroke="#2a2a2a" stroke-width="0.2" text-anchor="end" fill="#2a2a2a">0.0005</text>
<path d="M798 256.8L801.2 256.8" stroke="#555" stroke-width="0.9"/>
<text x="796.8" y="258.7" font-size="7.1" stroke="#2a2a2a" stroke-width="0.2" text-anchor="end" fill="#2a2a2a">0.0010</text>
<path d="M798 235.6L801.2 235.6" stroke="#555" stroke-width="0.9"/>
<text x="796.8" y="237.5" font-size="7.1" stroke="#2a2a2a" stroke-width="0.2" text-anchor="end" fill="#2a2a2a">0.0015</text>
<path d="M798 214.4L801.2 214.4" stroke="#555" stroke-width="0.9"/>
<text x="796.8" y="216.3" font-size="7.1" stroke="#2a2a2a" stroke-width="0.2" text-anchor="end" fill="#2a2a2a">0.0020</text>
<path d="M818.2 299.2L818.2 303" stroke="#555" stroke-width="0.9"/>
<text x="819.8" y="308.6" font-size="6.95" stroke="#2a2a2a" stroke-width="0.2" text-anchor="end" fill="#2a2a2a" transform="rotate(-45 819.8 308.6)">NC-sRNA</text>
<path d="M843.1 299.2L843.1 303" stroke="#555" stroke-width="0.9"/>
<text x="844.7" y="308.6" font-size="6.95" stroke="#2a2a2a" stroke-width="0.2" text-anchor="end" fill="#2a2a2a" transform="rotate(-45 844.7 308.6)">BZL-sRNA-20</text>
<path d="M817.8 222.1L843.6 222.1" stroke="#333" stroke-width="1"/>
<text x="830.7" y="221.9" font-size="6.5" text-anchor="middle" fill="#2a2a2a">**</text>
<text x="830.65" y="201" font-size="7.8" stroke="#2a2a2a" stroke-width="0.2" text-anchor="middle" fill="#2a2a2a" font-family='"Liberation Sans", "Noto Sans CJK SC", sans-serif' textLength="19.5" lengthAdjust="spacingAndGlyphs">TNF-α</text>
<text x="762.7" y="256.25" font-size="7" stroke="#2a2a2a" stroke-width="0.2" text-anchor="middle" fill="#2a2a2a" textLength="61.1" lengthAdjust="spacingAndGlyphs" transform="rotate(-90 762.7 256.25)">Relative expression</text>
<text x="772.8" y="256.25" font-size="7" stroke="#2a2a2a" stroke-width="0.2" text-anchor="middle" fill="#2a2a2a" textLength="49.01" lengthAdjust="spacingAndGlyphs" transform="rotate(-90 772.8 256.25)">level to GAPDH</text>
<rect x="924.9" y="235" width="16.9" height="65.2" fill="#67676a"/>
<path d="M933.35 235L933.35 229.4" stroke="#67676a" stroke-width="1"/>
<path d="M928.75 229.4L937.95 229.4" stroke="#67676a" stroke-width="1"/>
<rect x="950.5" y="287.1" width="17.1" height="13.1" fill="#5c97d0"/>
<path d="M959.05 287.1L959.05 281.4" stroke="#5c97d0" stroke-width="1"/>
<path d="M954.45 281.4L963.65 281.4" stroke="#5c97d0" stroke-width="1"/>
<path d="M916.2 212.7L916.2 300.7" stroke="#555" stroke-width="1.1"/>
<path d="M915.7 300.2L976.3 300.2" stroke="#555" stroke-width="1.1"/>
<path d="M913 300.2L916.2 300.2" stroke="#555" stroke-width="0.9"/>
<text x="911.8" y="302.1" font-size="7.1" stroke="#2a2a2a" stroke-width="0.2" text-anchor="end" fill="#2a2a2a">0.000</text>
<path d="M913 282.7L916.2 282.7" stroke="#555" stroke-width="0.9"/>
<text x="911.8" y="284.6" font-size="7.1" stroke="#2a2a2a" stroke-width="0.2" text-anchor="end" fill="#2a2a2a">0.001</text>
<path d="M913 265.2L916.2 265.2" stroke="#555" stroke-width="0.9"/>
<text x="911.8" y="267.1" font-size="7.1" stroke="#2a2a2a" stroke-width="0.2" text-anchor="end" fill="#2a2a2a">0.002</text>
<path d="M913 247.7L916.2 247.7" stroke="#555" stroke-width="0.9"/>
<text x="911.8" y="249.6" font-size="7.1" stroke="#2a2a2a" stroke-width="0.2" text-anchor="end" fill="#2a2a2a">0.003</text>
<path d="M913 230.2L916.2 230.2" stroke="#555" stroke-width="0.9"/>
<text x="911.8" y="232.1" font-size="7.1" stroke="#2a2a2a" stroke-width="0.2" text-anchor="end" fill="#2a2a2a">0.004</text>
<path d="M913 212.7L916.2 212.7" stroke="#555" stroke-width="0.9"/>
<text x="911.8" y="214.6" font-size="7.1" stroke="#2a2a2a" stroke-width="0.2" text-anchor="end" fill="#2a2a2a">0.005</text>
<path d="M933.35 300.2L933.35 304" stroke="#555" stroke-width="0.9"/>
<text x="934.95" y="309.6" font-size="6.95" stroke="#2a2a2a" stroke-width="0.2" text-anchor="end" fill="#2a2a2a" transform="rotate(-45 934.95 309.6)">NC-sRNA</text>
<path d="M959.05 300.2L959.05 304" stroke="#555" stroke-width="0.9"/>
<text x="960.65" y="309.6" font-size="6.95" stroke="#2a2a2a" stroke-width="0.2" text-anchor="end" fill="#2a2a2a" transform="rotate(-45 960.65 309.6)">BZL-sRNA-20</text>
<path d="M933.1 218.9L959.8 218.9" stroke="#333" stroke-width="1"/>
<text x="946.45" y="218.7" font-size="6.5" text-anchor="middle" fill="#2a2a2a">***</text>
<text x="946.25" y="201" font-size="7.8" stroke="#2a2a2a" stroke-width="0.2" text-anchor="middle" fill="#2a2a2a" font-family='"Liberation Sans", "Noto Sans CJK SC", sans-serif' textLength="15.5" lengthAdjust="spacingAndGlyphs">IFNγ</text>
<text x="879.89" y="255.8" font-size="7.3" stroke="#2a2a2a" stroke-width="0.2" text-anchor="middle" fill="#2a2a2a" textLength="63.6" lengthAdjust="spacingAndGlyphs" transform="rotate(-90 879.89 255.8)">Relative expression</text>
<text x="890.19" y="255.8" font-size="7.3" stroke="#2a2a2a" stroke-width="0.2" text-anchor="middle" fill="#2a2a2a" textLength="51.02" lengthAdjust="spacingAndGlyphs" transform="rotate(-90 890.19 255.8)">level to GAPDH</text>
<text x="11.6" y="355.2" font-size="20" fill="#222" font-weight="bold">C</text>
<text x="155.05" y="373.9" font-size="11.9" text-anchor="middle" fill="#3a3a3a" textLength="30.5" lengthAdjust="spacingAndGlyphs">H5N1</text>
<text x="411.7" y="372.6" font-size="12.2" text-anchor="middle" fill="#4a4a4a" font-family='"Liberation Serif", "Noto Serif CJK SC", serif' textLength="36.6" lengthAdjust="spacingAndGlyphs">原始株</text>
<text x="614.9" y="374" font-size="12" fill="#333"><tspan textLength="24.2" lengthAdjust="spacingAndGlyphs">Beta</tspan><tspan x="643.6" font-family='"Liberation Sans", "Noto Sans CJK SC", sans-serif' font-weight="350" fill="#3a3a3a" textLength="36.6" lengthAdjust="spacingAndGlyphs">变异株</tspan></text>
<text x="840.9" y="373.8" font-size="12" fill="#333"><tspan textLength="46.7" lengthAdjust="spacingAndGlyphs">Omicron</tspan><tspan x="891.8" font-family='"Liberation Sans", "Noto Sans CJK SC", sans-serif' font-weight="350" fill="#3a3a3a" textLength="36.8" lengthAdjust="spacingAndGlyphs">变异株</tspan></text>
<path d="M97 466.2L97 461.9" stroke="#3a3a3a" stroke-width="1.3"/>
<path d="M90.2 461.9L103.8 461.9" stroke="#3a3a3a" stroke-width="1.5"/>
<rect x="82.95" y="466.75" width="28.1" height="85.65" fill="#fff" stroke="#333" stroke-width="1.1"/>
<path d="M140 502.5L140 500" stroke="#3a3a3a" stroke-width="1.3"/>
<path d="M133.2 500L146.8 500" stroke="#3a3a3a" stroke-width="1.5"/>
<rect x="125.6" y="502.5" width="28.8" height="49.9" fill="#333334"/>
<path d="M183.25 501.5L183.25 499.6" stroke="#3a3a3a" stroke-width="1.3"/>
<path d="M176.45 499.6L190.05 499.6" stroke="#3a3a3a" stroke-width="1.5"/>
<rect x="168.8" y="501.5" width="28.9" height="50.9" fill="#686869"/>
<path d="M226.7 489.1L226.7 485.6" stroke="#3a3a3a" stroke-width="1.3"/>
<path d="M219.9 485.6L233.5 485.6" stroke="#3a3a3a" stroke-width="1.5"/>
<rect x="212.5" y="489.1" width="28.4" height="63.3" fill="#5b95d0"/>
<path d="M74.8 425.2L74.8 553" stroke="#3a3a3a" stroke-width="1.2"/>
<path d="M74.2 552.4L248.1 552.4" stroke="#3a3a3a" stroke-width="1.2"/>
<path d="M70.3 552.4L74.8 552.4" stroke="#3a3a3a" stroke-width="1"/>
<text x="69.4" y="556.94" font-size="12.6" stroke="#484848" stroke-width="0.15" text-anchor="end" fill="#484848" textLength="17" lengthAdjust="spacingAndGlyphs">0.0</text>
<path d="M70.3 510L74.8 510" stroke="#3a3a3a" stroke-width="1"/>
<text x="69.4" y="514.54" font-size="12.6" stroke="#484848" stroke-width="0.15" text-anchor="end" fill="#484848" textLength="17" lengthAdjust="spacingAndGlyphs">0.5</text>
<path d="M70.3 467.7L74.8 467.7" stroke="#3a3a3a" stroke-width="1"/>
<text x="69.4" y="472.24" font-size="12.6" stroke="#484848" stroke-width="0.15" text-anchor="end" fill="#484848" textLength="17" lengthAdjust="spacingAndGlyphs">1.0</text>
<path d="M70.3 425.2L74.8 425.2" stroke="#3a3a3a" stroke-width="1"/>
<text x="69.4" y="429.74" font-size="12.6" stroke="#484848" stroke-width="0.15" text-anchor="end" fill="#484848" textLength="17" lengthAdjust="spacingAndGlyphs">1.5</text>
<path d="M97 552.4L97 557.8" stroke="#3a3a3a" stroke-width="1"/>
<path d="M140 552.4L140 557.8" stroke="#3a3a3a" stroke-width="1"/>
<path d="M183.25 552.4L183.25 557.8" stroke="#3a3a3a" stroke-width="1"/>
<path d="M226.7 552.4L226.7 557.8" stroke="#3a3a3a" stroke-width="1"/>
<text x="101.8" y="566.4" font-size="10.6" stroke="#484848" stroke-width="0.15" text-anchor="end" fill="#484848" transform="rotate(-45 101.8 566.4)">Native</text>
<text x="144.8" y="566.4" font-size="10.6" stroke="#484848" stroke-width="0.15" text-anchor="end" fill="#484848" transform="rotate(-45 144.8 566.4)">H5N1</text>
<text x="188.05" y="566.4" font-size="10.6" stroke="#484848" stroke-width="0.15" text-anchor="end" fill="#484848" transform="rotate(-45 188.05 566.4)">NC-sRNA</text>
<text x="195.85" y="575.2" font-size="10.6" stroke="#484848" stroke-width="0.15" text-anchor="end" fill="#484848" transform="rotate(-45 195.85 575.2)">+ H5N1</text>
<text x="231.5" y="566.4" font-size="10.6" stroke="#484848" stroke-width="0.15" text-anchor="end" fill="#484848" transform="rotate(-45 231.5 566.4)">BZL-sRNA-20</text>
<text x="236.1" y="578.4" font-size="10.6" stroke="#484848" stroke-width="0.15" text-anchor="end" fill="#484848" transform="rotate(-45 236.1 578.4)">+ H5N1</text>
<path d="M179.8 457.3L227.1 457.3" stroke="#333" stroke-width="1.1"/>
<text x="204.15" y="454.92" font-size="14" text-anchor="middle" fill="#505050" font-weight="bold" textLength="11.2" lengthAdjust="spacingAndGlyphs">**</text>
<text x="43.22" y="489.75" font-size="12.8" stroke="#484848" stroke-width="0.15" text-anchor="middle" fill="#484848" textLength="91.1" lengthAdjust="spacingAndGlyphs" transform="rotate(-90 43.22 489.75)">Cell viability (%)</text>
<path d="M338.05 465.1L338.05 462.3" stroke="#333" stroke-width="1.3"/>
<path d="M332.55 462.3L343.55 462.3" stroke="#333" stroke-width="1.5"/>
<rect x="328.05" y="465.65" width="20" height="86.65" fill="#fff" stroke="#333" stroke-width="1.1"/>
<path d="M369.1 504.7L369.1 502.6" stroke="#333334" stroke-width="1.3"/>
<path d="M363.6 502.6L374.6 502.6" stroke="#333334" stroke-width="1.5"/>
<rect x="358.7" y="504.7" width="20.8" height="47.6" fill="#333334"/>
<path d="M400.05 499L400.05 495.8" stroke="#848488" stroke-width="1.3"/>
<path d="M394.55 495.8L405.55 495.8" stroke="#848488" stroke-width="1.5"/>
<rect x="389.7" y="499" width="20.7" height="53.3" fill="#848488"/>
<path d="M431 500.9L431 498.5" stroke="#5b95d0" stroke-width="1.3"/>
<path d="M425.5 498.5L436.5 498.5" stroke="#5b95d0" stroke-width="1.5"/>
<rect x="420.6" y="500.9" width="20.8" height="51.4" fill="#5b95d0"/>
<path d="M462.25 474.5L462.25 468.9" stroke="#5b95d0" stroke-width="1.3"/>
<path d="M456.75 468.9L467.75 468.9" stroke="#5b95d0" stroke-width="1.5"/>
<rect x="451.9" y="474.5" width="20.7" height="77.8" fill="#5b95d0"/>
<path d="M493.15 448.7L493.15 443.6" stroke="#5b95d0" stroke-width="1.3"/>
<path d="M487.65 443.6L498.65 443.6" stroke="#5b95d0" stroke-width="1.5"/>
<rect x="482.8" y="448.7" width="20.7" height="103.6" fill="#5b95d0"/>
<path d="M317.4 421L317.4 552.9" stroke="#3a3a3a" stroke-width="1.2"/>
<path d="M316.8 552.3L514.5 552.3" stroke="#3a3a3a" stroke-width="1.2"/>
<path d="M312.2 552.3L317.4 552.3" stroke="#3a3a3a" stroke-width="1"/>
<text x="310.5" y="556.26" font-size="11" stroke="#333" stroke-width="0.15" text-anchor="end" textLength="13.2" lengthAdjust="spacingAndGlyphs">0.0</text>
<path d="M312.2 509L317.4 509" stroke="#3a3a3a" stroke-width="1"/>
<text x="310.5" y="512.96" font-size="11" stroke="#333" stroke-width="0.15" text-anchor="end" textLength="13.2" lengthAdjust="spacingAndGlyphs">0.5</text>
<path d="M312.2 465.1L317.4 465.1" stroke="#3a3a3a" stroke-width="1"/>
<text x="310.5" y="469.06" font-size="11" stroke="#333" stroke-width="0.15" text-anchor="end" textLength="13.2" lengthAdjust="spacingAndGlyphs">1.0</text>
<path d="M312.2 421L317.4 421" stroke="#3a3a3a" stroke-width="1"/>
<text x="310.5" y="424.96" font-size="11" stroke="#333" stroke-width="0.15" text-anchor="end" textLength="13.2" lengthAdjust="spacingAndGlyphs">1.5</text>
<path d="M338.05 552.3L338.05 557.7" stroke="#3a3a3a" stroke-width="1"/>
<path d="M369.1 552.3L369.1 557.7" stroke="#3a3a3a" stroke-width="1"/>
<path d="M400.05 552.3L400.05 557.7" stroke="#3a3a3a" stroke-width="1"/>
<path d="M431 552.3L431 557.7" stroke="#3a3a3a" stroke-width="1"/>
<path d="M462.25 552.3L462.25 557.7" stroke="#3a3a3a" stroke-width="1"/>
<path d="M493.15 552.3L493.15 557.7" stroke="#3a3a3a" stroke-width="1"/>
<text x="341.25" y="566.3" font-size="10.1" stroke="#333" stroke-width="0.15" text-anchor="end" transform="rotate(-45 341.25 566.3)">Blank</text>
<text x="372.3" y="566.3" font-size="10.1" stroke="#333" stroke-width="0.15" text-anchor="end" transform="rotate(-45 372.3 566.3)">SARS-CoV-2</text>
<text x="403.25" y="566.3" font-size="10.1" stroke="#333" stroke-width="0.15" text-anchor="end" transform="rotate(-45 403.25 566.3)">NC-sRNA</text>
<text x="436.2" y="564" font-size="10.1" stroke="#333" stroke-width="0.15" text-anchor="end" transform="rotate(-45 436.2 564)">10 nM</text>
<text x="467.45" y="564" font-size="10.1" stroke="#333" stroke-width="0.15" text-anchor="end" transform="rotate(-45 467.45 564)">30 nM</text>
<text x="498.35" y="564" font-size="10.1" stroke="#333" stroke-width="0.15" text-anchor="end" transform="rotate(-45 498.35 564)">100 nM</text>
<path d="M399.6 409.4L493 409.4" stroke="#333" stroke-width="1.1"/>
<text x="447.5" y="409.41" font-size="12.6" text-anchor="middle" fill="#2a2a2a" font-weight="bold" textLength="19.48" lengthAdjust="spacingAndGlyphs">****</text>
<path d="M399.6 434.2L462.4 434.2" stroke="#333" stroke-width="1.1"/>
<text x="431.4" y="435.51" font-size="12.6" text-anchor="middle" fill="#2a2a2a" font-weight="bold" textLength="9.74" lengthAdjust="spacingAndGlyphs">**</text>
<path d="M431 591.4L493.8 591.4" stroke="#4a4a4a" stroke-width="1.3"/>
<text x="463.2" y="606.5" font-size="8.6" stroke="#333" stroke-width="0.15" text-anchor="middle" textLength="55.2" lengthAdjust="spacingAndGlyphs">BZL-sRNA-20</text>
<text x="290.83" y="486.15" font-size="11" stroke="#333" stroke-width="0.15" text-anchor="middle" textLength="76.1" lengthAdjust="spacingAndGlyphs" transform="rotate(-90 290.83 486.15)">Cell Viability(%)</text>
<path d="M575.95 464.6L575.95 463" stroke="#333" stroke-width="1.3"/>
<path d="M570.45 463L581.45 463" stroke="#333" stroke-width="1.5"/>
<rect x="565.75" y="465.15" width="20.4" height="86.65" fill="#fff" stroke="#333" stroke-width="1.1"/>
<path d="M607.2 491.5L607.2 489.9" stroke="#333334" stroke-width="1.3"/>
<path d="M601.7 489.9L612.7 489.9" stroke="#333334" stroke-width="1.5"/>
<rect x="596.7" y="491.5" width="21" height="60.3" fill="#333334"/>
<path d="M638.25 499.8L638.25 496.6" stroke="#848488" stroke-width="1.3"/>
<path d="M632.75 496.6L643.75 496.6" stroke="#848488" stroke-width="1.5"/>
<rect x="628" y="499.8" width="20.5" height="52" fill="#848488"/>
<path d="M669.25 486.1L669.25 483.7" stroke="#5b95d0" stroke-width="1.3"/>
<path d="M663.75 483.7L674.75 483.7" stroke="#5b95d0" stroke-width="1.5"/>
<rect x="659" y="486.1" width="20.5" height="65.7" fill="#5b95d0"/>
<path d="M700.2 469.4L700.2 467.5" stroke="#5b95d0" stroke-width="1.3"/>
<path d="M694.7 467.5L705.7 467.5" stroke="#5b95d0" stroke-width="1.5"/>
<rect x="690" y="469.4" width="20.4" height="82.4" fill="#5b95d0"/>
<path d="M731.3 452.7L731.3 449.8" stroke="#5b95d0" stroke-width="1.3"/>
<path d="M725.8 449.8L736.8 449.8" stroke="#5b95d0" stroke-width="1.5"/>
<rect x="720.9" y="452.7" width="20.8" height="99.1" fill="#5b95d0"/>
<path d="M555.4 421L555.4 552.4" stroke="#3a3a3a" stroke-width="1.2"/>
<path d="M554.8 551.8L749 551.8" stroke="#3a3a3a" stroke-width="1.2"/>
<path d="M550.2 551.8L555.4 551.8" stroke="#3a3a3a" stroke-width="1"/>
<text x="549.3" y="555.76" font-size="11" stroke="#333" stroke-width="0.15" text-anchor="end" textLength="13.5" lengthAdjust="spacingAndGlyphs">0.0</text>
<path d="M550.2 508.5L555.4 508.5" stroke="#3a3a3a" stroke-width="1"/>
<text x="549.3" y="512.46" font-size="11" stroke="#333" stroke-width="0.15" text-anchor="end" textLength="13.5" lengthAdjust="spacingAndGlyphs">0.5</text>
<path d="M550.2 464.6L555.4 464.6" stroke="#3a3a3a" stroke-width="1"/>
<text x="549.3" y="468.56" font-size="11" stroke="#333" stroke-width="0.15" text-anchor="end" textLength="13.5" lengthAdjust="spacingAndGlyphs">1.0</text>
<path d="M550.2 421L555.4 421" stroke="#3a3a3a" stroke-width="1"/>
<text x="549.3" y="424.96" font-size="11" stroke="#333" stroke-width="0.15" text-anchor="end" textLength="13.5" lengthAdjust="spacingAndGlyphs">1.5</text>
<path d="M575.95 551.8L575.95 557.2" stroke="#3a3a3a" stroke-width="1"/>
<path d="M607.2 551.8L607.2 557.2" stroke="#3a3a3a" stroke-width="1"/>
<path d="M638.25 551.8L638.25 557.2" stroke="#3a3a3a" stroke-width="1"/>
<path d="M669.25 551.8L669.25 557.2" stroke="#3a3a3a" stroke-width="1"/>
<path d="M700.2 551.8L700.2 557.2" stroke="#3a3a3a" stroke-width="1"/>
<path d="M731.3 551.8L731.3 557.2" stroke="#3a3a3a" stroke-width="1"/>
<text x="579.15" y="565.8" font-size="10.1" stroke="#333" stroke-width="0.15" text-anchor="end" transform="rotate(-45 579.15 565.8)">Blank</text>
<text x="610.4" y="565.8" font-size="10.1" stroke="#333" stroke-width="0.15" text-anchor="end" transform="rotate(-45 610.4 565.8)">Beta</text>
<text x="641.45" y="565.8" font-size="10.1" stroke="#333" stroke-width="0.15" text-anchor="end" transform="rotate(-45 641.45 565.8)">NC-sRNA</text>
<text x="674.45" y="563.5" font-size="10.1" stroke="#333" stroke-width="0.15" text-anchor="end" transform="rotate(-45 674.45 563.5)">10 nM</text>
<text x="705.4" y="563.5" font-size="10.1" stroke="#333" stroke-width="0.15" text-anchor="end" transform="rotate(-45 705.4 563.5)">30 nM</text>
<text x="736.5" y="563.5" font-size="10.1" stroke="#333" stroke-width="0.15" text-anchor="end" transform="rotate(-45 736.5 563.5)">100 nM</text>
<path d="M638 410.2L731.2 410.2" stroke="#333" stroke-width="1.1"/>
<text x="686.2" y="410.21" font-size="12.6" text-anchor="middle" fill="#2a2a2a" font-weight="bold" textLength="19.48" lengthAdjust="spacingAndGlyphs">****</text>
<path d="M638 435.2L700.5 435.2" stroke="#333" stroke-width="1.1"/>
<text x="670.6" y="436.91" font-size="12.6" text-anchor="middle" fill="#2a2a2a" font-weight="bold" textLength="19.48" lengthAdjust="spacingAndGlyphs">****</text>
<path d="M639 457L671.4 457" stroke="#333" stroke-width="1.1"/>
<text x="655" y="459.21" font-size="12.6" text-anchor="middle" fill="#2a2a2a" font-weight="bold" textLength="9.74" lengthAdjust="spacingAndGlyphs">**</text>
<path d="M668.9 592.6L731.7 592.6" stroke="#4a4a4a" stroke-width="1.3"/>
<text x="701.45" y="606.5" font-size="8.6" stroke="#333" stroke-width="0.15" text-anchor="middle" textLength="55.5" lengthAdjust="spacingAndGlyphs">BZL-sRNA-20</text>
<text x="528.93" y="486" font-size="11" stroke="#333" stroke-width="0.15" text-anchor="middle" textLength="74.6" lengthAdjust="spacingAndGlyphs" transform="rotate(-90 528.93 486)">Cell Viability(%)</text>
<path d="M813.95 464.6L813.95 457.9" stroke="#333" stroke-width="1.3"/>
<path d="M808.45 457.9L819.45 457.9" stroke="#333" stroke-width="1.5"/>
<rect x="803.85" y="465.15" width="20.2" height="86.65" fill="#fff" stroke="#333" stroke-width="1.1"/>
<path d="M844.65 491.2L844.65 487.5" stroke="#333334" stroke-width="1.3"/>
<path d="M839.15 487.5L850.15 487.5" stroke="#333334" stroke-width="1.5"/>
<rect x="834.3" y="491.2" width="20.7" height="60.6" fill="#333334"/>
<path d="M875.8 484.1L875.8 481.6" stroke="#848488" stroke-width="1.3"/>
<path d="M870.3 481.6L881.3 481.6" stroke="#848488" stroke-width="1.5"/>
<rect x="865.6" y="484.1" width="20.4" height="67.7" fill="#848488"/>
<path d="M907.15 474.3L907.15 467.5" stroke="#5b95d0" stroke-width="1.3"/>
<path d="M901.65 467.5L912.65 467.5" stroke="#5b95d0" stroke-width="1.5"/>
<rect x="896.9" y="474.3" width="20.5" height="77.5" fill="#5b95d0"/>
<path d="M938.1 463.5L938.1 460" stroke="#5b95d0" stroke-width="1.3"/>
<path d="M932.6 460L943.6 460" stroke="#5b95d0" stroke-width="1.5"/>
<rect x="927.9" y="463.5" width="20.4" height="88.3" fill="#5b95d0"/>
<path d="M969.2 443.9L969.2 440.3" stroke="#5b95d0" stroke-width="1.3"/>
<path d="M963.7 440.3L974.7 440.3" stroke="#5b95d0" stroke-width="1.5"/>
<rect x="959.1" y="443.9" width="20.2" height="107.9" fill="#5b95d0"/>
<path d="M793.1 421L793.1 552.4" stroke="#3a3a3a" stroke-width="1.2"/>
<path d="M792.5 551.8L990.4 551.8" stroke="#3a3a3a" stroke-width="1.2"/>
<path d="M787.9 551.8L793.1 551.8" stroke="#3a3a3a" stroke-width="1"/>
<text x="787.5" y="555.76" font-size="11" stroke="#333" stroke-width="0.15" text-anchor="end" textLength="13.5" lengthAdjust="spacingAndGlyphs">0.0</text>
<path d="M787.9 508.2L793.1 508.2" stroke="#3a3a3a" stroke-width="1"/>
<text x="787.5" y="512.16" font-size="11" stroke="#333" stroke-width="0.15" text-anchor="end" textLength="13.5" lengthAdjust="spacingAndGlyphs">0.5</text>
<path d="M787.9 464.6L793.1 464.6" stroke="#3a3a3a" stroke-width="1"/>
<text x="787.5" y="468.56" font-size="11" stroke="#333" stroke-width="0.15" text-anchor="end" textLength="13.5" lengthAdjust="spacingAndGlyphs">1.0</text>
<path d="M787.9 421L793.1 421" stroke="#3a3a3a" stroke-width="1"/>
<text x="787.5" y="424.96" font-size="11" stroke="#333" stroke-width="0.15" text-anchor="end" textLength="13.5" lengthAdjust="spacingAndGlyphs">1.5</text>
<path d="M813.95 551.8L813.95 557.2" stroke="#3a3a3a" stroke-width="1"/>
<path d="M844.65 551.8L844.65 557.2" stroke="#3a3a3a" stroke-width="1"/>
<path d="M875.8 551.8L875.8 557.2" stroke="#3a3a3a" stroke-width="1"/>
<path d="M907.15 551.8L907.15 557.2" stroke="#3a3a3a" stroke-width="1"/>
<path d="M938.1 551.8L938.1 557.2" stroke="#3a3a3a" stroke-width="1"/>
<path d="M969.2 551.8L969.2 557.2" stroke="#3a3a3a" stroke-width="1"/>
<text x="817.15" y="565.8" font-size="10.1" stroke="#333" stroke-width="0.15" text-anchor="end" transform="rotate(-45 817.15 565.8)">Blank</text>
<text x="847.85" y="565.8" font-size="10.1" stroke="#333" stroke-width="0.15" text-anchor="end" transform="rotate(-45 847.85 565.8)">Omicron</text>
<text x="879" y="565.8" font-size="10.1" stroke="#333" stroke-width="0.15" text-anchor="end" transform="rotate(-45 879 565.8)">NC-sRNA</text>
<text x="912.35" y="563.5" font-size="10.1" stroke="#333" stroke-width="0.15" text-anchor="end" transform="rotate(-45 912.35 563.5)">10 nM</text>
<text x="943.3" y="563.5" font-size="10.1" stroke="#333" stroke-width="0.15" text-anchor="end" transform="rotate(-45 943.3 563.5)">30 nM</text>
<text x="974.4" y="563.5" font-size="10.1" stroke="#333" stroke-width="0.15" text-anchor="end" transform="rotate(-45 974.4 563.5)">100 nM</text>
<path d="M875.6 409.9L969 409.9" stroke="#333" stroke-width="1.1"/>
<text x="923.8" y="410.21" font-size="12.6" text-anchor="middle" fill="#2a2a2a" font-weight="bold" textLength="19.48" lengthAdjust="spacingAndGlyphs">****</text>
<path d="M875.6 435.2L938.6 435.2" stroke="#333" stroke-width="1.1"/>
<text x="907.7" y="436.91" font-size="12.6" text-anchor="middle" fill="#2a2a2a" font-weight="bold" textLength="9.74" lengthAdjust="spacingAndGlyphs">**</text>
<path d="M907 591.8L969.5 591.8" stroke="#4a4a4a" stroke-width="1.3"/>
<text x="939.35" y="605.5" font-size="8.6" stroke="#333" stroke-width="0.15" text-anchor="middle" textLength="55.1" lengthAdjust="spacingAndGlyphs">BZL-sRNA-20</text>
<text x="767.13" y="485.6" font-size="11" stroke="#333" stroke-width="0.15" text-anchor="middle" textLength="75.4" lengthAdjust="spacingAndGlyphs" transform="rotate(-90 767.13 485.6)">Cell Viability(%)</text>
</svg>
</body></html>
